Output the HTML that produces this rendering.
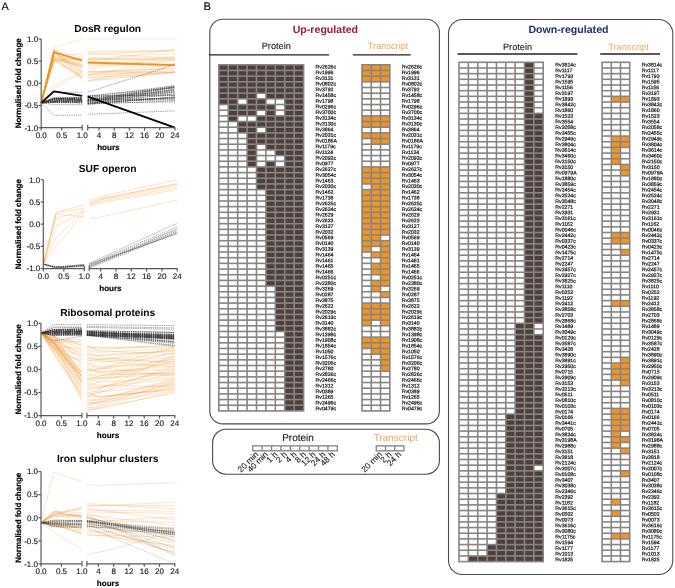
<!DOCTYPE html><html><head><meta charset="utf-8"><style>html,body{margin:0;padding:0;background:#fff;width:675px;height:588px;overflow:hidden}svg{display:block}</style></head><body>
<svg width="675" height="588" viewBox="0 0 675 588" text-rendering="geometricPrecision" font-family='"Liberation Sans", Arial, sans-serif'>
<rect width="675" height="588" fill="#fff"/>
<text x="1.5" y="9.7" font-size="10.9" fill="#000" stroke="#000" stroke-width="0.1">A</text>
<text x="203.5" y="9.9" font-size="11.2" fill="#000" stroke="#000" stroke-width="0.1">B</text>
<g>
<polyline points="41.20,102.86 53.91,59.46 68.06,61.58 82.20,66.96" fill="none" stroke="#f3a64c" stroke-width="0.55" stroke-opacity="0.5"/>
<polyline points="41.20,102.86 53.91,60.79 68.06,69.10 82.20,76.00" fill="none" stroke="#f3a64c" stroke-width="0.55" stroke-opacity="0.5"/>
<polyline points="41.20,102.86 53.91,60.24 68.06,67.36 82.20,76.46" fill="none" stroke="#f3a64c" stroke-width="0.55" stroke-opacity="0.5"/>
<polyline points="41.20,102.86 53.91,52.90 68.06,61.73 82.20,70.31" fill="none" stroke="#f3a64c" stroke-width="0.55" stroke-opacity="0.5"/>
<polyline points="41.20,102.86 53.91,52.36 68.06,63.04 82.20,72.72" fill="none" stroke="#f3a64c" stroke-width="0.55" stroke-opacity="0.5"/>
<polyline points="41.20,102.86 53.91,50.69 68.06,56.89 82.20,62.56" fill="none" stroke="#f3a64c" stroke-width="0.55" stroke-opacity="0.5"/>
<polyline points="41.20,102.86 53.91,50.31 68.06,59.15 82.20,65.68" fill="none" stroke="#f3a64c" stroke-width="0.55" stroke-opacity="0.5"/>
<polyline points="41.20,102.86 53.91,58.45 68.06,62.90 82.20,65.56" fill="none" stroke="#f3a64c" stroke-width="0.55" stroke-opacity="0.5"/>
<polyline points="41.20,102.86 53.91,56.47 68.06,61.15 82.20,64.58" fill="none" stroke="#f3a64c" stroke-width="0.55" stroke-opacity="0.5"/>
<polyline points="41.20,102.86 53.91,50.50 68.06,53.95 82.20,57.49" fill="none" stroke="#f3a64c" stroke-width="0.55" stroke-opacity="0.5"/>
<polyline points="41.20,102.86 53.91,54.96 68.06,64.81 82.20,72.67" fill="none" stroke="#f3a64c" stroke-width="0.55" stroke-opacity="0.5"/>
<polyline points="41.20,102.86 53.91,49.25 68.06,59.40 82.20,68.74" fill="none" stroke="#f3a64c" stroke-width="0.55" stroke-opacity="0.5"/>
<polyline points="41.20,102.86 53.91,52.22 68.06,63.68 82.20,74.60" fill="none" stroke="#f3a64c" stroke-width="0.55" stroke-opacity="0.5"/>
<polyline points="41.20,102.86 53.91,58.29 68.06,68.29 82.20,78.95" fill="none" stroke="#f3a64c" stroke-width="0.55" stroke-opacity="0.5"/>
<polyline points="41.20,102.86 53.91,56.57 68.06,63.04 82.20,67.74" fill="none" stroke="#f3a64c" stroke-width="0.55" stroke-opacity="0.5"/>
<polyline points="41.20,102.86 53.91,51.90 68.06,61.32 82.20,71.07" fill="none" stroke="#f3a64c" stroke-width="0.55" stroke-opacity="0.5"/>
<polyline points="41.20,102.86 53.91,59.05 68.06,54.77 82.20,54.17" fill="none" stroke="#f3a64c" stroke-width="0.55" stroke-opacity="0.5"/>
<polyline points="41.20,102.86 53.91,51.98 68.06,64.65 82.20,78.40" fill="none" stroke="#f3a64c" stroke-width="0.55" stroke-opacity="0.5"/>
<polyline points="41.20,102.86 53.91,49.92 68.06,56.48 82.20,64.68" fill="none" stroke="#f3a64c" stroke-width="0.55" stroke-opacity="0.5"/>
<polyline points="41.20,102.86 53.91,56.95 68.06,66.77 82.20,77.51" fill="none" stroke="#f3a64c" stroke-width="0.55" stroke-opacity="0.5"/>
<polyline points="41.20,102.86 53.91,60.85 68.06,60.12 82.20,58.22" fill="none" stroke="#f3a64c" stroke-width="0.55" stroke-opacity="0.5"/>
<polyline points="41.20,102.86 53.91,59.48 68.06,58.74 82.20,60.79" fill="none" stroke="#f3a64c" stroke-width="0.55" stroke-opacity="0.5"/>
<polyline points="41.20,102.86 53.91,60.35 68.06,62.52 82.20,64.41" fill="none" stroke="#f3a64c" stroke-width="0.55" stroke-opacity="0.5"/>
<polyline points="41.20,102.86 53.91,60.82 68.06,58.51 82.20,59.09" fill="none" stroke="#f3a64c" stroke-width="0.55" stroke-opacity="0.5"/>
<polyline points="41.20,102.86 53.91,59.94 68.06,68.80 82.20,79.34" fill="none" stroke="#f3a64c" stroke-width="0.55" stroke-opacity="0.5"/>
<polyline points="41.20,102.86 53.91,51.50 68.06,61.40 82.20,67.12" fill="none" stroke="#f3a64c" stroke-width="0.55" stroke-opacity="0.5"/>
<polyline points="41.20,102.86 53.91,47.87 82.20,39.00" fill="none" stroke="#f3a64c" stroke-width="0.55" stroke-opacity="0.5"/>
<polyline points="41.20,102.86 53.91,85.57 82.20,71.38" fill="none" stroke="#f3a64c" stroke-width="0.55" stroke-opacity="0.5"/>
<polyline points="41.20,102.86 53.91,88.67 82.20,72.71" fill="none" stroke="#f3a64c" stroke-width="0.55" stroke-opacity="0.5"/>
<polyline points="87.70,75.72 174.90,70.17" fill="none" stroke="#f3a64c" stroke-width="0.55" stroke-opacity="0.5"/>
<polyline points="87.70,74.45 174.90,72.26" fill="none" stroke="#f3a64c" stroke-width="0.55" stroke-opacity="0.5"/>
<polyline points="87.70,53.25 174.90,58.42" fill="none" stroke="#f3a64c" stroke-width="0.55" stroke-opacity="0.5"/>
<polyline points="87.70,68.93 174.90,58.18" fill="none" stroke="#f3a64c" stroke-width="0.55" stroke-opacity="0.5"/>
<polyline points="87.70,59.29 174.90,58.50" fill="none" stroke="#f3a64c" stroke-width="0.55" stroke-opacity="0.5"/>
<polyline points="87.70,80.37 174.90,72.26" fill="none" stroke="#f3a64c" stroke-width="0.55" stroke-opacity="0.5"/>
<polyline points="87.70,74.85 174.90,59.63" fill="none" stroke="#f3a64c" stroke-width="0.55" stroke-opacity="0.5"/>
<polyline points="87.70,59.43 174.90,60.34" fill="none" stroke="#f3a64c" stroke-width="0.55" stroke-opacity="0.5"/>
<polyline points="87.70,61.93 174.90,49.46" fill="none" stroke="#f3a64c" stroke-width="0.55" stroke-opacity="0.5"/>
<polyline points="87.70,58.22 174.90,60.19" fill="none" stroke="#f3a64c" stroke-width="0.55" stroke-opacity="0.5"/>
<polyline points="87.70,77.81 174.90,72.26" fill="none" stroke="#f3a64c" stroke-width="0.55" stroke-opacity="0.5"/>
<polyline points="87.70,78.00 174.90,72.26" fill="none" stroke="#f3a64c" stroke-width="0.55" stroke-opacity="0.5"/>
<polyline points="87.70,58.05 174.90,53.48" fill="none" stroke="#f3a64c" stroke-width="0.55" stroke-opacity="0.5"/>
<polyline points="87.70,58.89 174.90,57.61" fill="none" stroke="#f3a64c" stroke-width="0.55" stroke-opacity="0.5"/>
<polyline points="87.70,71.31 174.90,71.66" fill="none" stroke="#f3a64c" stroke-width="0.55" stroke-opacity="0.5"/>
<polyline points="87.70,51.46 174.90,49.98" fill="none" stroke="#f3a64c" stroke-width="0.55" stroke-opacity="0.5"/>
<polyline points="87.70,74.88 174.90,63.93" fill="none" stroke="#f3a64c" stroke-width="0.55" stroke-opacity="0.5"/>
<polyline points="87.70,80.57 174.90,64.82" fill="none" stroke="#f3a64c" stroke-width="0.55" stroke-opacity="0.5"/>
<polyline points="87.70,62.71 174.90,62.91" fill="none" stroke="#f3a64c" stroke-width="0.55" stroke-opacity="0.5"/>
<polyline points="87.70,66.99 174.90,56.11" fill="none" stroke="#f3a64c" stroke-width="0.55" stroke-opacity="0.5"/>
<polyline points="87.70,63.50 174.90,65.93" fill="none" stroke="#f3a64c" stroke-width="0.55" stroke-opacity="0.5"/>
<polyline points="87.70,81.26 174.90,72.26" fill="none" stroke="#f3a64c" stroke-width="0.55" stroke-opacity="0.5"/>
<polyline points="87.70,65.22 174.90,64.24" fill="none" stroke="#f3a64c" stroke-width="0.55" stroke-opacity="0.5"/>
<polyline points="87.70,72.38 174.90,68.53" fill="none" stroke="#f3a64c" stroke-width="0.55" stroke-opacity="0.5"/>
<polyline points="87.70,71.53 174.90,68.74" fill="none" stroke="#f3a64c" stroke-width="0.55" stroke-opacity="0.5"/>
<polyline points="87.70,72.68 174.90,72.26" fill="none" stroke="#f3a64c" stroke-width="0.55" stroke-opacity="0.5"/>
<polyline points="87.70,39.00 174.90,39.00" fill="none" stroke="#f3a64c" stroke-width="0.55" stroke-opacity="0.5"/>
<polyline points="87.70,54.52 174.90,50.09" fill="none" stroke="#f3a64c" stroke-width="0.55" stroke-opacity="0.5"/>
<polyline points="87.70,52.30 174.90,51.42" fill="none" stroke="#f3a64c" stroke-width="0.55" stroke-opacity="0.5"/>
<polyline points="41.20,102.86 53.91,98.01 82.20,99.90" fill="none" stroke="#3a3a3a" stroke-width="0.55" stroke-opacity="0.85" stroke-dasharray="1.4 0.8"/>
<polyline points="41.20,102.86 53.91,102.41 82.20,101.70" fill="none" stroke="#3a3a3a" stroke-width="0.55" stroke-opacity="0.85" stroke-dasharray="1.4 0.8"/>
<polyline points="41.20,102.86 53.91,97.74 82.20,97.22" fill="none" stroke="#3a3a3a" stroke-width="0.55" stroke-opacity="0.85" stroke-dasharray="1.4 0.8"/>
<polyline points="41.20,102.86 53.91,99.14 82.20,97.96" fill="none" stroke="#3a3a3a" stroke-width="0.55" stroke-opacity="0.85" stroke-dasharray="1.4 0.8"/>
<polyline points="41.20,102.86 53.91,98.57 82.20,97.67" fill="none" stroke="#3a3a3a" stroke-width="0.55" stroke-opacity="0.85" stroke-dasharray="1.4 0.8"/>
<polyline points="41.20,102.86 53.91,102.10 82.20,102.72" fill="none" stroke="#3a3a3a" stroke-width="0.55" stroke-opacity="0.85" stroke-dasharray="1.4 0.8"/>
<polyline points="41.20,102.86 53.91,102.60 82.20,103.03" fill="none" stroke="#3a3a3a" stroke-width="0.55" stroke-opacity="0.85" stroke-dasharray="1.4 0.8"/>
<polyline points="41.20,102.86 53.91,99.04 82.20,99.53" fill="none" stroke="#3a3a3a" stroke-width="0.55" stroke-opacity="0.85" stroke-dasharray="1.4 0.8"/>
<polyline points="41.20,102.86 53.91,98.82 82.20,98.59" fill="none" stroke="#3a3a3a" stroke-width="0.55" stroke-opacity="0.85" stroke-dasharray="1.4 0.8"/>
<polyline points="41.20,102.86 53.91,98.66 82.20,100.37" fill="none" stroke="#3a3a3a" stroke-width="0.55" stroke-opacity="0.85" stroke-dasharray="1.4 0.8"/>
<polyline points="41.20,102.86 53.91,102.13 82.20,101.93" fill="none" stroke="#3a3a3a" stroke-width="0.55" stroke-opacity="0.85" stroke-dasharray="1.4 0.8"/>
<polyline points="41.20,102.86 53.91,100.21 82.20,99.70" fill="none" stroke="#3a3a3a" stroke-width="0.55" stroke-opacity="0.85" stroke-dasharray="1.4 0.8"/>
<polyline points="41.20,102.86 53.91,99.64 82.20,100.28" fill="none" stroke="#3a3a3a" stroke-width="0.55" stroke-opacity="0.85" stroke-dasharray="1.4 0.8"/>
<polyline points="41.20,102.86 53.91,101.59 82.20,100.92" fill="none" stroke="#3a3a3a" stroke-width="0.55" stroke-opacity="0.85" stroke-dasharray="1.4 0.8"/>
<polyline points="41.20,102.86 53.91,100.96 82.20,99.07" fill="none" stroke="#3a3a3a" stroke-width="0.55" stroke-opacity="0.85" stroke-dasharray="1.4 0.8"/>
<polyline points="41.20,102.86 53.91,101.32 82.20,100.98" fill="none" stroke="#3a3a3a" stroke-width="0.55" stroke-opacity="0.85" stroke-dasharray="1.4 0.8"/>
<polyline points="41.20,102.86 53.91,100.65 82.20,100.16" fill="none" stroke="#3a3a3a" stroke-width="0.55" stroke-opacity="0.85" stroke-dasharray="1.4 0.8"/>
<polyline points="41.20,102.86 53.91,99.28 82.20,99.10" fill="none" stroke="#3a3a3a" stroke-width="0.55" stroke-opacity="0.85" stroke-dasharray="1.4 0.8"/>
<polyline points="41.20,102.86 53.91,101.49 82.20,102.83" fill="none" stroke="#3a3a3a" stroke-width="0.55" stroke-opacity="0.85" stroke-dasharray="1.4 0.8"/>
<polyline points="41.20,102.86 53.91,102.35 82.20,101.35" fill="none" stroke="#3a3a3a" stroke-width="0.55" stroke-opacity="0.85" stroke-dasharray="1.4 0.8"/>
<polyline points="41.20,102.86 53.91,99.94 82.20,99.83" fill="none" stroke="#3a3a3a" stroke-width="0.55" stroke-opacity="0.85" stroke-dasharray="1.4 0.8"/>
<polyline points="41.20,102.86 53.91,102.04 82.20,101.49" fill="none" stroke="#3a3a3a" stroke-width="0.55" stroke-opacity="0.85" stroke-dasharray="1.4 0.8"/>
<polyline points="41.20,102.86 53.91,98.69 82.20,98.42" fill="none" stroke="#3a3a3a" stroke-width="0.55" stroke-opacity="0.85" stroke-dasharray="1.4 0.8"/>
<polyline points="41.20,102.86 53.91,98.06 82.20,97.98" fill="none" stroke="#3a3a3a" stroke-width="0.55" stroke-opacity="0.85" stroke-dasharray="1.4 0.8"/>
<polyline points="41.20,102.86 53.91,101.27 82.20,101.42" fill="none" stroke="#3a3a3a" stroke-width="0.55" stroke-opacity="0.85" stroke-dasharray="1.4 0.8"/>
<polyline points="41.20,102.86 53.91,101.05 82.20,100.71" fill="none" stroke="#3a3a3a" stroke-width="0.55" stroke-opacity="0.85" stroke-dasharray="1.4 0.8"/>
<polyline points="41.20,102.86 53.91,98.20 82.20,97.68" fill="none" stroke="#3a3a3a" stroke-width="0.55" stroke-opacity="0.85" stroke-dasharray="1.4 0.8"/>
<polyline points="41.20,102.86 53.91,98.90 82.20,98.11" fill="none" stroke="#3a3a3a" stroke-width="0.55" stroke-opacity="0.85" stroke-dasharray="1.4 0.8"/>
<polyline points="41.20,102.86 53.91,98.70 82.20,99.35" fill="none" stroke="#3a3a3a" stroke-width="0.55" stroke-opacity="0.85" stroke-dasharray="1.4 0.8"/>
<polyline points="41.20,102.86 53.91,99.85 82.20,100.35" fill="none" stroke="#3a3a3a" stroke-width="0.55" stroke-opacity="0.85" stroke-dasharray="1.4 0.8"/>
<polyline points="41.20,102.86 53.91,92.22 82.20,92.22" fill="none" stroke="#3a3a3a" stroke-width="0.55" stroke-opacity="0.85" stroke-dasharray="1.4 0.8"/>
<polyline points="41.20,102.86 53.91,115.28 82.20,115.28" fill="none" stroke="#3a3a3a" stroke-width="0.55" stroke-opacity="0.85" stroke-dasharray="1.4 0.8"/>
<polyline points="41.20,102.86 53.91,104.64 82.20,104.64" fill="none" stroke="#3a3a3a" stroke-width="0.55" stroke-opacity="0.85" stroke-dasharray="1.4 0.8"/>
<polyline points="87.70,99.71 174.90,87.07" fill="none" stroke="#3a3a3a" stroke-width="0.55" stroke-opacity="0.85" stroke-dasharray="1.4 0.8"/>
<polyline points="87.70,98.38 174.90,85.91" fill="none" stroke="#3a3a3a" stroke-width="0.55" stroke-opacity="0.85" stroke-dasharray="1.4 0.8"/>
<polyline points="87.70,100.24 174.90,86.56" fill="none" stroke="#3a3a3a" stroke-width="0.55" stroke-opacity="0.85" stroke-dasharray="1.4 0.8"/>
<polyline points="87.70,103.68 174.90,90.08" fill="none" stroke="#3a3a3a" stroke-width="0.55" stroke-opacity="0.85" stroke-dasharray="1.4 0.8"/>
<polyline points="87.70,101.34 174.90,99.93" fill="none" stroke="#3a3a3a" stroke-width="0.55" stroke-opacity="0.85" stroke-dasharray="1.4 0.8"/>
<polyline points="87.70,99.14 174.90,92.08" fill="none" stroke="#3a3a3a" stroke-width="0.55" stroke-opacity="0.85" stroke-dasharray="1.4 0.8"/>
<polyline points="87.70,100.84 174.90,87.61" fill="none" stroke="#3a3a3a" stroke-width="0.55" stroke-opacity="0.85" stroke-dasharray="1.4 0.8"/>
<polyline points="87.70,103.42 174.90,93.84" fill="none" stroke="#3a3a3a" stroke-width="0.55" stroke-opacity="0.85" stroke-dasharray="1.4 0.8"/>
<polyline points="87.70,100.97 174.90,92.77" fill="none" stroke="#3a3a3a" stroke-width="0.55" stroke-opacity="0.85" stroke-dasharray="1.4 0.8"/>
<polyline points="87.70,100.21 174.90,98.13" fill="none" stroke="#3a3a3a" stroke-width="0.55" stroke-opacity="0.85" stroke-dasharray="1.4 0.8"/>
<polyline points="87.70,100.10 174.90,86.71" fill="none" stroke="#3a3a3a" stroke-width="0.55" stroke-opacity="0.85" stroke-dasharray="1.4 0.8"/>
<polyline points="87.70,103.12 174.90,101.98" fill="none" stroke="#3a3a3a" stroke-width="0.55" stroke-opacity="0.85" stroke-dasharray="1.4 0.8"/>
<polyline points="87.70,104.04 174.90,96.90" fill="none" stroke="#3a3a3a" stroke-width="0.55" stroke-opacity="0.85" stroke-dasharray="1.4 0.8"/>
<polyline points="87.70,95.99 174.90,95.31" fill="none" stroke="#3a3a3a" stroke-width="0.55" stroke-opacity="0.85" stroke-dasharray="1.4 0.8"/>
<polyline points="87.70,95.85 174.90,87.53" fill="none" stroke="#3a3a3a" stroke-width="0.55" stroke-opacity="0.85" stroke-dasharray="1.4 0.8"/>
<polyline points="87.70,103.57 174.90,97.08" fill="none" stroke="#3a3a3a" stroke-width="0.55" stroke-opacity="0.85" stroke-dasharray="1.4 0.8"/>
<polyline points="87.70,102.80 174.90,91.71" fill="none" stroke="#3a3a3a" stroke-width="0.55" stroke-opacity="0.85" stroke-dasharray="1.4 0.8"/>
<polyline points="87.70,99.83 174.90,95.36" fill="none" stroke="#3a3a3a" stroke-width="0.55" stroke-opacity="0.85" stroke-dasharray="1.4 0.8"/>
<polyline points="87.70,102.37 174.90,88.91" fill="none" stroke="#3a3a3a" stroke-width="0.55" stroke-opacity="0.85" stroke-dasharray="1.4 0.8"/>
<polyline points="87.70,97.84 174.90,91.07" fill="none" stroke="#3a3a3a" stroke-width="0.55" stroke-opacity="0.85" stroke-dasharray="1.4 0.8"/>
<polyline points="87.70,101.04 174.90,89.59" fill="none" stroke="#3a3a3a" stroke-width="0.55" stroke-opacity="0.85" stroke-dasharray="1.4 0.8"/>
<polyline points="87.70,96.03 174.90,94.79" fill="none" stroke="#3a3a3a" stroke-width="0.55" stroke-opacity="0.85" stroke-dasharray="1.4 0.8"/>
<polyline points="87.70,103.23 174.90,97.60" fill="none" stroke="#3a3a3a" stroke-width="0.55" stroke-opacity="0.85" stroke-dasharray="1.4 0.8"/>
<polyline points="87.70,100.13 174.90,99.03" fill="none" stroke="#3a3a3a" stroke-width="0.55" stroke-opacity="0.85" stroke-dasharray="1.4 0.8"/>
<polyline points="87.70,104.16 174.90,100.76" fill="none" stroke="#3a3a3a" stroke-width="0.55" stroke-opacity="0.85" stroke-dasharray="1.4 0.8"/>
<polyline points="87.70,101.21 174.90,89.74" fill="none" stroke="#3a3a3a" stroke-width="0.55" stroke-opacity="0.85" stroke-dasharray="1.4 0.8"/>
<polyline points="87.70,99.23 174.90,98.77" fill="none" stroke="#3a3a3a" stroke-width="0.55" stroke-opacity="0.85" stroke-dasharray="1.4 0.8"/>
<polyline points="87.70,104.24 174.90,97.22" fill="none" stroke="#3a3a3a" stroke-width="0.55" stroke-opacity="0.85" stroke-dasharray="1.4 0.8"/>
<polyline points="87.70,96.88 174.90,85.57" fill="none" stroke="#3a3a3a" stroke-width="0.55" stroke-opacity="0.85" stroke-dasharray="1.4 0.8"/>
<polyline points="87.70,101.40 174.90,87.63" fill="none" stroke="#3a3a3a" stroke-width="0.55" stroke-opacity="0.85" stroke-dasharray="1.4 0.8"/>
<polyline points="87.70,114.39 174.90,110.85" fill="none" stroke="#3a3a3a" stroke-width="0.55" stroke-opacity="0.85" stroke-dasharray="1.4 0.8"/>
<polyline points="87.70,92.22 174.90,64.72" fill="none" stroke="#3a3a3a" stroke-width="0.55" stroke-opacity="0.85" stroke-dasharray="1.4 0.8"/>
<polyline points="41.20,102.86 53.91,52.30 82.20,60.29" fill="none" stroke="#f0921e" stroke-width="1.8" stroke-linejoin="round"/>
<polyline points="87.70,62.51 174.90,65.17" fill="none" stroke="#f0921e" stroke-width="1.8" stroke-linejoin="round"/>
<polyline points="41.20,102.86 53.91,91.33 82.20,95.77" fill="none" stroke="#000" stroke-width="1.8" stroke-linejoin="round"/>
<polyline points="87.70,96.66 174.90,127.70" fill="none" stroke="#000" stroke-width="1.8" stroke-linejoin="round"/>
<g stroke="#5a5a5a" stroke-width="1.2" fill="none">
<line x1="41.2" y1="39.0" x2="41.2" y2="128.15"/>
<line x1="40.75" y1="127.7" x2="82.2" y2="127.7"/>
<line x1="87.7" y1="127.7" x2="175.35" y2="127.7"/>
<line x1="38.6" y1="39.00" x2="41.2" y2="39.00"/>
<line x1="38.6" y1="61.17" x2="41.2" y2="61.17"/>
<line x1="38.6" y1="83.35" x2="41.2" y2="83.35"/>
<line x1="38.6" y1="105.52" x2="41.2" y2="105.52"/>
<line x1="38.6" y1="127.70" x2="41.2" y2="127.70"/>
<line x1="41.20" y1="127.7" x2="41.20" y2="130.6"/>
<line x1="61.70" y1="127.7" x2="61.70" y2="130.6"/>
<line x1="82.20" y1="124.8" x2="82.20" y2="130.4"/>
<line x1="87.70" y1="124.8" x2="87.70" y2="130.4"/>
<line x1="99.07" y1="127.7" x2="99.07" y2="130.6"/>
<line x1="114.24" y1="127.7" x2="114.24" y2="130.6"/>
<line x1="129.40" y1="127.7" x2="129.40" y2="130.6"/>
<line x1="144.57" y1="127.7" x2="144.57" y2="130.6"/>
<line x1="159.73" y1="127.7" x2="159.73" y2="130.6"/>
<line x1="174.90" y1="127.7" x2="174.90" y2="130.6"/>
</g>
<g font-size="8" fill="#1a1a1a" stroke="#1a1a1a" stroke-width="0.15" text-anchor="end">
<text x="38.20" y="41.80">1.0</text>
<text x="38.20" y="63.97">0.5</text>
<text x="38.20" y="86.15">0.0</text>
<text x="38.20" y="108.32">-0.5</text>
<text x="38.20" y="130.50">-1.0</text>
</g>
<g font-size="8" fill="#1a1a1a" stroke="#1a1a1a" stroke-width="0.15" text-anchor="middle">
<text x="41.20" y="137.60">0.0</text>
<text x="61.70" y="137.60">0.5</text>
<text x="82.20" y="137.60">1.0</text>
<text x="99.07" y="137.60">4</text>
<text x="114.24" y="137.60">8</text>
<text x="129.40" y="137.60">12</text>
<text x="144.57" y="137.60">16</text>
<text x="159.73" y="137.60">20</text>
<text x="174.90" y="137.60">24</text>
</g>
<text x="108.35" y="149.90" font-size="8.05" font-weight="bold" text-anchor="middle" fill="#000" stroke="#000" stroke-width="0.15">hours</text>
<text transform="translate(21.2,83.35) rotate(-90)" font-size="7.95" font-weight="bold" text-anchor="middle" fill="#000" stroke="#000" stroke-width="0.2">Normalised fold change</text>
<text x="107.7" y="32.00" font-size="10.2" font-weight="bold" text-anchor="middle" fill="#000">DosR regulon</text>
</g>
<g>
<polyline points="43.30,264.16 56.04,212.15 84.40,205.04" fill="none" stroke="#f3a64c" stroke-width="0.6" stroke-opacity="0.55"/>
<polyline points="43.30,264.16 56.04,214.37 84.40,216.59" fill="none" stroke="#f3a64c" stroke-width="0.6" stroke-opacity="0.55"/>
<polyline points="43.30,264.16 56.04,218.37 84.40,210.37" fill="none" stroke="#f3a64c" stroke-width="0.6" stroke-opacity="0.55"/>
<polyline points="43.30,264.16 56.04,226.37 84.40,210.81" fill="none" stroke="#f3a64c" stroke-width="0.6" stroke-opacity="0.55"/>
<polyline points="43.30,264.16 56.04,237.49 84.40,210.81" fill="none" stroke="#f3a64c" stroke-width="0.6" stroke-opacity="0.55"/>
<polyline points="43.30,264.16 56.04,246.38 84.40,213.04" fill="none" stroke="#f3a64c" stroke-width="0.6" stroke-opacity="0.55"/>
<polyline points="43.30,264.16 56.04,213.04 84.40,208.15" fill="none" stroke="#f3a64c" stroke-width="0.6" stroke-opacity="0.55"/>
<polyline points="89.20,200.59 100.68,196.59 177.20,179.70" fill="none" stroke="#f3a64c" stroke-width="0.6" stroke-opacity="0.55"/>
<polyline points="89.20,203.26 100.68,199.26 177.20,183.26" fill="none" stroke="#f3a64c" stroke-width="0.6" stroke-opacity="0.55"/>
<polyline points="89.20,204.15 100.68,200.15 177.20,185.03" fill="none" stroke="#f3a64c" stroke-width="0.6" stroke-opacity="0.55"/>
<polyline points="89.20,205.48 100.68,201.48 177.20,187.26" fill="none" stroke="#f3a64c" stroke-width="0.6" stroke-opacity="0.55"/>
<polyline points="89.20,206.37 100.68,202.81 177.20,189.48" fill="none" stroke="#f3a64c" stroke-width="0.6" stroke-opacity="0.55"/>
<polyline points="89.20,201.93 100.68,198.37 177.20,184.14" fill="none" stroke="#f3a64c" stroke-width="0.6" stroke-opacity="0.55"/>
<polyline points="89.20,218.37 100.68,217.04 177.20,200.15" fill="none" stroke="#f3a64c" stroke-width="0.6" stroke-opacity="0.55"/>
<polyline points="43.30,264.16 56.04,266.95 84.40,265.74" fill="none" stroke="#3a3a3a" stroke-width="0.55" stroke-opacity="0.75" stroke-dasharray="1.4 0.8"/>
<polyline points="43.30,264.16 56.04,267.27 84.40,265.85" fill="none" stroke="#3a3a3a" stroke-width="0.55" stroke-opacity="0.75" stroke-dasharray="1.4 0.8"/>
<polyline points="43.30,264.16 56.04,268.33 84.40,265.29" fill="none" stroke="#3a3a3a" stroke-width="0.55" stroke-opacity="0.75" stroke-dasharray="1.4 0.8"/>
<polyline points="43.30,264.16 56.04,268.45 84.40,265.05" fill="none" stroke="#3a3a3a" stroke-width="0.55" stroke-opacity="0.75" stroke-dasharray="1.4 0.8"/>
<polyline points="43.30,264.16 56.04,267.16 84.40,264.38" fill="none" stroke="#3a3a3a" stroke-width="0.55" stroke-opacity="0.75" stroke-dasharray="1.4 0.8"/>
<polyline points="43.30,264.16 56.04,267.80 84.40,266.51" fill="none" stroke="#3a3a3a" stroke-width="0.55" stroke-opacity="0.75" stroke-dasharray="1.4 0.8"/>
<polyline points="43.30,264.16 56.04,267.00 84.40,264.50" fill="none" stroke="#3a3a3a" stroke-width="0.55" stroke-opacity="0.75" stroke-dasharray="1.4 0.8"/>
<polyline points="43.30,264.16 56.04,266.88 84.40,265.24" fill="none" stroke="#3a3a3a" stroke-width="0.55" stroke-opacity="0.75" stroke-dasharray="1.4 0.8"/>
<polyline points="43.30,264.16 56.04,267.40 84.40,265.83" fill="none" stroke="#3a3a3a" stroke-width="0.55" stroke-opacity="0.75" stroke-dasharray="1.4 0.8"/>
<polyline points="89.20,263.27 177.20,223.26" fill="none" stroke="#3a3a3a" stroke-width="0.55" stroke-opacity="0.75" stroke-dasharray="1.4 0.8"/>
<polyline points="89.20,264.16 177.20,226.82" fill="none" stroke="#3a3a3a" stroke-width="0.55" stroke-opacity="0.75" stroke-dasharray="1.4 0.8"/>
<polyline points="89.20,265.04 177.20,228.59" fill="none" stroke="#3a3a3a" stroke-width="0.55" stroke-opacity="0.75" stroke-dasharray="1.4 0.8"/>
<polyline points="89.20,266.38 177.20,230.82" fill="none" stroke="#3a3a3a" stroke-width="0.55" stroke-opacity="0.75" stroke-dasharray="1.4 0.8"/>
<polyline points="89.20,267.27 177.20,231.71" fill="none" stroke="#3a3a3a" stroke-width="0.55" stroke-opacity="0.75" stroke-dasharray="1.4 0.8"/>
<polyline points="89.20,268.16 177.20,232.60" fill="none" stroke="#3a3a3a" stroke-width="0.55" stroke-opacity="0.75" stroke-dasharray="1.4 0.8"/>
<polyline points="89.20,265.49 177.20,233.04" fill="none" stroke="#3a3a3a" stroke-width="0.55" stroke-opacity="0.75" stroke-dasharray="1.4 0.8"/>
<polyline points="89.20,264.16 177.20,233.93" fill="none" stroke="#3a3a3a" stroke-width="0.55" stroke-opacity="0.75" stroke-dasharray="1.4 0.8"/>
<polyline points="89.20,266.82 177.20,229.48" fill="none" stroke="#3a3a3a" stroke-width="0.55" stroke-opacity="0.75" stroke-dasharray="1.4 0.8"/>
<g stroke="#5a5a5a" stroke-width="1.2" fill="none">
<line x1="43.3" y1="179.7" x2="43.3" y2="269.05"/>
<line x1="42.849999999999994" y1="268.6" x2="84.4" y2="268.6"/>
<line x1="89.2" y1="268.6" x2="177.64999999999998" y2="268.6"/>
<line x1="40.699999999999996" y1="179.70" x2="43.3" y2="179.70"/>
<line x1="40.699999999999996" y1="201.93" x2="43.3" y2="201.93"/>
<line x1="40.699999999999996" y1="224.15" x2="43.3" y2="224.15"/>
<line x1="40.699999999999996" y1="246.38" x2="43.3" y2="246.38"/>
<line x1="40.699999999999996" y1="268.60" x2="43.3" y2="268.60"/>
<line x1="43.30" y1="268.6" x2="43.30" y2="271.5"/>
<line x1="63.85" y1="268.6" x2="63.85" y2="271.5"/>
<line x1="84.40" y1="265.70000000000005" x2="84.40" y2="271.3"/>
<line x1="89.20" y1="265.70000000000005" x2="89.20" y2="271.3"/>
<line x1="100.68" y1="268.6" x2="100.68" y2="271.5"/>
<line x1="115.98" y1="268.6" x2="115.98" y2="271.5"/>
<line x1="131.29" y1="268.6" x2="131.29" y2="271.5"/>
<line x1="146.59" y1="268.6" x2="146.59" y2="271.5"/>
<line x1="161.90" y1="268.6" x2="161.90" y2="271.5"/>
<line x1="177.20" y1="268.6" x2="177.20" y2="271.5"/>
</g>
<g font-size="8" fill="#1a1a1a" stroke="#1a1a1a" stroke-width="0.15" text-anchor="end">
<text x="40.30" y="182.50">1.0</text>
<text x="40.30" y="204.73">0.5</text>
<text x="40.30" y="226.95">0.0</text>
<text x="40.30" y="249.18">-0.5</text>
<text x="40.30" y="271.40">-1.0</text>
</g>
<g font-size="8" fill="#1a1a1a" stroke="#1a1a1a" stroke-width="0.15" text-anchor="middle">
<text x="43.30" y="278.90">0.0</text>
<text x="63.85" y="278.90">0.5</text>
<text x="84.40" y="278.90">1.0</text>
<text x="100.68" y="278.90">4</text>
<text x="115.98" y="278.90">8</text>
<text x="131.29" y="278.90">12</text>
<text x="146.59" y="278.90">16</text>
<text x="161.90" y="278.90">20</text>
<text x="177.20" y="278.90">24</text>
</g>
<text x="110.4" y="290.80" font-size="8.05" font-weight="bold" text-anchor="middle" fill="#000" stroke="#000" stroke-width="0.15">hours</text>
<text transform="translate(21.2,224.15) rotate(-90)" font-size="7.95" font-weight="bold" text-anchor="middle" fill="#000" stroke="#000" stroke-width="0.2">Normalised fold change</text>
<text x="107.7" y="172.00" font-size="10.2" font-weight="bold" text-anchor="middle" fill="#000">SUF operon</text>
</g>
<g>
<polyline points="41.00,332.99 53.68,343.37 67.79,356.89 81.90,367.62" fill="none" stroke="#f3a64c" stroke-width="0.55" stroke-opacity="0.55"/>
<polyline points="41.00,332.99 53.68,342.35 67.79,356.34 81.90,360.05" fill="none" stroke="#f3a64c" stroke-width="0.55" stroke-opacity="0.55"/>
<polyline points="41.00,332.99 53.68,346.22 67.79,366.01 81.90,388.09" fill="none" stroke="#f3a64c" stroke-width="0.55" stroke-opacity="0.55"/>
<polyline points="41.00,332.99 53.68,337.36 67.79,340.02 81.90,346.12" fill="none" stroke="#f3a64c" stroke-width="0.55" stroke-opacity="0.55"/>
<polyline points="41.00,332.99 53.68,335.67 67.79,342.93 81.90,350.05" fill="none" stroke="#f3a64c" stroke-width="0.55" stroke-opacity="0.55"/>
<polyline points="41.00,332.99 53.68,341.21 67.79,358.73 81.90,378.22" fill="none" stroke="#f3a64c" stroke-width="0.55" stroke-opacity="0.55"/>
<polyline points="41.00,332.99 53.68,346.30 67.79,368.84 81.90,392.09" fill="none" stroke="#f3a64c" stroke-width="0.55" stroke-opacity="0.55"/>
<polyline points="41.00,332.99 53.68,354.11 67.79,374.92 81.90,393.65" fill="none" stroke="#f3a64c" stroke-width="0.55" stroke-opacity="0.55"/>
<polyline points="41.00,332.99 53.68,348.76 67.79,346.84 81.90,348.67" fill="none" stroke="#f3a64c" stroke-width="0.55" stroke-opacity="0.55"/>
<polyline points="41.00,332.99 53.68,340.75 67.79,340.15 81.90,343.42" fill="none" stroke="#f3a64c" stroke-width="0.55" stroke-opacity="0.55"/>
<polyline points="41.00,332.99 53.68,342.92 67.79,363.25 81.90,374.43" fill="none" stroke="#f3a64c" stroke-width="0.55" stroke-opacity="0.55"/>
<polyline points="41.00,332.99 53.68,342.62 67.79,358.89 81.90,381.10" fill="none" stroke="#f3a64c" stroke-width="0.55" stroke-opacity="0.55"/>
<polyline points="41.00,332.99 53.68,351.08 67.79,363.39 81.90,371.41" fill="none" stroke="#f3a64c" stroke-width="0.55" stroke-opacity="0.55"/>
<polyline points="41.00,332.99 53.68,349.06 67.79,355.39 81.90,361.82" fill="none" stroke="#f3a64c" stroke-width="0.55" stroke-opacity="0.55"/>
<polyline points="41.00,332.99 53.68,343.84 67.79,361.42 81.90,379.81" fill="none" stroke="#f3a64c" stroke-width="0.55" stroke-opacity="0.55"/>
<polyline points="41.00,332.99 53.68,342.78 67.79,364.75 81.90,385.08" fill="none" stroke="#f3a64c" stroke-width="0.55" stroke-opacity="0.55"/>
<polyline points="41.00,332.99 53.68,342.76 67.79,342.19 81.90,341.20" fill="none" stroke="#f3a64c" stroke-width="0.55" stroke-opacity="0.55"/>
<polyline points="41.00,332.99 53.68,343.63 67.79,340.00 81.90,339.18" fill="none" stroke="#f3a64c" stroke-width="0.55" stroke-opacity="0.55"/>
<polyline points="41.00,332.99 53.68,342.57 67.79,370.27 81.90,395.79" fill="none" stroke="#f3a64c" stroke-width="0.55" stroke-opacity="0.55"/>
<polyline points="41.00,332.99 53.68,343.79 67.79,352.90 81.90,365.66" fill="none" stroke="#f3a64c" stroke-width="0.55" stroke-opacity="0.55"/>
<polyline points="41.00,332.99 53.68,338.57 67.79,347.39 81.90,353.43" fill="none" stroke="#f3a64c" stroke-width="0.55" stroke-opacity="0.55"/>
<polyline points="41.00,332.99 53.68,343.13 67.79,362.27 81.90,383.67" fill="none" stroke="#f3a64c" stroke-width="0.55" stroke-opacity="0.55"/>
<polyline points="41.00,332.99 53.68,337.74 67.79,341.52 81.90,344.94" fill="none" stroke="#f3a64c" stroke-width="0.55" stroke-opacity="0.55"/>
<polyline points="41.00,332.99 53.68,347.96 67.79,350.79 81.90,355.24" fill="none" stroke="#f3a64c" stroke-width="0.55" stroke-opacity="0.55"/>
<polyline points="41.00,332.99 53.68,335.73 67.79,347.10 81.90,356.65" fill="none" stroke="#f3a64c" stroke-width="0.55" stroke-opacity="0.55"/>
<polyline points="41.00,332.99 53.68,347.70 67.79,373.80 81.90,401.21" fill="none" stroke="#f3a64c" stroke-width="0.55" stroke-opacity="0.55"/>
<polyline points="41.00,332.99 53.68,338.62 67.79,349.83 81.90,358.27" fill="none" stroke="#f3a64c" stroke-width="0.55" stroke-opacity="0.55"/>
<polyline points="41.00,332.99 53.68,344.65 67.79,362.14 81.90,376.64" fill="none" stroke="#f3a64c" stroke-width="0.55" stroke-opacity="0.55"/>
<polyline points="41.00,332.99 53.68,352.36 67.79,374.46 81.90,399.34" fill="none" stroke="#f3a64c" stroke-width="0.55" stroke-opacity="0.55"/>
<polyline points="41.00,332.99 53.68,352.39 67.79,372.07 81.90,397.13" fill="none" stroke="#f3a64c" stroke-width="0.55" stroke-opacity="0.55"/>
<polyline points="41.00,332.99 53.68,335.19 67.79,348.46 81.90,363.98" fill="none" stroke="#f3a64c" stroke-width="0.55" stroke-opacity="0.55"/>
<polyline points="41.00,332.99 53.68,348.74 67.79,368.47 81.90,387.18" fill="none" stroke="#f3a64c" stroke-width="0.55" stroke-opacity="0.55"/>
<polyline points="41.00,332.99 53.68,344.73 67.79,359.98 81.90,369.76" fill="none" stroke="#f3a64c" stroke-width="0.55" stroke-opacity="0.55"/>
<polyline points="41.00,332.99 53.68,347.70 67.79,359.99 81.90,372.88" fill="none" stroke="#f3a64c" stroke-width="0.55" stroke-opacity="0.55"/>
<polyline points="41.00,332.99 53.68,343.52 67.79,347.45 81.90,351.81" fill="none" stroke="#f3a64c" stroke-width="0.55" stroke-opacity="0.55"/>
<polyline points="41.00,332.99 53.68,346.67 67.79,367.15 81.90,390.39" fill="none" stroke="#f3a64c" stroke-width="0.55" stroke-opacity="0.55"/>
<polyline points="41.00,332.99 53.68,336.27 67.79,354.02 81.90,376.81" fill="none" stroke="#f3a64c" stroke-width="0.55" stroke-opacity="0.55"/>
<polyline points="41.00,332.99 53.68,341.47 67.79,357.23 81.90,372.49" fill="none" stroke="#f3a64c" stroke-width="0.55" stroke-opacity="0.55"/>
<polyline points="41.00,332.99 53.68,338.49 67.79,356.25 81.90,375.39" fill="none" stroke="#f3a64c" stroke-width="0.55" stroke-opacity="0.55"/>
<polyline points="41.00,332.99 53.68,339.37 67.79,359.94 81.90,376.31" fill="none" stroke="#f3a64c" stroke-width="0.55" stroke-opacity="0.55"/>
<polyline points="41.00,332.99 53.68,342.53 67.79,361.53 81.90,375.79" fill="none" stroke="#f3a64c" stroke-width="0.55" stroke-opacity="0.55"/>
<polyline points="41.00,332.99 53.68,336.00 67.79,357.01 81.90,380.93" fill="none" stroke="#f3a64c" stroke-width="0.55" stroke-opacity="0.55"/>
<polyline points="41.00,332.99 53.68,335.40 67.79,355.24 81.90,373.03" fill="none" stroke="#f3a64c" stroke-width="0.55" stroke-opacity="0.55"/>
<polyline points="41.00,332.99 53.68,341.51 67.79,362.26 81.90,382.16" fill="none" stroke="#f3a64c" stroke-width="0.55" stroke-opacity="0.55"/>
<polyline points="41.00,332.99 53.68,340.01 67.79,361.03 81.90,382.78" fill="none" stroke="#f3a64c" stroke-width="0.55" stroke-opacity="0.55"/>
<polyline points="86.90,412.08 98.37,407.26 174.80,386.08" fill="none" stroke="#f3a64c" stroke-width="0.55" stroke-opacity="0.55"/>
<polyline points="86.90,409.97 98.37,408.76 174.80,391.87" fill="none" stroke="#f3a64c" stroke-width="0.55" stroke-opacity="0.55"/>
<polyline points="86.90,409.07 98.37,405.65 174.80,381.89" fill="none" stroke="#f3a64c" stroke-width="0.55" stroke-opacity="0.55"/>
<polyline points="86.90,407.49 98.37,408.31 174.80,392.70" fill="none" stroke="#f3a64c" stroke-width="0.55" stroke-opacity="0.55"/>
<polyline points="86.90,406.26 98.37,401.67 174.80,380.98" fill="none" stroke="#f3a64c" stroke-width="0.55" stroke-opacity="0.55"/>
<polyline points="86.90,404.66 98.37,402.10 174.80,384.83" fill="none" stroke="#f3a64c" stroke-width="0.55" stroke-opacity="0.55"/>
<polyline points="86.90,403.24 98.37,402.99 174.80,383.00" fill="none" stroke="#f3a64c" stroke-width="0.55" stroke-opacity="0.55"/>
<polyline points="86.90,402.22 98.37,403.06 174.80,390.70" fill="none" stroke="#f3a64c" stroke-width="0.55" stroke-opacity="0.55"/>
<polyline points="86.90,400.73 98.37,399.45 174.80,380.04" fill="none" stroke="#f3a64c" stroke-width="0.55" stroke-opacity="0.55"/>
<polyline points="86.90,399.72 98.37,400.45 174.80,378.38" fill="none" stroke="#f3a64c" stroke-width="0.55" stroke-opacity="0.55"/>
<polyline points="86.90,398.20 98.37,392.27 174.80,365.43" fill="none" stroke="#f3a64c" stroke-width="0.55" stroke-opacity="0.55"/>
<polyline points="86.90,396.89 98.37,389.63 174.80,355.19" fill="none" stroke="#f3a64c" stroke-width="0.55" stroke-opacity="0.55"/>
<polyline points="86.90,395.45 98.37,397.14 174.80,388.23" fill="none" stroke="#f3a64c" stroke-width="0.55" stroke-opacity="0.55"/>
<polyline points="86.90,394.07 98.37,392.88 174.80,372.45" fill="none" stroke="#f3a64c" stroke-width="0.55" stroke-opacity="0.55"/>
<polyline points="86.90,392.50 98.37,397.19 174.80,388.82" fill="none" stroke="#f3a64c" stroke-width="0.55" stroke-opacity="0.55"/>
<polyline points="86.90,391.33 98.37,396.48 174.80,389.98" fill="none" stroke="#f3a64c" stroke-width="0.55" stroke-opacity="0.55"/>
<polyline points="86.90,389.97 98.37,392.06 174.80,384.17" fill="none" stroke="#f3a64c" stroke-width="0.55" stroke-opacity="0.55"/>
<polyline points="86.90,388.19 98.37,388.40 174.80,368.19" fill="none" stroke="#f3a64c" stroke-width="0.55" stroke-opacity="0.55"/>
<polyline points="86.90,387.50 98.37,387.91 174.80,370.25" fill="none" stroke="#f3a64c" stroke-width="0.55" stroke-opacity="0.55"/>
<polyline points="86.90,386.14 98.37,381.74 174.80,360.49" fill="none" stroke="#f3a64c" stroke-width="0.55" stroke-opacity="0.55"/>
<polyline points="86.90,384.73 98.37,386.89 174.80,378.85" fill="none" stroke="#f3a64c" stroke-width="0.55" stroke-opacity="0.55"/>
<polyline points="86.90,382.70 98.37,385.21 174.80,386.79" fill="none" stroke="#f3a64c" stroke-width="0.55" stroke-opacity="0.55"/>
<polyline points="86.90,381.52 98.37,378.90 174.80,358.48" fill="none" stroke="#f3a64c" stroke-width="0.55" stroke-opacity="0.55"/>
<polyline points="86.90,380.08 98.37,376.27 174.80,356.68" fill="none" stroke="#f3a64c" stroke-width="0.55" stroke-opacity="0.55"/>
<polyline points="86.90,378.53 98.37,377.85 174.80,374.91" fill="none" stroke="#f3a64c" stroke-width="0.55" stroke-opacity="0.55"/>
<polyline points="86.90,377.77 98.37,382.42 174.80,377.39" fill="none" stroke="#f3a64c" stroke-width="0.55" stroke-opacity="0.55"/>
<polyline points="86.90,375.83 98.37,378.88 174.80,371.26" fill="none" stroke="#f3a64c" stroke-width="0.55" stroke-opacity="0.55"/>
<polyline points="86.90,375.01 98.37,376.59 174.80,362.08" fill="none" stroke="#f3a64c" stroke-width="0.55" stroke-opacity="0.55"/>
<polyline points="86.90,373.42 98.37,375.00 174.80,373.31" fill="none" stroke="#f3a64c" stroke-width="0.55" stroke-opacity="0.55"/>
<polyline points="86.90,371.92 98.37,369.15 174.80,346.51" fill="none" stroke="#f3a64c" stroke-width="0.55" stroke-opacity="0.55"/>
<polyline points="86.90,370.46 98.37,371.20 174.80,369.27" fill="none" stroke="#f3a64c" stroke-width="0.55" stroke-opacity="0.55"/>
<polyline points="86.90,369.55 98.37,369.44 174.80,352.32" fill="none" stroke="#f3a64c" stroke-width="0.55" stroke-opacity="0.55"/>
<polyline points="86.90,367.99 98.37,372.25 174.80,366.06" fill="none" stroke="#f3a64c" stroke-width="0.55" stroke-opacity="0.55"/>
<polyline points="86.90,366.98 98.37,372.71 174.80,374.08" fill="none" stroke="#f3a64c" stroke-width="0.55" stroke-opacity="0.55"/>
<polyline points="86.90,365.41 98.37,369.33 174.80,359.12" fill="none" stroke="#f3a64c" stroke-width="0.55" stroke-opacity="0.55"/>
<polyline points="86.90,363.48 98.37,367.45 174.80,376.13" fill="none" stroke="#f3a64c" stroke-width="0.55" stroke-opacity="0.55"/>
<polyline points="86.90,362.18 98.37,366.53 174.80,364.55" fill="none" stroke="#f3a64c" stroke-width="0.55" stroke-opacity="0.55"/>
<polyline points="86.90,361.08 98.37,359.43 174.80,349.35" fill="none" stroke="#f3a64c" stroke-width="0.55" stroke-opacity="0.55"/>
<polyline points="86.90,359.54 98.37,362.04 174.80,357.20" fill="none" stroke="#f3a64c" stroke-width="0.55" stroke-opacity="0.55"/>
<polyline points="86.90,358.08 98.37,360.56 174.80,367.41" fill="none" stroke="#f3a64c" stroke-width="0.55" stroke-opacity="0.55"/>
<polyline points="86.90,357.18 98.37,359.66 174.80,354.59" fill="none" stroke="#f3a64c" stroke-width="0.55" stroke-opacity="0.55"/>
<polyline points="86.90,355.29 98.37,359.54 174.80,361.55" fill="none" stroke="#f3a64c" stroke-width="0.55" stroke-opacity="0.55"/>
<polyline points="86.90,354.35 98.37,355.45 174.80,350.21" fill="none" stroke="#f3a64c" stroke-width="0.55" stroke-opacity="0.55"/>
<polyline points="86.90,353.23 98.37,357.20 174.80,363.42" fill="none" stroke="#f3a64c" stroke-width="0.55" stroke-opacity="0.55"/>
<polyline points="86.90,351.56 98.37,355.42 174.80,351.18" fill="none" stroke="#f3a64c" stroke-width="0.55" stroke-opacity="0.55"/>
<polyline points="86.90,350.14 98.37,352.43 174.80,348.27" fill="none" stroke="#f3a64c" stroke-width="0.55" stroke-opacity="0.55"/>
<polyline points="86.90,348.69 98.37,350.08 174.80,344.35" fill="none" stroke="#f3a64c" stroke-width="0.55" stroke-opacity="0.55"/>
<polyline points="86.90,347.34 98.37,347.65 174.80,345.76" fill="none" stroke="#f3a64c" stroke-width="0.55" stroke-opacity="0.55"/>
<polyline points="86.90,346.49 98.37,348.20 174.80,347.24" fill="none" stroke="#f3a64c" stroke-width="0.55" stroke-opacity="0.55"/>
<polyline points="86.90,344.64 98.37,351.13 174.80,353.64" fill="none" stroke="#f3a64c" stroke-width="0.55" stroke-opacity="0.55"/>
<polyline points="41.00,332.99 53.68,329.48 81.90,328.73" fill="none" stroke="#3a3a3a" stroke-width="0.55" stroke-opacity="0.85" stroke-dasharray="1.4 0.8"/>
<polyline points="41.00,332.99 53.68,330.13 81.90,331.20" fill="none" stroke="#3a3a3a" stroke-width="0.55" stroke-opacity="0.85" stroke-dasharray="1.4 0.8"/>
<polyline points="41.00,332.99 53.68,334.35 81.90,334.27" fill="none" stroke="#3a3a3a" stroke-width="0.55" stroke-opacity="0.85" stroke-dasharray="1.4 0.8"/>
<polyline points="41.00,332.99 53.68,331.26 81.90,330.75" fill="none" stroke="#3a3a3a" stroke-width="0.55" stroke-opacity="0.85" stroke-dasharray="1.4 0.8"/>
<polyline points="41.00,332.99 53.68,329.59 81.90,329.06" fill="none" stroke="#3a3a3a" stroke-width="0.55" stroke-opacity="0.85" stroke-dasharray="1.4 0.8"/>
<polyline points="41.00,332.99 53.68,331.04 81.90,331.40" fill="none" stroke="#3a3a3a" stroke-width="0.55" stroke-opacity="0.85" stroke-dasharray="1.4 0.8"/>
<polyline points="41.00,332.99 53.68,334.38 81.90,333.99" fill="none" stroke="#3a3a3a" stroke-width="0.55" stroke-opacity="0.85" stroke-dasharray="1.4 0.8"/>
<polyline points="41.00,332.99 53.68,333.64 81.90,333.24" fill="none" stroke="#3a3a3a" stroke-width="0.55" stroke-opacity="0.85" stroke-dasharray="1.4 0.8"/>
<polyline points="41.00,332.99 53.68,335.44 81.90,335.06" fill="none" stroke="#3a3a3a" stroke-width="0.55" stroke-opacity="0.85" stroke-dasharray="1.4 0.8"/>
<polyline points="41.00,332.99 53.68,331.67 81.90,331.87" fill="none" stroke="#3a3a3a" stroke-width="0.55" stroke-opacity="0.85" stroke-dasharray="1.4 0.8"/>
<polyline points="41.00,332.99 53.68,330.32 81.90,330.21" fill="none" stroke="#3a3a3a" stroke-width="0.55" stroke-opacity="0.85" stroke-dasharray="1.4 0.8"/>
<polyline points="41.00,332.99 53.68,330.28 81.90,330.41" fill="none" stroke="#3a3a3a" stroke-width="0.55" stroke-opacity="0.85" stroke-dasharray="1.4 0.8"/>
<polyline points="41.00,332.99 53.68,334.06 81.90,333.75" fill="none" stroke="#3a3a3a" stroke-width="0.55" stroke-opacity="0.85" stroke-dasharray="1.4 0.8"/>
<polyline points="41.00,332.99 53.68,332.87 81.90,332.08" fill="none" stroke="#3a3a3a" stroke-width="0.55" stroke-opacity="0.85" stroke-dasharray="1.4 0.8"/>
<polyline points="41.00,332.99 53.68,333.21 81.90,333.74" fill="none" stroke="#3a3a3a" stroke-width="0.55" stroke-opacity="0.85" stroke-dasharray="1.4 0.8"/>
<polyline points="41.00,332.99 53.68,332.02 81.90,331.25" fill="none" stroke="#3a3a3a" stroke-width="0.55" stroke-opacity="0.85" stroke-dasharray="1.4 0.8"/>
<polyline points="41.00,332.99 53.68,333.24 81.90,333.65" fill="none" stroke="#3a3a3a" stroke-width="0.55" stroke-opacity="0.85" stroke-dasharray="1.4 0.8"/>
<polyline points="41.00,332.99 53.68,332.52 81.90,332.84" fill="none" stroke="#3a3a3a" stroke-width="0.55" stroke-opacity="0.85" stroke-dasharray="1.4 0.8"/>
<polyline points="41.00,332.99 53.68,329.85 81.90,329.13" fill="none" stroke="#3a3a3a" stroke-width="0.55" stroke-opacity="0.85" stroke-dasharray="1.4 0.8"/>
<polyline points="41.00,332.99 53.68,332.95 81.90,332.88" fill="none" stroke="#3a3a3a" stroke-width="0.55" stroke-opacity="0.85" stroke-dasharray="1.4 0.8"/>
<polyline points="41.00,332.99 53.68,329.87 81.90,329.89" fill="none" stroke="#3a3a3a" stroke-width="0.55" stroke-opacity="0.85" stroke-dasharray="1.4 0.8"/>
<polyline points="41.00,332.99 53.68,330.59 81.90,330.19" fill="none" stroke="#3a3a3a" stroke-width="0.55" stroke-opacity="0.85" stroke-dasharray="1.4 0.8"/>
<polyline points="41.00,332.99 53.68,332.94 81.90,332.89" fill="none" stroke="#3a3a3a" stroke-width="0.55" stroke-opacity="0.85" stroke-dasharray="1.4 0.8"/>
<polyline points="41.00,332.99 53.68,334.17 81.90,333.98" fill="none" stroke="#3a3a3a" stroke-width="0.55" stroke-opacity="0.85" stroke-dasharray="1.4 0.8"/>
<polyline points="41.00,332.99 53.68,332.28 81.90,331.33" fill="none" stroke="#3a3a3a" stroke-width="0.55" stroke-opacity="0.85" stroke-dasharray="1.4 0.8"/>
<polyline points="41.00,332.99 53.68,333.33 81.90,333.84" fill="none" stroke="#3a3a3a" stroke-width="0.55" stroke-opacity="0.85" stroke-dasharray="1.4 0.8"/>
<polyline points="41.00,332.99 53.68,331.41 81.90,331.83" fill="none" stroke="#3a3a3a" stroke-width="0.55" stroke-opacity="0.85" stroke-dasharray="1.4 0.8"/>
<polyline points="41.00,332.99 53.68,335.57 81.90,335.42" fill="none" stroke="#3a3a3a" stroke-width="0.55" stroke-opacity="0.85" stroke-dasharray="1.4 0.8"/>
<polyline points="41.00,332.99 53.68,330.79 81.90,331.15" fill="none" stroke="#3a3a3a" stroke-width="0.55" stroke-opacity="0.85" stroke-dasharray="1.4 0.8"/>
<polyline points="41.00,332.99 53.68,332.29 81.90,332.56" fill="none" stroke="#3a3a3a" stroke-width="0.55" stroke-opacity="0.85" stroke-dasharray="1.4 0.8"/>
<polyline points="41.00,332.99 53.68,332.08 81.90,332.41" fill="none" stroke="#3a3a3a" stroke-width="0.55" stroke-opacity="0.85" stroke-dasharray="1.4 0.8"/>
<polyline points="41.00,332.99 53.68,329.89 81.90,328.95" fill="none" stroke="#3a3a3a" stroke-width="0.55" stroke-opacity="0.85" stroke-dasharray="1.4 0.8"/>
<polyline points="41.00,332.99 53.68,332.11 81.90,331.42" fill="none" stroke="#3a3a3a" stroke-width="0.55" stroke-opacity="0.85" stroke-dasharray="1.4 0.8"/>
<polyline points="41.00,332.99 53.68,332.00 81.90,332.07" fill="none" stroke="#3a3a3a" stroke-width="0.55" stroke-opacity="0.85" stroke-dasharray="1.4 0.8"/>
<polyline points="41.00,332.99 53.68,334.99 81.90,334.78" fill="none" stroke="#3a3a3a" stroke-width="0.55" stroke-opacity="0.85" stroke-dasharray="1.4 0.8"/>
<polyline points="41.00,332.99 53.68,334.66 81.90,334.21" fill="none" stroke="#3a3a3a" stroke-width="0.55" stroke-opacity="0.85" stroke-dasharray="1.4 0.8"/>
<polyline points="41.00,332.99 53.68,331.66 81.90,331.10" fill="none" stroke="#3a3a3a" stroke-width="0.55" stroke-opacity="0.85" stroke-dasharray="1.4 0.8"/>
<polyline points="41.00,332.99 53.68,331.95 81.90,332.43" fill="none" stroke="#3a3a3a" stroke-width="0.55" stroke-opacity="0.85" stroke-dasharray="1.4 0.8"/>
<polyline points="41.00,332.99 53.68,324.68 81.90,324.68" fill="none" stroke="#3a3a3a" stroke-width="0.55" stroke-opacity="0.85" stroke-dasharray="1.4 0.8"/>
<polyline points="41.00,332.99 53.68,326.99 81.90,326.99" fill="none" stroke="#3a3a3a" stroke-width="0.55" stroke-opacity="0.85" stroke-dasharray="1.4 0.8"/>
<polyline points="41.00,332.99 53.68,327.92 81.90,327.45" fill="none" stroke="#3a3a3a" stroke-width="0.55" stroke-opacity="0.85" stroke-dasharray="1.4 0.8"/>
<polyline points="41.00,332.99 53.68,340.84 81.90,336.22" fill="none" stroke="#3a3a3a" stroke-width="0.55" stroke-opacity="0.85" stroke-dasharray="1.4 0.8"/>
<polyline points="86.90,335.10 174.80,337.97" fill="none" stroke="#3a3a3a" stroke-width="0.55" stroke-opacity="0.85" stroke-dasharray="1.4 0.8"/>
<polyline points="86.90,335.21 174.80,338.30" fill="none" stroke="#3a3a3a" stroke-width="0.55" stroke-opacity="0.85" stroke-dasharray="1.4 0.8"/>
<polyline points="86.90,335.22 174.80,335.70" fill="none" stroke="#3a3a3a" stroke-width="0.55" stroke-opacity="0.85" stroke-dasharray="1.4 0.8"/>
<polyline points="86.90,335.04 174.80,337.92" fill="none" stroke="#3a3a3a" stroke-width="0.55" stroke-opacity="0.85" stroke-dasharray="1.4 0.8"/>
<polyline points="86.90,330.48 174.80,332.56" fill="none" stroke="#3a3a3a" stroke-width="0.55" stroke-opacity="0.85" stroke-dasharray="1.4 0.8"/>
<polyline points="86.90,330.63 174.80,332.35" fill="none" stroke="#3a3a3a" stroke-width="0.55" stroke-opacity="0.85" stroke-dasharray="1.4 0.8"/>
<polyline points="86.90,333.77 174.80,337.25" fill="none" stroke="#3a3a3a" stroke-width="0.55" stroke-opacity="0.85" stroke-dasharray="1.4 0.8"/>
<polyline points="86.90,335.24 174.80,338.56" fill="none" stroke="#3a3a3a" stroke-width="0.55" stroke-opacity="0.85" stroke-dasharray="1.4 0.8"/>
<polyline points="86.90,331.72 174.80,337.81" fill="none" stroke="#3a3a3a" stroke-width="0.55" stroke-opacity="0.85" stroke-dasharray="1.4 0.8"/>
<polyline points="86.90,335.37 174.80,341.28" fill="none" stroke="#3a3a3a" stroke-width="0.55" stroke-opacity="0.85" stroke-dasharray="1.4 0.8"/>
<polyline points="86.90,331.82 174.80,336.09" fill="none" stroke="#3a3a3a" stroke-width="0.55" stroke-opacity="0.85" stroke-dasharray="1.4 0.8"/>
<polyline points="86.90,335.41 174.80,341.90" fill="none" stroke="#3a3a3a" stroke-width="0.55" stroke-opacity="0.85" stroke-dasharray="1.4 0.8"/>
<polyline points="86.90,333.84 174.80,337.88" fill="none" stroke="#3a3a3a" stroke-width="0.55" stroke-opacity="0.85" stroke-dasharray="1.4 0.8"/>
<polyline points="86.90,332.03 174.80,338.75" fill="none" stroke="#3a3a3a" stroke-width="0.55" stroke-opacity="0.85" stroke-dasharray="1.4 0.8"/>
<polyline points="86.90,331.60 174.80,338.92" fill="none" stroke="#3a3a3a" stroke-width="0.55" stroke-opacity="0.85" stroke-dasharray="1.4 0.8"/>
<polyline points="86.90,334.15 174.80,339.04" fill="none" stroke="#3a3a3a" stroke-width="0.55" stroke-opacity="0.85" stroke-dasharray="1.4 0.8"/>
<polyline points="86.90,331.77 174.80,335.56" fill="none" stroke="#3a3a3a" stroke-width="0.55" stroke-opacity="0.85" stroke-dasharray="1.4 0.8"/>
<polyline points="86.90,331.42 174.80,335.48" fill="none" stroke="#3a3a3a" stroke-width="0.55" stroke-opacity="0.85" stroke-dasharray="1.4 0.8"/>
<polyline points="86.90,333.43 174.80,338.17" fill="none" stroke="#3a3a3a" stroke-width="0.55" stroke-opacity="0.85" stroke-dasharray="1.4 0.8"/>
<polyline points="86.90,335.18 174.80,338.72" fill="none" stroke="#3a3a3a" stroke-width="0.55" stroke-opacity="0.85" stroke-dasharray="1.4 0.8"/>
<polyline points="86.90,332.63 174.80,334.20" fill="none" stroke="#3a3a3a" stroke-width="0.55" stroke-opacity="0.85" stroke-dasharray="1.4 0.8"/>
<polyline points="86.90,331.83 174.80,336.77" fill="none" stroke="#3a3a3a" stroke-width="0.55" stroke-opacity="0.85" stroke-dasharray="1.4 0.8"/>
<polyline points="86.90,334.90 174.80,337.09" fill="none" stroke="#3a3a3a" stroke-width="0.55" stroke-opacity="0.85" stroke-dasharray="1.4 0.8"/>
<polyline points="86.90,335.33 174.80,339.74" fill="none" stroke="#3a3a3a" stroke-width="0.55" stroke-opacity="0.85" stroke-dasharray="1.4 0.8"/>
<polyline points="86.90,335.20 174.80,336.89" fill="none" stroke="#3a3a3a" stroke-width="0.55" stroke-opacity="0.85" stroke-dasharray="1.4 0.8"/>
<polyline points="86.90,332.66 174.80,336.00" fill="none" stroke="#3a3a3a" stroke-width="0.55" stroke-opacity="0.85" stroke-dasharray="1.4 0.8"/>
<polyline points="86.90,335.53 174.80,342.53" fill="none" stroke="#3a3a3a" stroke-width="0.55" stroke-opacity="0.85" stroke-dasharray="1.4 0.8"/>
<polyline points="86.90,334.17 174.80,338.67" fill="none" stroke="#3a3a3a" stroke-width="0.55" stroke-opacity="0.85" stroke-dasharray="1.4 0.8"/>
<polyline points="86.90,334.22 174.80,338.62" fill="none" stroke="#3a3a3a" stroke-width="0.55" stroke-opacity="0.85" stroke-dasharray="1.4 0.8"/>
<polyline points="86.90,333.32 174.80,335.67" fill="none" stroke="#3a3a3a" stroke-width="0.55" stroke-opacity="0.85" stroke-dasharray="1.4 0.8"/>
<polyline points="86.90,332.48 174.80,336.81" fill="none" stroke="#3a3a3a" stroke-width="0.55" stroke-opacity="0.85" stroke-dasharray="1.4 0.8"/>
<polyline points="86.90,331.62 174.80,336.70" fill="none" stroke="#3a3a3a" stroke-width="0.55" stroke-opacity="0.85" stroke-dasharray="1.4 0.8"/>
<polyline points="86.90,333.90 174.80,334.58" fill="none" stroke="#3a3a3a" stroke-width="0.55" stroke-opacity="0.85" stroke-dasharray="1.4 0.8"/>
<polyline points="86.90,334.01 174.80,336.42" fill="none" stroke="#3a3a3a" stroke-width="0.55" stroke-opacity="0.85" stroke-dasharray="1.4 0.8"/>
<polyline points="86.90,331.56 174.80,334.62" fill="none" stroke="#3a3a3a" stroke-width="0.55" stroke-opacity="0.85" stroke-dasharray="1.4 0.8"/>
<polyline points="86.90,333.61 174.80,334.33" fill="none" stroke="#3a3a3a" stroke-width="0.55" stroke-opacity="0.85" stroke-dasharray="1.4 0.8"/>
<polyline points="86.90,331.63 174.80,332.44" fill="none" stroke="#3a3a3a" stroke-width="0.55" stroke-opacity="0.85" stroke-dasharray="1.4 0.8"/>
<polyline points="86.90,332.18 174.80,337.27" fill="none" stroke="#3a3a3a" stroke-width="0.55" stroke-opacity="0.85" stroke-dasharray="1.4 0.8"/>
<polyline points="86.90,324.68 174.80,325.61" fill="none" stroke="#3a3a3a" stroke-width="0.55" stroke-opacity="0.85" stroke-dasharray="1.4 0.8"/>
<polyline points="86.90,326.53 174.80,327.92" fill="none" stroke="#3a3a3a" stroke-width="0.55" stroke-opacity="0.85" stroke-dasharray="1.4 0.8"/>
<polyline points="86.90,327.45 174.80,329.30" fill="none" stroke="#3a3a3a" stroke-width="0.55" stroke-opacity="0.85" stroke-dasharray="1.4 0.8"/>
<polyline points="86.90,335.30 174.80,346.38" fill="none" stroke="#3a3a3a" stroke-width="0.55" stroke-opacity="0.85" stroke-dasharray="1.4 0.8"/>
<polyline points="86.90,334.84 174.80,345.45" fill="none" stroke="#3a3a3a" stroke-width="0.55" stroke-opacity="0.85" stroke-dasharray="1.4 0.8"/>
<polyline points="86.90,334.38 174.80,343.61" fill="none" stroke="#3a3a3a" stroke-width="0.55" stroke-opacity="0.85" stroke-dasharray="1.4 0.8"/>
<polyline points="86.90,333.45 174.80,341.76" fill="none" stroke="#3a3a3a" stroke-width="0.55" stroke-opacity="0.85" stroke-dasharray="1.4 0.8"/>
<g stroke="#5a5a5a" stroke-width="1.2" fill="none">
<line x1="41.0" y1="323.3" x2="41.0" y2="416.05"/>
<line x1="40.55" y1="415.6" x2="81.9" y2="415.6"/>
<line x1="86.9" y1="415.6" x2="175.25" y2="415.6"/>
<line x1="38.4" y1="323.30" x2="41.0" y2="323.30"/>
<line x1="38.4" y1="346.38" x2="41.0" y2="346.38"/>
<line x1="38.4" y1="369.45" x2="41.0" y2="369.45"/>
<line x1="38.4" y1="392.53" x2="41.0" y2="392.53"/>
<line x1="38.4" y1="415.60" x2="41.0" y2="415.60"/>
<line x1="41.00" y1="415.6" x2="41.00" y2="418.5"/>
<line x1="61.45" y1="415.6" x2="61.45" y2="418.5"/>
<line x1="81.90" y1="412.70000000000005" x2="81.90" y2="418.3"/>
<line x1="86.90" y1="412.70000000000005" x2="86.90" y2="418.3"/>
<line x1="98.37" y1="415.6" x2="98.37" y2="418.5"/>
<line x1="113.65" y1="415.6" x2="113.65" y2="418.5"/>
<line x1="128.94" y1="415.6" x2="128.94" y2="418.5"/>
<line x1="144.23" y1="415.6" x2="144.23" y2="418.5"/>
<line x1="159.51" y1="415.6" x2="159.51" y2="418.5"/>
<line x1="174.80" y1="415.6" x2="174.80" y2="418.5"/>
</g>
<g font-size="8" fill="#1a1a1a" stroke="#1a1a1a" stroke-width="0.15" text-anchor="end">
<text x="38.00" y="326.10">1.0</text>
<text x="38.00" y="349.18">0.5</text>
<text x="38.00" y="372.25">0.0</text>
<text x="38.00" y="395.33">-0.5</text>
<text x="38.00" y="418.40">-1.0</text>
</g>
<g font-size="8" fill="#1a1a1a" stroke="#1a1a1a" stroke-width="0.15" text-anchor="middle">
<text x="41.00" y="426.20">0.0</text>
<text x="61.45" y="426.20">0.5</text>
<text x="81.90" y="426.20">1.0</text>
<text x="98.37" y="426.20">4</text>
<text x="113.65" y="426.20">8</text>
<text x="128.94" y="426.20">12</text>
<text x="144.23" y="426.20">16</text>
<text x="159.51" y="426.20">20</text>
<text x="174.80" y="426.20">24</text>
</g>
<text x="108.0" y="437.80" font-size="8.05" font-weight="bold" text-anchor="middle" fill="#000" stroke="#000" stroke-width="0.15">hours</text>
<text transform="translate(21.2,369.45) rotate(-90)" font-size="7.95" font-weight="bold" text-anchor="middle" fill="#000" stroke="#000" stroke-width="0.2">Normalised fold change</text>
<text x="107.7" y="316.00" font-size="10.2" font-weight="bold" text-anchor="middle" fill="#000">Ribosomal proteins</text>
</g>
<g>
<polyline points="41.00,522.60 53.68,472.06 81.90,481.75" fill="none" stroke="#f3a64c" stroke-width="0.55" stroke-opacity="0.55"/>
<polyline points="41.00,522.60 53.68,531.60 81.90,549.59" fill="none" stroke="#f3a64c" stroke-width="0.55" stroke-opacity="0.55"/>
<polyline points="41.00,522.60 53.68,516.02 81.90,517.67" fill="none" stroke="#f3a64c" stroke-width="0.55" stroke-opacity="0.55"/>
<polyline points="41.00,522.60 53.68,525.95 81.90,523.93" fill="none" stroke="#f3a64c" stroke-width="0.55" stroke-opacity="0.55"/>
<polyline points="41.00,522.60 53.68,512.00 81.90,512.41" fill="none" stroke="#f3a64c" stroke-width="0.55" stroke-opacity="0.55"/>
<polyline points="41.00,522.60 53.68,521.93 81.90,524.42" fill="none" stroke="#f3a64c" stroke-width="0.55" stroke-opacity="0.55"/>
<polyline points="41.00,522.60 53.68,515.03 81.90,506.85" fill="none" stroke="#f3a64c" stroke-width="0.55" stroke-opacity="0.55"/>
<polyline points="41.00,522.60 53.68,525.79 81.90,531.03" fill="none" stroke="#f3a64c" stroke-width="0.55" stroke-opacity="0.55"/>
<polyline points="41.00,522.60 53.68,516.56 81.90,515.75" fill="none" stroke="#f3a64c" stroke-width="0.55" stroke-opacity="0.55"/>
<polyline points="41.00,522.60 53.68,523.58 81.90,534.55" fill="none" stroke="#f3a64c" stroke-width="0.55" stroke-opacity="0.55"/>
<polyline points="41.00,522.60 53.68,513.55 81.90,515.63" fill="none" stroke="#f3a64c" stroke-width="0.55" stroke-opacity="0.55"/>
<polyline points="41.00,522.60 53.68,522.03 81.90,533.35" fill="none" stroke="#f3a64c" stroke-width="0.55" stroke-opacity="0.55"/>
<polyline points="41.00,522.60 53.68,515.59 81.90,514.40" fill="none" stroke="#f3a64c" stroke-width="0.55" stroke-opacity="0.55"/>
<polyline points="41.00,522.60 53.68,523.33 81.90,525.50" fill="none" stroke="#f3a64c" stroke-width="0.55" stroke-opacity="0.55"/>
<polyline points="41.00,522.60 53.68,512.31 81.90,508.51" fill="none" stroke="#f3a64c" stroke-width="0.55" stroke-opacity="0.55"/>
<polyline points="41.00,522.60 53.68,522.55 81.90,528.56" fill="none" stroke="#f3a64c" stroke-width="0.55" stroke-opacity="0.55"/>
<polyline points="41.00,522.60 53.68,514.77 81.90,515.51" fill="none" stroke="#f3a64c" stroke-width="0.55" stroke-opacity="0.55"/>
<polyline points="41.00,522.60 53.68,521.13 81.90,530.10" fill="none" stroke="#f3a64c" stroke-width="0.55" stroke-opacity="0.55"/>
<polyline points="41.00,522.60 53.68,512.93 81.90,516.90" fill="none" stroke="#f3a64c" stroke-width="0.55" stroke-opacity="0.55"/>
<polyline points="41.00,522.60 53.68,525.07 81.90,533.67" fill="none" stroke="#f3a64c" stroke-width="0.55" stroke-opacity="0.55"/>
<polyline points="41.00,522.60 53.68,514.70 81.90,508.61" fill="none" stroke="#f3a64c" stroke-width="0.55" stroke-opacity="0.55"/>
<polyline points="41.00,522.60 53.68,525.23 81.90,526.95" fill="none" stroke="#f3a64c" stroke-width="0.55" stroke-opacity="0.55"/>
<polyline points="86.90,484.52 98.37,485.44 174.80,482.68" fill="none" stroke="#f3a64c" stroke-width="0.55" stroke-opacity="0.55"/>
<polyline points="86.90,554.67 113.65,549.13 174.80,531.60" fill="none" stroke="#f3a64c" stroke-width="0.55" stroke-opacity="0.55"/>
<polyline points="86.90,535.24 174.80,536.85" fill="none" stroke="#f3a64c" stroke-width="0.55" stroke-opacity="0.55"/>
<polyline points="86.90,534.03 174.80,545.33" fill="none" stroke="#f3a64c" stroke-width="0.55" stroke-opacity="0.55"/>
<polyline points="86.90,532.14 174.80,530.76" fill="none" stroke="#f3a64c" stroke-width="0.55" stroke-opacity="0.55"/>
<polyline points="86.90,529.87 174.80,552.35" fill="none" stroke="#f3a64c" stroke-width="0.55" stroke-opacity="0.55"/>
<polyline points="86.90,529.04 174.80,547.41" fill="none" stroke="#f3a64c" stroke-width="0.55" stroke-opacity="0.55"/>
<polyline points="86.90,526.76 174.80,528.22" fill="none" stroke="#f3a64c" stroke-width="0.55" stroke-opacity="0.55"/>
<polyline points="86.90,525.33 174.80,549.67" fill="none" stroke="#f3a64c" stroke-width="0.55" stroke-opacity="0.55"/>
<polyline points="86.90,523.46 174.80,539.13" fill="none" stroke="#f3a64c" stroke-width="0.55" stroke-opacity="0.55"/>
<polyline points="86.90,522.00 174.80,517.00" fill="none" stroke="#f3a64c" stroke-width="0.55" stroke-opacity="0.55"/>
<polyline points="86.90,520.59 174.80,522.33" fill="none" stroke="#f3a64c" stroke-width="0.55" stroke-opacity="0.55"/>
<polyline points="86.90,518.46 174.80,533.22" fill="none" stroke="#f3a64c" stroke-width="0.55" stroke-opacity="0.55"/>
<polyline points="86.90,517.34 174.80,555.75" fill="none" stroke="#f3a64c" stroke-width="0.55" stroke-opacity="0.55"/>
<polyline points="86.90,514.79 174.80,525.52" fill="none" stroke="#f3a64c" stroke-width="0.55" stroke-opacity="0.55"/>
<polyline points="86.90,513.17 174.80,541.50" fill="none" stroke="#f3a64c" stroke-width="0.55" stroke-opacity="0.55"/>
<polyline points="86.90,511.91 174.80,513.32" fill="none" stroke="#f3a64c" stroke-width="0.55" stroke-opacity="0.55"/>
<polyline points="86.90,510.06 174.80,511.33" fill="none" stroke="#f3a64c" stroke-width="0.55" stroke-opacity="0.55"/>
<polyline points="86.90,508.39 174.80,520.02" fill="none" stroke="#f3a64c" stroke-width="0.55" stroke-opacity="0.55"/>
<polyline points="86.90,506.25 174.80,502.29" fill="none" stroke="#f3a64c" stroke-width="0.55" stroke-opacity="0.55"/>
<polyline points="86.90,505.51 174.80,505.72" fill="none" stroke="#f3a64c" stroke-width="0.55" stroke-opacity="0.55"/>
<polyline points="86.90,503.57 174.80,508.93" fill="none" stroke="#f3a64c" stroke-width="0.55" stroke-opacity="0.55"/>
<polyline points="41.00,522.60 53.68,511.29 81.90,517.29" fill="none" stroke="#3a3a3a" stroke-width="0.55" stroke-opacity="0.45" stroke-dasharray="1.4 0.8"/>
<polyline points="41.00,522.60 53.68,526.07 81.90,525.98" fill="none" stroke="#3a3a3a" stroke-width="0.55" stroke-opacity="0.45" stroke-dasharray="1.4 0.8"/>
<polyline points="41.00,522.60 53.68,523.95 81.90,523.81" fill="none" stroke="#3a3a3a" stroke-width="0.55" stroke-opacity="0.45" stroke-dasharray="1.4 0.8"/>
<polyline points="41.00,522.60 53.68,525.29 81.90,524.85" fill="none" stroke="#3a3a3a" stroke-width="0.55" stroke-opacity="0.45" stroke-dasharray="1.4 0.8"/>
<polyline points="41.00,522.60 53.68,520.47 81.90,520.15" fill="none" stroke="#3a3a3a" stroke-width="0.55" stroke-opacity="0.45" stroke-dasharray="1.4 0.8"/>
<polyline points="41.00,522.60 53.68,526.75 81.90,527.72" fill="none" stroke="#3a3a3a" stroke-width="0.55" stroke-opacity="0.45" stroke-dasharray="1.4 0.8"/>
<polyline points="41.00,522.60 53.68,524.44 81.90,525.36" fill="none" stroke="#3a3a3a" stroke-width="0.55" stroke-opacity="0.45" stroke-dasharray="1.4 0.8"/>
<polyline points="41.00,522.60 53.68,526.36 81.90,527.82" fill="none" stroke="#3a3a3a" stroke-width="0.55" stroke-opacity="0.45" stroke-dasharray="1.4 0.8"/>
<polyline points="41.00,522.60 53.68,523.90 81.90,524.65" fill="none" stroke="#3a3a3a" stroke-width="0.55" stroke-opacity="0.45" stroke-dasharray="1.4 0.8"/>
<polyline points="41.00,522.60 53.68,526.84 81.90,527.43" fill="none" stroke="#3a3a3a" stroke-width="0.55" stroke-opacity="0.45" stroke-dasharray="1.4 0.8"/>
<polyline points="41.00,522.60 53.68,523.39 81.90,524.40" fill="none" stroke="#3a3a3a" stroke-width="0.55" stroke-opacity="0.45" stroke-dasharray="1.4 0.8"/>
<polyline points="41.00,522.60 53.68,521.39 81.90,520.80" fill="none" stroke="#3a3a3a" stroke-width="0.55" stroke-opacity="0.45" stroke-dasharray="1.4 0.8"/>
<polyline points="41.00,522.60 53.68,524.71 81.90,526.66" fill="none" stroke="#3a3a3a" stroke-width="0.55" stroke-opacity="0.45" stroke-dasharray="1.4 0.8"/>
<polyline points="41.00,522.60 53.68,523.88 81.90,524.06" fill="none" stroke="#3a3a3a" stroke-width="0.55" stroke-opacity="0.45" stroke-dasharray="1.4 0.8"/>
<polyline points="41.00,522.60 53.68,520.11 81.90,520.84" fill="none" stroke="#3a3a3a" stroke-width="0.55" stroke-opacity="0.45" stroke-dasharray="1.4 0.8"/>
<polyline points="41.00,522.60 53.68,524.36 81.90,523.45" fill="none" stroke="#3a3a3a" stroke-width="0.55" stroke-opacity="0.45" stroke-dasharray="1.4 0.8"/>
<polyline points="41.00,522.60 53.68,520.12 81.90,520.97" fill="none" stroke="#3a3a3a" stroke-width="0.55" stroke-opacity="0.45" stroke-dasharray="1.4 0.8"/>
<polyline points="41.00,522.60 53.68,520.27 81.90,520.43" fill="none" stroke="#3a3a3a" stroke-width="0.55" stroke-opacity="0.45" stroke-dasharray="1.4 0.8"/>
<polyline points="41.00,522.60 53.68,521.62 81.90,520.79" fill="none" stroke="#3a3a3a" stroke-width="0.55" stroke-opacity="0.45" stroke-dasharray="1.4 0.8"/>
<polyline points="41.00,522.60 53.68,521.92 81.90,521.29" fill="none" stroke="#3a3a3a" stroke-width="0.55" stroke-opacity="0.45" stroke-dasharray="1.4 0.8"/>
<polyline points="41.00,522.60 53.68,522.68 81.90,521.36" fill="none" stroke="#3a3a3a" stroke-width="0.55" stroke-opacity="0.45" stroke-dasharray="1.4 0.8"/>
<polyline points="41.00,522.60 53.68,522.83 81.90,522.02" fill="none" stroke="#3a3a3a" stroke-width="0.55" stroke-opacity="0.45" stroke-dasharray="1.4 0.8"/>
<polyline points="41.00,522.60 53.68,523.39 81.90,522.72" fill="none" stroke="#3a3a3a" stroke-width="0.55" stroke-opacity="0.45" stroke-dasharray="1.4 0.8"/>
<polyline points="86.90,523.60 174.80,529.35" fill="none" stroke="#3a3a3a" stroke-width="0.55" stroke-opacity="0.45" stroke-dasharray="1.4 0.8"/>
<polyline points="86.90,521.66 174.80,534.63" fill="none" stroke="#3a3a3a" stroke-width="0.55" stroke-opacity="0.45" stroke-dasharray="1.4 0.8"/>
<polyline points="86.90,521.30 174.80,533.18" fill="none" stroke="#3a3a3a" stroke-width="0.55" stroke-opacity="0.45" stroke-dasharray="1.4 0.8"/>
<polyline points="86.90,526.38 174.80,534.39" fill="none" stroke="#3a3a3a" stroke-width="0.55" stroke-opacity="0.45" stroke-dasharray="1.4 0.8"/>
<polyline points="86.90,524.59 174.80,531.41" fill="none" stroke="#3a3a3a" stroke-width="0.55" stroke-opacity="0.45" stroke-dasharray="1.4 0.8"/>
<polyline points="86.90,524.54 174.80,533.78" fill="none" stroke="#3a3a3a" stroke-width="0.55" stroke-opacity="0.45" stroke-dasharray="1.4 0.8"/>
<polyline points="86.90,521.30 174.80,532.53" fill="none" stroke="#3a3a3a" stroke-width="0.55" stroke-opacity="0.45" stroke-dasharray="1.4 0.8"/>
<polyline points="86.90,520.53 174.80,533.48" fill="none" stroke="#3a3a3a" stroke-width="0.55" stroke-opacity="0.45" stroke-dasharray="1.4 0.8"/>
<polyline points="86.90,521.89 174.80,532.65" fill="none" stroke="#3a3a3a" stroke-width="0.55" stroke-opacity="0.45" stroke-dasharray="1.4 0.8"/>
<polyline points="86.90,520.71 174.80,530.51" fill="none" stroke="#3a3a3a" stroke-width="0.55" stroke-opacity="0.45" stroke-dasharray="1.4 0.8"/>
<polyline points="86.90,521.97 174.80,534.60" fill="none" stroke="#3a3a3a" stroke-width="0.55" stroke-opacity="0.45" stroke-dasharray="1.4 0.8"/>
<polyline points="86.90,521.43 174.80,532.67" fill="none" stroke="#3a3a3a" stroke-width="0.55" stroke-opacity="0.45" stroke-dasharray="1.4 0.8"/>
<polyline points="86.90,521.51 174.80,529.05" fill="none" stroke="#3a3a3a" stroke-width="0.55" stroke-opacity="0.45" stroke-dasharray="1.4 0.8"/>
<polyline points="86.90,526.08 174.80,535.17" fill="none" stroke="#3a3a3a" stroke-width="0.55" stroke-opacity="0.45" stroke-dasharray="1.4 0.8"/>
<polyline points="86.90,521.38 174.80,528.14" fill="none" stroke="#3a3a3a" stroke-width="0.55" stroke-opacity="0.45" stroke-dasharray="1.4 0.8"/>
<polyline points="86.90,520.33 174.80,532.07" fill="none" stroke="#3a3a3a" stroke-width="0.55" stroke-opacity="0.45" stroke-dasharray="1.4 0.8"/>
<polyline points="86.90,520.82 174.80,535.11" fill="none" stroke="#3a3a3a" stroke-width="0.55" stroke-opacity="0.45" stroke-dasharray="1.4 0.8"/>
<polyline points="86.90,526.55 174.80,530.99" fill="none" stroke="#3a3a3a" stroke-width="0.55" stroke-opacity="0.45" stroke-dasharray="1.4 0.8"/>
<polyline points="86.90,522.37 174.80,543.13" fill="none" stroke="#3a3a3a" stroke-width="0.55" stroke-opacity="0.45" stroke-dasharray="1.4 0.8"/>
<polyline points="86.90,524.67 174.80,552.82" fill="none" stroke="#3a3a3a" stroke-width="0.55" stroke-opacity="0.45" stroke-dasharray="1.4 0.8"/>
<polyline points="86.90,515.44 174.80,554.67" fill="none" stroke="#3a3a3a" stroke-width="0.55" stroke-opacity="0.45" stroke-dasharray="1.4 0.8"/>
<polyline points="86.90,526.98 174.80,563.90" fill="none" stroke="#3a3a3a" stroke-width="0.55" stroke-opacity="0.45" stroke-dasharray="1.4 0.8"/>
<polyline points="86.90,516.83 174.80,540.83" fill="none" stroke="#3a3a3a" stroke-width="0.55" stroke-opacity="0.45" stroke-dasharray="1.4 0.8"/>
<polyline points="86.90,520.06 174.80,547.75" fill="none" stroke="#3a3a3a" stroke-width="0.55" stroke-opacity="0.45" stroke-dasharray="1.4 0.8"/>
<polyline points="86.90,517.75 174.80,537.13" fill="none" stroke="#3a3a3a" stroke-width="0.55" stroke-opacity="0.45" stroke-dasharray="1.4 0.8"/>
<g stroke="#5a5a5a" stroke-width="1.2" fill="none">
<line x1="41.0" y1="471.6" x2="41.0" y2="564.35"/>
<line x1="40.55" y1="563.9" x2="81.9" y2="563.9"/>
<line x1="86.9" y1="563.9" x2="175.25" y2="563.9"/>
<line x1="38.4" y1="471.60" x2="41.0" y2="471.60"/>
<line x1="38.4" y1="494.68" x2="41.0" y2="494.68"/>
<line x1="38.4" y1="517.75" x2="41.0" y2="517.75"/>
<line x1="38.4" y1="540.83" x2="41.0" y2="540.83"/>
<line x1="38.4" y1="563.90" x2="41.0" y2="563.90"/>
<line x1="41.00" y1="563.9" x2="41.00" y2="566.8"/>
<line x1="61.45" y1="563.9" x2="61.45" y2="566.8"/>
<line x1="81.90" y1="561.0" x2="81.90" y2="566.6"/>
<line x1="86.90" y1="561.0" x2="86.90" y2="566.6"/>
<line x1="98.37" y1="563.9" x2="98.37" y2="566.8"/>
<line x1="113.65" y1="563.9" x2="113.65" y2="566.8"/>
<line x1="128.94" y1="563.9" x2="128.94" y2="566.8"/>
<line x1="144.23" y1="563.9" x2="144.23" y2="566.8"/>
<line x1="159.51" y1="563.9" x2="159.51" y2="566.8"/>
<line x1="174.80" y1="563.9" x2="174.80" y2="566.8"/>
</g>
<g font-size="8" fill="#1a1a1a" stroke="#1a1a1a" stroke-width="0.15" text-anchor="end">
<text x="38.00" y="474.40">1.0</text>
<text x="38.00" y="497.48">0.5</text>
<text x="38.00" y="520.55">0.0</text>
<text x="38.00" y="543.62">-0.5</text>
<text x="38.00" y="566.70">-1.0</text>
</g>
<g font-size="8" fill="#1a1a1a" stroke="#1a1a1a" stroke-width="0.15" text-anchor="middle">
<text x="41.00" y="573.90">0.0</text>
<text x="61.45" y="573.90">0.5</text>
<text x="81.90" y="573.90">1.0</text>
<text x="98.37" y="573.90">4</text>
<text x="113.65" y="573.90">8</text>
<text x="128.94" y="573.90">12</text>
<text x="144.23" y="573.90">16</text>
<text x="159.51" y="573.90">20</text>
<text x="174.80" y="573.90">24</text>
</g>
<text x="108.0" y="586.10" font-size="8.05" font-weight="bold" text-anchor="middle" fill="#000" stroke="#000" stroke-width="0.15">hours</text>
<text transform="translate(21.2,517.75) rotate(-90)" font-size="7.95" font-weight="bold" text-anchor="middle" fill="#000" stroke="#000" stroke-width="0.2">Normalised fold change</text>
<text x="107.7" y="462.40" font-size="10.2" font-weight="bold" text-anchor="middle" fill="#000">Iron sulphur clusters</text>
</g>
<rect x="209.8" y="19.3" width="229.6" height="404.6" rx="13" ry="13" fill="none" stroke="#4a4a4a" stroke-width="1.1"/>
<rect x="448.5" y="19.5" width="224.3" height="555.0" rx="14" ry="14" fill="none" stroke="#4a4a4a" stroke-width="1.1"/>
<rect x="212.6" y="429.3" width="226.8" height="44.9" rx="13.5" ry="13.5" fill="none" stroke="#4a4a4a" stroke-width="1.1"/>
<text x="325.4" y="33.3" font-size="10.6" font-weight="bold" text-anchor="middle" fill="#9a1b3a">Up-regulated</text>
<text x="568.5" y="33.1" font-size="10.6" font-weight="bold" text-anchor="middle" fill="#222b70">Down-regulated</text>
<g font-size="9.2"><text x="276.3" y="49.2" text-anchor="middle" fill="#111" stroke="#111" stroke-width="0.08">Protein</text><text x="388.1" y="49.2" text-anchor="middle" fill="#eba75c">Transcript</text><text x="517.5" y="49.6" text-anchor="middle" fill="#111" stroke="#111" stroke-width="0.08">Protein</text><text x="628.5" y="49.6" text-anchor="middle" fill="#eba75c">Transcript</text></g>
<g stroke="#222" stroke-width="1.3"><line x1="208.9" y1="54.8" x2="329.0" y2="54.8"/><line x1="352.9" y1="54.8" x2="410.7" y2="54.8"/><line x1="457.5" y1="54.0" x2="577.5" y2="54.0"/><line x1="600.2" y1="54.0" x2="660.0" y2="54.0"/></g>
<rect x="218.00" y="64.00" width="86.40" height="347.70" fill="#878583"/>
<rect x="219.60" y="65.60" width="7.82" height="4.07" fill="#4f403c"/>
<rect x="229.02" y="65.60" width="7.82" height="4.07" fill="#4f403c"/>
<rect x="238.44" y="65.60" width="7.82" height="4.07" fill="#4f403c"/>
<rect x="247.87" y="65.60" width="7.82" height="4.07" fill="#4f403c"/>
<rect x="257.29" y="65.60" width="7.82" height="4.07" fill="#4f403c"/>
<rect x="266.71" y="65.60" width="7.82" height="4.07" fill="#4f403c"/>
<rect x="276.13" y="65.60" width="7.82" height="4.07" fill="#4f403c"/>
<rect x="285.56" y="65.60" width="7.82" height="4.07" fill="#4f403c"/>
<rect x="294.98" y="65.60" width="7.82" height="4.07" fill="#4f403c"/>
<rect x="219.60" y="71.27" width="7.82" height="4.07" fill="#4f403c"/>
<rect x="229.02" y="71.27" width="7.82" height="4.07" fill="#4f403c"/>
<rect x="238.44" y="71.27" width="7.82" height="4.07" fill="#4f403c"/>
<rect x="247.87" y="71.27" width="7.82" height="4.07" fill="#4f403c"/>
<rect x="257.29" y="71.27" width="7.82" height="4.07" fill="#4f403c"/>
<rect x="266.71" y="71.27" width="7.82" height="4.07" fill="#4f403c"/>
<rect x="276.13" y="71.27" width="7.82" height="4.07" fill="#4f403c"/>
<rect x="285.56" y="71.27" width="7.82" height="4.07" fill="#4f403c"/>
<rect x="294.98" y="71.27" width="7.82" height="4.07" fill="#4f403c"/>
<rect x="219.60" y="76.95" width="7.82" height="4.07" fill="#4f403c"/>
<rect x="229.02" y="76.95" width="7.82" height="4.07" fill="#4f403c"/>
<rect x="238.44" y="76.95" width="7.82" height="4.07" fill="#4f403c"/>
<rect x="247.87" y="76.95" width="7.82" height="4.07" fill="#4f403c"/>
<rect x="257.29" y="76.95" width="7.82" height="4.07" fill="#4f403c"/>
<rect x="266.71" y="76.95" width="7.82" height="4.07" fill="#4f403c"/>
<rect x="276.13" y="76.95" width="7.82" height="4.07" fill="#4f403c"/>
<rect x="285.56" y="76.95" width="7.82" height="4.07" fill="#4f403c"/>
<rect x="294.98" y="76.95" width="7.82" height="4.07" fill="#4f403c"/>
<rect x="219.60" y="82.62" width="7.82" height="4.07" fill="#4f403c"/>
<rect x="229.02" y="82.62" width="7.82" height="4.07" fill="#4f403c"/>
<rect x="238.44" y="82.62" width="7.82" height="4.07" fill="#4f403c"/>
<rect x="247.87" y="82.62" width="7.82" height="4.07" fill="#4f403c"/>
<rect x="257.29" y="82.62" width="7.82" height="4.07" fill="#4f403c"/>
<rect x="266.71" y="82.62" width="7.82" height="4.07" fill="#4f403c"/>
<rect x="276.13" y="82.62" width="7.82" height="4.07" fill="#4f403c"/>
<rect x="285.56" y="82.62" width="7.82" height="4.07" fill="#4f403c"/>
<rect x="294.98" y="82.62" width="7.82" height="4.07" fill="#4f403c"/>
<rect x="219.60" y="88.30" width="7.82" height="4.07" fill="#4f403c"/>
<rect x="229.02" y="88.30" width="7.82" height="4.07" fill="#4f403c"/>
<rect x="238.44" y="88.30" width="7.82" height="4.07" fill="#4f403c"/>
<rect x="247.87" y="88.30" width="7.82" height="4.07" fill="#4f403c"/>
<rect x="257.29" y="88.30" width="7.82" height="4.07" fill="#4f403c"/>
<rect x="266.71" y="88.30" width="7.82" height="4.07" fill="#4f403c"/>
<rect x="276.13" y="88.30" width="7.82" height="4.07" fill="#4f403c"/>
<rect x="285.56" y="88.30" width="7.82" height="4.07" fill="#4f403c"/>
<rect x="294.98" y="88.30" width="7.82" height="4.07" fill="#4f403c"/>
<rect x="219.60" y="93.97" width="7.82" height="4.07" fill="#4f403c"/>
<rect x="229.02" y="93.97" width="7.82" height="4.07" fill="#4f403c"/>
<rect x="238.44" y="93.97" width="7.82" height="4.07" fill="#4f403c"/>
<rect x="247.87" y="93.97" width="7.82" height="4.07" fill="#4f403c"/>
<rect x="257.29" y="93.97" width="7.82" height="4.07" fill="#ffffff"/>
<rect x="266.71" y="93.97" width="7.82" height="4.07" fill="#4f403c"/>
<rect x="276.13" y="93.97" width="7.82" height="4.07" fill="#4f403c"/>
<rect x="285.56" y="93.97" width="7.82" height="4.07" fill="#4f403c"/>
<rect x="294.98" y="93.97" width="7.82" height="4.07" fill="#4f403c"/>
<rect x="219.60" y="99.64" width="7.82" height="4.07" fill="#4f403c"/>
<rect x="229.02" y="99.64" width="7.82" height="4.07" fill="#4f403c"/>
<rect x="238.44" y="99.64" width="7.82" height="4.07" fill="#ffffff"/>
<rect x="247.87" y="99.64" width="7.82" height="4.07" fill="#4f403c"/>
<rect x="257.29" y="99.64" width="7.82" height="4.07" fill="#4f403c"/>
<rect x="266.71" y="99.64" width="7.82" height="4.07" fill="#ffffff"/>
<rect x="276.13" y="99.64" width="7.82" height="4.07" fill="#ffffff"/>
<rect x="285.56" y="99.64" width="7.82" height="4.07" fill="#4f403c"/>
<rect x="294.98" y="99.64" width="7.82" height="4.07" fill="#4f403c"/>
<rect x="219.60" y="105.32" width="7.82" height="4.07" fill="#ffffff"/>
<rect x="229.02" y="105.32" width="7.82" height="4.07" fill="#4f403c"/>
<rect x="238.44" y="105.32" width="7.82" height="4.07" fill="#4f403c"/>
<rect x="247.87" y="105.32" width="7.82" height="4.07" fill="#4f403c"/>
<rect x="257.29" y="105.32" width="7.82" height="4.07" fill="#4f403c"/>
<rect x="266.71" y="105.32" width="7.82" height="4.07" fill="#4f403c"/>
<rect x="276.13" y="105.32" width="7.82" height="4.07" fill="#ffffff"/>
<rect x="285.56" y="105.32" width="7.82" height="4.07" fill="#4f403c"/>
<rect x="294.98" y="105.32" width="7.82" height="4.07" fill="#4f403c"/>
<rect x="219.60" y="110.99" width="7.82" height="4.07" fill="#ffffff"/>
<rect x="229.02" y="110.99" width="7.82" height="4.07" fill="#4f403c"/>
<rect x="238.44" y="110.99" width="7.82" height="4.07" fill="#4f403c"/>
<rect x="247.87" y="110.99" width="7.82" height="4.07" fill="#4f403c"/>
<rect x="257.29" y="110.99" width="7.82" height="4.07" fill="#ffffff"/>
<rect x="266.71" y="110.99" width="7.82" height="4.07" fill="#4f403c"/>
<rect x="276.13" y="110.99" width="7.82" height="4.07" fill="#ffffff"/>
<rect x="285.56" y="110.99" width="7.82" height="4.07" fill="#4f403c"/>
<rect x="294.98" y="110.99" width="7.82" height="4.07" fill="#4f403c"/>
<rect x="219.60" y="116.66" width="7.82" height="4.07" fill="#ffffff"/>
<rect x="229.02" y="116.66" width="7.82" height="4.07" fill="#4f403c"/>
<rect x="238.44" y="116.66" width="7.82" height="4.07" fill="#ffffff"/>
<rect x="247.87" y="116.66" width="7.82" height="4.07" fill="#ffffff"/>
<rect x="257.29" y="116.66" width="7.82" height="4.07" fill="#4f403c"/>
<rect x="266.71" y="116.66" width="7.82" height="4.07" fill="#4f403c"/>
<rect x="276.13" y="116.66" width="7.82" height="4.07" fill="#4f403c"/>
<rect x="285.56" y="116.66" width="7.82" height="4.07" fill="#4f403c"/>
<rect x="294.98" y="116.66" width="7.82" height="4.07" fill="#4f403c"/>
<rect x="219.60" y="122.34" width="7.82" height="4.07" fill="#ffffff"/>
<rect x="229.02" y="122.34" width="7.82" height="4.07" fill="#ffffff"/>
<rect x="238.44" y="122.34" width="7.82" height="4.07" fill="#4f403c"/>
<rect x="247.87" y="122.34" width="7.82" height="4.07" fill="#4f403c"/>
<rect x="257.29" y="122.34" width="7.82" height="4.07" fill="#4f403c"/>
<rect x="266.71" y="122.34" width="7.82" height="4.07" fill="#4f403c"/>
<rect x="276.13" y="122.34" width="7.82" height="4.07" fill="#4f403c"/>
<rect x="285.56" y="122.34" width="7.82" height="4.07" fill="#4f403c"/>
<rect x="294.98" y="122.34" width="7.82" height="4.07" fill="#4f403c"/>
<rect x="219.60" y="128.01" width="7.82" height="4.07" fill="#ffffff"/>
<rect x="229.02" y="128.01" width="7.82" height="4.07" fill="#ffffff"/>
<rect x="238.44" y="128.01" width="7.82" height="4.07" fill="#4f403c"/>
<rect x="247.87" y="128.01" width="7.82" height="4.07" fill="#4f403c"/>
<rect x="257.29" y="128.01" width="7.82" height="4.07" fill="#ffffff"/>
<rect x="266.71" y="128.01" width="7.82" height="4.07" fill="#4f403c"/>
<rect x="276.13" y="128.01" width="7.82" height="4.07" fill="#4f403c"/>
<rect x="285.56" y="128.01" width="7.82" height="4.07" fill="#4f403c"/>
<rect x="294.98" y="128.01" width="7.82" height="4.07" fill="#4f403c"/>
<rect x="219.60" y="133.69" width="7.82" height="4.07" fill="#ffffff"/>
<rect x="229.02" y="133.69" width="7.82" height="4.07" fill="#ffffff"/>
<rect x="238.44" y="133.69" width="7.82" height="4.07" fill="#ffffff"/>
<rect x="247.87" y="133.69" width="7.82" height="4.07" fill="#4f403c"/>
<rect x="257.29" y="133.69" width="7.82" height="4.07" fill="#4f403c"/>
<rect x="266.71" y="133.69" width="7.82" height="4.07" fill="#4f403c"/>
<rect x="276.13" y="133.69" width="7.82" height="4.07" fill="#4f403c"/>
<rect x="285.56" y="133.69" width="7.82" height="4.07" fill="#4f403c"/>
<rect x="294.98" y="133.69" width="7.82" height="4.07" fill="#4f403c"/>
<rect x="219.60" y="139.36" width="7.82" height="4.07" fill="#ffffff"/>
<rect x="229.02" y="139.36" width="7.82" height="4.07" fill="#ffffff"/>
<rect x="238.44" y="139.36" width="7.82" height="4.07" fill="#ffffff"/>
<rect x="247.87" y="139.36" width="7.82" height="4.07" fill="#4f403c"/>
<rect x="257.29" y="139.36" width="7.82" height="4.07" fill="#4f403c"/>
<rect x="266.71" y="139.36" width="7.82" height="4.07" fill="#4f403c"/>
<rect x="276.13" y="139.36" width="7.82" height="4.07" fill="#4f403c"/>
<rect x="285.56" y="139.36" width="7.82" height="4.07" fill="#4f403c"/>
<rect x="294.98" y="139.36" width="7.82" height="4.07" fill="#4f403c"/>
<rect x="219.60" y="145.03" width="7.82" height="4.07" fill="#ffffff"/>
<rect x="229.02" y="145.03" width="7.82" height="4.07" fill="#ffffff"/>
<rect x="238.44" y="145.03" width="7.82" height="4.07" fill="#ffffff"/>
<rect x="247.87" y="145.03" width="7.82" height="4.07" fill="#4f403c"/>
<rect x="257.29" y="145.03" width="7.82" height="4.07" fill="#ffffff"/>
<rect x="266.71" y="145.03" width="7.82" height="4.07" fill="#4f403c"/>
<rect x="276.13" y="145.03" width="7.82" height="4.07" fill="#4f403c"/>
<rect x="285.56" y="145.03" width="7.82" height="4.07" fill="#4f403c"/>
<rect x="294.98" y="145.03" width="7.82" height="4.07" fill="#4f403c"/>
<rect x="219.60" y="150.71" width="7.82" height="4.07" fill="#ffffff"/>
<rect x="229.02" y="150.71" width="7.82" height="4.07" fill="#ffffff"/>
<rect x="238.44" y="150.71" width="7.82" height="4.07" fill="#ffffff"/>
<rect x="247.87" y="150.71" width="7.82" height="4.07" fill="#4f403c"/>
<rect x="257.29" y="150.71" width="7.82" height="4.07" fill="#ffffff"/>
<rect x="266.71" y="150.71" width="7.82" height="4.07" fill="#ffffff"/>
<rect x="276.13" y="150.71" width="7.82" height="4.07" fill="#4f403c"/>
<rect x="285.56" y="150.71" width="7.82" height="4.07" fill="#4f403c"/>
<rect x="294.98" y="150.71" width="7.82" height="4.07" fill="#4f403c"/>
<rect x="219.60" y="156.38" width="7.82" height="4.07" fill="#ffffff"/>
<rect x="229.02" y="156.38" width="7.82" height="4.07" fill="#ffffff"/>
<rect x="238.44" y="156.38" width="7.82" height="4.07" fill="#ffffff"/>
<rect x="247.87" y="156.38" width="7.82" height="4.07" fill="#4f403c"/>
<rect x="257.29" y="156.38" width="7.82" height="4.07" fill="#ffffff"/>
<rect x="266.71" y="156.38" width="7.82" height="4.07" fill="#ffffff"/>
<rect x="276.13" y="156.38" width="7.82" height="4.07" fill="#ffffff"/>
<rect x="285.56" y="156.38" width="7.82" height="4.07" fill="#4f403c"/>
<rect x="294.98" y="156.38" width="7.82" height="4.07" fill="#4f403c"/>
<rect x="219.60" y="162.05" width="7.82" height="4.07" fill="#ffffff"/>
<rect x="229.02" y="162.05" width="7.82" height="4.07" fill="#ffffff"/>
<rect x="238.44" y="162.05" width="7.82" height="4.07" fill="#ffffff"/>
<rect x="247.87" y="162.05" width="7.82" height="4.07" fill="#4f403c"/>
<rect x="257.29" y="162.05" width="7.82" height="4.07" fill="#ffffff"/>
<rect x="266.71" y="162.05" width="7.82" height="4.07" fill="#4f403c"/>
<rect x="276.13" y="162.05" width="7.82" height="4.07" fill="#ffffff"/>
<rect x="285.56" y="162.05" width="7.82" height="4.07" fill="#4f403c"/>
<rect x="294.98" y="162.05" width="7.82" height="4.07" fill="#4f403c"/>
<rect x="219.60" y="167.73" width="7.82" height="4.07" fill="#ffffff"/>
<rect x="229.02" y="167.73" width="7.82" height="4.07" fill="#ffffff"/>
<rect x="238.44" y="167.73" width="7.82" height="4.07" fill="#ffffff"/>
<rect x="247.87" y="167.73" width="7.82" height="4.07" fill="#ffffff"/>
<rect x="257.29" y="167.73" width="7.82" height="4.07" fill="#4f403c"/>
<rect x="266.71" y="167.73" width="7.82" height="4.07" fill="#4f403c"/>
<rect x="276.13" y="167.73" width="7.82" height="4.07" fill="#4f403c"/>
<rect x="285.56" y="167.73" width="7.82" height="4.07" fill="#4f403c"/>
<rect x="294.98" y="167.73" width="7.82" height="4.07" fill="#4f403c"/>
<rect x="219.60" y="173.40" width="7.82" height="4.07" fill="#ffffff"/>
<rect x="229.02" y="173.40" width="7.82" height="4.07" fill="#ffffff"/>
<rect x="238.44" y="173.40" width="7.82" height="4.07" fill="#ffffff"/>
<rect x="247.87" y="173.40" width="7.82" height="4.07" fill="#ffffff"/>
<rect x="257.29" y="173.40" width="7.82" height="4.07" fill="#4f403c"/>
<rect x="266.71" y="173.40" width="7.82" height="4.07" fill="#4f403c"/>
<rect x="276.13" y="173.40" width="7.82" height="4.07" fill="#4f403c"/>
<rect x="285.56" y="173.40" width="7.82" height="4.07" fill="#4f403c"/>
<rect x="294.98" y="173.40" width="7.82" height="4.07" fill="#4f403c"/>
<rect x="219.60" y="179.08" width="7.82" height="4.07" fill="#ffffff"/>
<rect x="229.02" y="179.08" width="7.82" height="4.07" fill="#ffffff"/>
<rect x="238.44" y="179.08" width="7.82" height="4.07" fill="#ffffff"/>
<rect x="247.87" y="179.08" width="7.82" height="4.07" fill="#ffffff"/>
<rect x="257.29" y="179.08" width="7.82" height="4.07" fill="#4f403c"/>
<rect x="266.71" y="179.08" width="7.82" height="4.07" fill="#4f403c"/>
<rect x="276.13" y="179.08" width="7.82" height="4.07" fill="#4f403c"/>
<rect x="285.56" y="179.08" width="7.82" height="4.07" fill="#4f403c"/>
<rect x="294.98" y="179.08" width="7.82" height="4.07" fill="#4f403c"/>
<rect x="219.60" y="184.75" width="7.82" height="4.07" fill="#ffffff"/>
<rect x="229.02" y="184.75" width="7.82" height="4.07" fill="#ffffff"/>
<rect x="238.44" y="184.75" width="7.82" height="4.07" fill="#ffffff"/>
<rect x="247.87" y="184.75" width="7.82" height="4.07" fill="#ffffff"/>
<rect x="257.29" y="184.75" width="7.82" height="4.07" fill="#4f403c"/>
<rect x="266.71" y="184.75" width="7.82" height="4.07" fill="#4f403c"/>
<rect x="276.13" y="184.75" width="7.82" height="4.07" fill="#4f403c"/>
<rect x="285.56" y="184.75" width="7.82" height="4.07" fill="#4f403c"/>
<rect x="294.98" y="184.75" width="7.82" height="4.07" fill="#4f403c"/>
<rect x="219.60" y="190.42" width="7.82" height="4.07" fill="#ffffff"/>
<rect x="229.02" y="190.42" width="7.82" height="4.07" fill="#ffffff"/>
<rect x="238.44" y="190.42" width="7.82" height="4.07" fill="#ffffff"/>
<rect x="247.87" y="190.42" width="7.82" height="4.07" fill="#ffffff"/>
<rect x="257.29" y="190.42" width="7.82" height="4.07" fill="#ffffff"/>
<rect x="266.71" y="190.42" width="7.82" height="4.07" fill="#4f403c"/>
<rect x="276.13" y="190.42" width="7.82" height="4.07" fill="#4f403c"/>
<rect x="285.56" y="190.42" width="7.82" height="4.07" fill="#4f403c"/>
<rect x="294.98" y="190.42" width="7.82" height="4.07" fill="#4f403c"/>
<rect x="219.60" y="196.10" width="7.82" height="4.07" fill="#ffffff"/>
<rect x="229.02" y="196.10" width="7.82" height="4.07" fill="#ffffff"/>
<rect x="238.44" y="196.10" width="7.82" height="4.07" fill="#ffffff"/>
<rect x="247.87" y="196.10" width="7.82" height="4.07" fill="#ffffff"/>
<rect x="257.29" y="196.10" width="7.82" height="4.07" fill="#ffffff"/>
<rect x="266.71" y="196.10" width="7.82" height="4.07" fill="#4f403c"/>
<rect x="276.13" y="196.10" width="7.82" height="4.07" fill="#4f403c"/>
<rect x="285.56" y="196.10" width="7.82" height="4.07" fill="#4f403c"/>
<rect x="294.98" y="196.10" width="7.82" height="4.07" fill="#4f403c"/>
<rect x="219.60" y="201.77" width="7.82" height="4.07" fill="#ffffff"/>
<rect x="229.02" y="201.77" width="7.82" height="4.07" fill="#ffffff"/>
<rect x="238.44" y="201.77" width="7.82" height="4.07" fill="#ffffff"/>
<rect x="247.87" y="201.77" width="7.82" height="4.07" fill="#ffffff"/>
<rect x="257.29" y="201.77" width="7.82" height="4.07" fill="#ffffff"/>
<rect x="266.71" y="201.77" width="7.82" height="4.07" fill="#4f403c"/>
<rect x="276.13" y="201.77" width="7.82" height="4.07" fill="#4f403c"/>
<rect x="285.56" y="201.77" width="7.82" height="4.07" fill="#4f403c"/>
<rect x="294.98" y="201.77" width="7.82" height="4.07" fill="#4f403c"/>
<rect x="219.60" y="207.44" width="7.82" height="4.07" fill="#ffffff"/>
<rect x="229.02" y="207.44" width="7.82" height="4.07" fill="#ffffff"/>
<rect x="238.44" y="207.44" width="7.82" height="4.07" fill="#ffffff"/>
<rect x="247.87" y="207.44" width="7.82" height="4.07" fill="#ffffff"/>
<rect x="257.29" y="207.44" width="7.82" height="4.07" fill="#ffffff"/>
<rect x="266.71" y="207.44" width="7.82" height="4.07" fill="#4f403c"/>
<rect x="276.13" y="207.44" width="7.82" height="4.07" fill="#4f403c"/>
<rect x="285.56" y="207.44" width="7.82" height="4.07" fill="#4f403c"/>
<rect x="294.98" y="207.44" width="7.82" height="4.07" fill="#4f403c"/>
<rect x="219.60" y="213.12" width="7.82" height="4.07" fill="#ffffff"/>
<rect x="229.02" y="213.12" width="7.82" height="4.07" fill="#ffffff"/>
<rect x="238.44" y="213.12" width="7.82" height="4.07" fill="#ffffff"/>
<rect x="247.87" y="213.12" width="7.82" height="4.07" fill="#ffffff"/>
<rect x="257.29" y="213.12" width="7.82" height="4.07" fill="#ffffff"/>
<rect x="266.71" y="213.12" width="7.82" height="4.07" fill="#4f403c"/>
<rect x="276.13" y="213.12" width="7.82" height="4.07" fill="#4f403c"/>
<rect x="285.56" y="213.12" width="7.82" height="4.07" fill="#4f403c"/>
<rect x="294.98" y="213.12" width="7.82" height="4.07" fill="#4f403c"/>
<rect x="219.60" y="218.79" width="7.82" height="4.07" fill="#ffffff"/>
<rect x="229.02" y="218.79" width="7.82" height="4.07" fill="#ffffff"/>
<rect x="238.44" y="218.79" width="7.82" height="4.07" fill="#ffffff"/>
<rect x="247.87" y="218.79" width="7.82" height="4.07" fill="#ffffff"/>
<rect x="257.29" y="218.79" width="7.82" height="4.07" fill="#ffffff"/>
<rect x="266.71" y="218.79" width="7.82" height="4.07" fill="#4f403c"/>
<rect x="276.13" y="218.79" width="7.82" height="4.07" fill="#4f403c"/>
<rect x="285.56" y="218.79" width="7.82" height="4.07" fill="#4f403c"/>
<rect x="294.98" y="218.79" width="7.82" height="4.07" fill="#4f403c"/>
<rect x="219.60" y="224.47" width="7.82" height="4.07" fill="#ffffff"/>
<rect x="229.02" y="224.47" width="7.82" height="4.07" fill="#ffffff"/>
<rect x="238.44" y="224.47" width="7.82" height="4.07" fill="#ffffff"/>
<rect x="247.87" y="224.47" width="7.82" height="4.07" fill="#ffffff"/>
<rect x="257.29" y="224.47" width="7.82" height="4.07" fill="#ffffff"/>
<rect x="266.71" y="224.47" width="7.82" height="4.07" fill="#4f403c"/>
<rect x="276.13" y="224.47" width="7.82" height="4.07" fill="#4f403c"/>
<rect x="285.56" y="224.47" width="7.82" height="4.07" fill="#4f403c"/>
<rect x="294.98" y="224.47" width="7.82" height="4.07" fill="#4f403c"/>
<rect x="219.60" y="230.14" width="7.82" height="4.07" fill="#ffffff"/>
<rect x="229.02" y="230.14" width="7.82" height="4.07" fill="#ffffff"/>
<rect x="238.44" y="230.14" width="7.82" height="4.07" fill="#ffffff"/>
<rect x="247.87" y="230.14" width="7.82" height="4.07" fill="#ffffff"/>
<rect x="257.29" y="230.14" width="7.82" height="4.07" fill="#ffffff"/>
<rect x="266.71" y="230.14" width="7.82" height="4.07" fill="#4f403c"/>
<rect x="276.13" y="230.14" width="7.82" height="4.07" fill="#4f403c"/>
<rect x="285.56" y="230.14" width="7.82" height="4.07" fill="#4f403c"/>
<rect x="294.98" y="230.14" width="7.82" height="4.07" fill="#4f403c"/>
<rect x="219.60" y="235.81" width="7.82" height="4.07" fill="#ffffff"/>
<rect x="229.02" y="235.81" width="7.82" height="4.07" fill="#ffffff"/>
<rect x="238.44" y="235.81" width="7.82" height="4.07" fill="#ffffff"/>
<rect x="247.87" y="235.81" width="7.82" height="4.07" fill="#ffffff"/>
<rect x="257.29" y="235.81" width="7.82" height="4.07" fill="#ffffff"/>
<rect x="266.71" y="235.81" width="7.82" height="4.07" fill="#4f403c"/>
<rect x="276.13" y="235.81" width="7.82" height="4.07" fill="#4f403c"/>
<rect x="285.56" y="235.81" width="7.82" height="4.07" fill="#4f403c"/>
<rect x="294.98" y="235.81" width="7.82" height="4.07" fill="#4f403c"/>
<rect x="219.60" y="241.49" width="7.82" height="4.07" fill="#ffffff"/>
<rect x="229.02" y="241.49" width="7.82" height="4.07" fill="#ffffff"/>
<rect x="238.44" y="241.49" width="7.82" height="4.07" fill="#ffffff"/>
<rect x="247.87" y="241.49" width="7.82" height="4.07" fill="#ffffff"/>
<rect x="257.29" y="241.49" width="7.82" height="4.07" fill="#ffffff"/>
<rect x="266.71" y="241.49" width="7.82" height="4.07" fill="#4f403c"/>
<rect x="276.13" y="241.49" width="7.82" height="4.07" fill="#4f403c"/>
<rect x="285.56" y="241.49" width="7.82" height="4.07" fill="#4f403c"/>
<rect x="294.98" y="241.49" width="7.82" height="4.07" fill="#4f403c"/>
<rect x="219.60" y="247.16" width="7.82" height="4.07" fill="#ffffff"/>
<rect x="229.02" y="247.16" width="7.82" height="4.07" fill="#ffffff"/>
<rect x="238.44" y="247.16" width="7.82" height="4.07" fill="#ffffff"/>
<rect x="247.87" y="247.16" width="7.82" height="4.07" fill="#ffffff"/>
<rect x="257.29" y="247.16" width="7.82" height="4.07" fill="#ffffff"/>
<rect x="266.71" y="247.16" width="7.82" height="4.07" fill="#4f403c"/>
<rect x="276.13" y="247.16" width="7.82" height="4.07" fill="#4f403c"/>
<rect x="285.56" y="247.16" width="7.82" height="4.07" fill="#4f403c"/>
<rect x="294.98" y="247.16" width="7.82" height="4.07" fill="#4f403c"/>
<rect x="219.60" y="252.83" width="7.82" height="4.07" fill="#ffffff"/>
<rect x="229.02" y="252.83" width="7.82" height="4.07" fill="#ffffff"/>
<rect x="238.44" y="252.83" width="7.82" height="4.07" fill="#ffffff"/>
<rect x="247.87" y="252.83" width="7.82" height="4.07" fill="#ffffff"/>
<rect x="257.29" y="252.83" width="7.82" height="4.07" fill="#ffffff"/>
<rect x="266.71" y="252.83" width="7.82" height="4.07" fill="#4f403c"/>
<rect x="276.13" y="252.83" width="7.82" height="4.07" fill="#4f403c"/>
<rect x="285.56" y="252.83" width="7.82" height="4.07" fill="#4f403c"/>
<rect x="294.98" y="252.83" width="7.82" height="4.07" fill="#4f403c"/>
<rect x="219.60" y="258.51" width="7.82" height="4.07" fill="#ffffff"/>
<rect x="229.02" y="258.51" width="7.82" height="4.07" fill="#ffffff"/>
<rect x="238.44" y="258.51" width="7.82" height="4.07" fill="#ffffff"/>
<rect x="247.87" y="258.51" width="7.82" height="4.07" fill="#ffffff"/>
<rect x="257.29" y="258.51" width="7.82" height="4.07" fill="#ffffff"/>
<rect x="266.71" y="258.51" width="7.82" height="4.07" fill="#4f403c"/>
<rect x="276.13" y="258.51" width="7.82" height="4.07" fill="#4f403c"/>
<rect x="285.56" y="258.51" width="7.82" height="4.07" fill="#4f403c"/>
<rect x="294.98" y="258.51" width="7.82" height="4.07" fill="#4f403c"/>
<rect x="219.60" y="264.18" width="7.82" height="4.07" fill="#ffffff"/>
<rect x="229.02" y="264.18" width="7.82" height="4.07" fill="#ffffff"/>
<rect x="238.44" y="264.18" width="7.82" height="4.07" fill="#ffffff"/>
<rect x="247.87" y="264.18" width="7.82" height="4.07" fill="#ffffff"/>
<rect x="257.29" y="264.18" width="7.82" height="4.07" fill="#ffffff"/>
<rect x="266.71" y="264.18" width="7.82" height="4.07" fill="#4f403c"/>
<rect x="276.13" y="264.18" width="7.82" height="4.07" fill="#4f403c"/>
<rect x="285.56" y="264.18" width="7.82" height="4.07" fill="#4f403c"/>
<rect x="294.98" y="264.18" width="7.82" height="4.07" fill="#4f403c"/>
<rect x="219.60" y="269.86" width="7.82" height="4.07" fill="#ffffff"/>
<rect x="229.02" y="269.86" width="7.82" height="4.07" fill="#ffffff"/>
<rect x="238.44" y="269.86" width="7.82" height="4.07" fill="#ffffff"/>
<rect x="247.87" y="269.86" width="7.82" height="4.07" fill="#ffffff"/>
<rect x="257.29" y="269.86" width="7.82" height="4.07" fill="#ffffff"/>
<rect x="266.71" y="269.86" width="7.82" height="4.07" fill="#4f403c"/>
<rect x="276.13" y="269.86" width="7.82" height="4.07" fill="#4f403c"/>
<rect x="285.56" y="269.86" width="7.82" height="4.07" fill="#4f403c"/>
<rect x="294.98" y="269.86" width="7.82" height="4.07" fill="#4f403c"/>
<rect x="219.60" y="275.53" width="7.82" height="4.07" fill="#ffffff"/>
<rect x="229.02" y="275.53" width="7.82" height="4.07" fill="#ffffff"/>
<rect x="238.44" y="275.53" width="7.82" height="4.07" fill="#ffffff"/>
<rect x="247.87" y="275.53" width="7.82" height="4.07" fill="#ffffff"/>
<rect x="257.29" y="275.53" width="7.82" height="4.07" fill="#ffffff"/>
<rect x="266.71" y="275.53" width="7.82" height="4.07" fill="#4f403c"/>
<rect x="276.13" y="275.53" width="7.82" height="4.07" fill="#4f403c"/>
<rect x="285.56" y="275.53" width="7.82" height="4.07" fill="#4f403c"/>
<rect x="294.98" y="275.53" width="7.82" height="4.07" fill="#4f403c"/>
<rect x="219.60" y="281.20" width="7.82" height="4.07" fill="#ffffff"/>
<rect x="229.02" y="281.20" width="7.82" height="4.07" fill="#ffffff"/>
<rect x="238.44" y="281.20" width="7.82" height="4.07" fill="#ffffff"/>
<rect x="247.87" y="281.20" width="7.82" height="4.07" fill="#ffffff"/>
<rect x="257.29" y="281.20" width="7.82" height="4.07" fill="#ffffff"/>
<rect x="266.71" y="281.20" width="7.82" height="4.07" fill="#4f403c"/>
<rect x="276.13" y="281.20" width="7.82" height="4.07" fill="#4f403c"/>
<rect x="285.56" y="281.20" width="7.82" height="4.07" fill="#4f403c"/>
<rect x="294.98" y="281.20" width="7.82" height="4.07" fill="#4f403c"/>
<rect x="219.60" y="286.88" width="7.82" height="4.07" fill="#ffffff"/>
<rect x="229.02" y="286.88" width="7.82" height="4.07" fill="#ffffff"/>
<rect x="238.44" y="286.88" width="7.82" height="4.07" fill="#ffffff"/>
<rect x="247.87" y="286.88" width="7.82" height="4.07" fill="#ffffff"/>
<rect x="257.29" y="286.88" width="7.82" height="4.07" fill="#ffffff"/>
<rect x="266.71" y="286.88" width="7.82" height="4.07" fill="#ffffff"/>
<rect x="276.13" y="286.88" width="7.82" height="4.07" fill="#4f403c"/>
<rect x="285.56" y="286.88" width="7.82" height="4.07" fill="#4f403c"/>
<rect x="294.98" y="286.88" width="7.82" height="4.07" fill="#4f403c"/>
<rect x="219.60" y="292.55" width="7.82" height="4.07" fill="#ffffff"/>
<rect x="229.02" y="292.55" width="7.82" height="4.07" fill="#ffffff"/>
<rect x="238.44" y="292.55" width="7.82" height="4.07" fill="#ffffff"/>
<rect x="247.87" y="292.55" width="7.82" height="4.07" fill="#ffffff"/>
<rect x="257.29" y="292.55" width="7.82" height="4.07" fill="#ffffff"/>
<rect x="266.71" y="292.55" width="7.82" height="4.07" fill="#ffffff"/>
<rect x="276.13" y="292.55" width="7.82" height="4.07" fill="#4f403c"/>
<rect x="285.56" y="292.55" width="7.82" height="4.07" fill="#4f403c"/>
<rect x="294.98" y="292.55" width="7.82" height="4.07" fill="#4f403c"/>
<rect x="219.60" y="298.22" width="7.82" height="4.07" fill="#ffffff"/>
<rect x="229.02" y="298.22" width="7.82" height="4.07" fill="#ffffff"/>
<rect x="238.44" y="298.22" width="7.82" height="4.07" fill="#ffffff"/>
<rect x="247.87" y="298.22" width="7.82" height="4.07" fill="#ffffff"/>
<rect x="257.29" y="298.22" width="7.82" height="4.07" fill="#ffffff"/>
<rect x="266.71" y="298.22" width="7.82" height="4.07" fill="#ffffff"/>
<rect x="276.13" y="298.22" width="7.82" height="4.07" fill="#4f403c"/>
<rect x="285.56" y="298.22" width="7.82" height="4.07" fill="#4f403c"/>
<rect x="294.98" y="298.22" width="7.82" height="4.07" fill="#4f403c"/>
<rect x="219.60" y="303.90" width="7.82" height="4.07" fill="#ffffff"/>
<rect x="229.02" y="303.90" width="7.82" height="4.07" fill="#ffffff"/>
<rect x="238.44" y="303.90" width="7.82" height="4.07" fill="#ffffff"/>
<rect x="247.87" y="303.90" width="7.82" height="4.07" fill="#ffffff"/>
<rect x="257.29" y="303.90" width="7.82" height="4.07" fill="#ffffff"/>
<rect x="266.71" y="303.90" width="7.82" height="4.07" fill="#ffffff"/>
<rect x="276.13" y="303.90" width="7.82" height="4.07" fill="#4f403c"/>
<rect x="285.56" y="303.90" width="7.82" height="4.07" fill="#4f403c"/>
<rect x="294.98" y="303.90" width="7.82" height="4.07" fill="#4f403c"/>
<rect x="219.60" y="309.57" width="7.82" height="4.07" fill="#ffffff"/>
<rect x="229.02" y="309.57" width="7.82" height="4.07" fill="#ffffff"/>
<rect x="238.44" y="309.57" width="7.82" height="4.07" fill="#ffffff"/>
<rect x="247.87" y="309.57" width="7.82" height="4.07" fill="#ffffff"/>
<rect x="257.29" y="309.57" width="7.82" height="4.07" fill="#ffffff"/>
<rect x="266.71" y="309.57" width="7.82" height="4.07" fill="#ffffff"/>
<rect x="276.13" y="309.57" width="7.82" height="4.07" fill="#4f403c"/>
<rect x="285.56" y="309.57" width="7.82" height="4.07" fill="#4f403c"/>
<rect x="294.98" y="309.57" width="7.82" height="4.07" fill="#4f403c"/>
<rect x="219.60" y="315.25" width="7.82" height="4.07" fill="#ffffff"/>
<rect x="229.02" y="315.25" width="7.82" height="4.07" fill="#ffffff"/>
<rect x="238.44" y="315.25" width="7.82" height="4.07" fill="#ffffff"/>
<rect x="247.87" y="315.25" width="7.82" height="4.07" fill="#ffffff"/>
<rect x="257.29" y="315.25" width="7.82" height="4.07" fill="#ffffff"/>
<rect x="266.71" y="315.25" width="7.82" height="4.07" fill="#ffffff"/>
<rect x="276.13" y="315.25" width="7.82" height="4.07" fill="#4f403c"/>
<rect x="285.56" y="315.25" width="7.82" height="4.07" fill="#4f403c"/>
<rect x="294.98" y="315.25" width="7.82" height="4.07" fill="#4f403c"/>
<rect x="219.60" y="320.92" width="7.82" height="4.07" fill="#ffffff"/>
<rect x="229.02" y="320.92" width="7.82" height="4.07" fill="#ffffff"/>
<rect x="238.44" y="320.92" width="7.82" height="4.07" fill="#ffffff"/>
<rect x="247.87" y="320.92" width="7.82" height="4.07" fill="#ffffff"/>
<rect x="257.29" y="320.92" width="7.82" height="4.07" fill="#ffffff"/>
<rect x="266.71" y="320.92" width="7.82" height="4.07" fill="#ffffff"/>
<rect x="276.13" y="320.92" width="7.82" height="4.07" fill="#4f403c"/>
<rect x="285.56" y="320.92" width="7.82" height="4.07" fill="#4f403c"/>
<rect x="294.98" y="320.92" width="7.82" height="4.07" fill="#4f403c"/>
<rect x="219.60" y="326.59" width="7.82" height="4.07" fill="#ffffff"/>
<rect x="229.02" y="326.59" width="7.82" height="4.07" fill="#ffffff"/>
<rect x="238.44" y="326.59" width="7.82" height="4.07" fill="#ffffff"/>
<rect x="247.87" y="326.59" width="7.82" height="4.07" fill="#ffffff"/>
<rect x="257.29" y="326.59" width="7.82" height="4.07" fill="#ffffff"/>
<rect x="266.71" y="326.59" width="7.82" height="4.07" fill="#ffffff"/>
<rect x="276.13" y="326.59" width="7.82" height="4.07" fill="#4f403c"/>
<rect x="285.56" y="326.59" width="7.82" height="4.07" fill="#4f403c"/>
<rect x="294.98" y="326.59" width="7.82" height="4.07" fill="#4f403c"/>
<rect x="219.60" y="332.27" width="7.82" height="4.07" fill="#ffffff"/>
<rect x="229.02" y="332.27" width="7.82" height="4.07" fill="#ffffff"/>
<rect x="238.44" y="332.27" width="7.82" height="4.07" fill="#ffffff"/>
<rect x="247.87" y="332.27" width="7.82" height="4.07" fill="#ffffff"/>
<rect x="257.29" y="332.27" width="7.82" height="4.07" fill="#ffffff"/>
<rect x="266.71" y="332.27" width="7.82" height="4.07" fill="#ffffff"/>
<rect x="276.13" y="332.27" width="7.82" height="4.07" fill="#ffffff"/>
<rect x="285.56" y="332.27" width="7.82" height="4.07" fill="#4f403c"/>
<rect x="294.98" y="332.27" width="7.82" height="4.07" fill="#4f403c"/>
<rect x="219.60" y="337.94" width="7.82" height="4.07" fill="#ffffff"/>
<rect x="229.02" y="337.94" width="7.82" height="4.07" fill="#ffffff"/>
<rect x="238.44" y="337.94" width="7.82" height="4.07" fill="#ffffff"/>
<rect x="247.87" y="337.94" width="7.82" height="4.07" fill="#ffffff"/>
<rect x="257.29" y="337.94" width="7.82" height="4.07" fill="#ffffff"/>
<rect x="266.71" y="337.94" width="7.82" height="4.07" fill="#ffffff"/>
<rect x="276.13" y="337.94" width="7.82" height="4.07" fill="#ffffff"/>
<rect x="285.56" y="337.94" width="7.82" height="4.07" fill="#4f403c"/>
<rect x="294.98" y="337.94" width="7.82" height="4.07" fill="#4f403c"/>
<rect x="219.60" y="343.61" width="7.82" height="4.07" fill="#ffffff"/>
<rect x="229.02" y="343.61" width="7.82" height="4.07" fill="#ffffff"/>
<rect x="238.44" y="343.61" width="7.82" height="4.07" fill="#ffffff"/>
<rect x="247.87" y="343.61" width="7.82" height="4.07" fill="#ffffff"/>
<rect x="257.29" y="343.61" width="7.82" height="4.07" fill="#ffffff"/>
<rect x="266.71" y="343.61" width="7.82" height="4.07" fill="#ffffff"/>
<rect x="276.13" y="343.61" width="7.82" height="4.07" fill="#ffffff"/>
<rect x="285.56" y="343.61" width="7.82" height="4.07" fill="#4f403c"/>
<rect x="294.98" y="343.61" width="7.82" height="4.07" fill="#4f403c"/>
<rect x="219.60" y="349.29" width="7.82" height="4.07" fill="#ffffff"/>
<rect x="229.02" y="349.29" width="7.82" height="4.07" fill="#ffffff"/>
<rect x="238.44" y="349.29" width="7.82" height="4.07" fill="#ffffff"/>
<rect x="247.87" y="349.29" width="7.82" height="4.07" fill="#ffffff"/>
<rect x="257.29" y="349.29" width="7.82" height="4.07" fill="#ffffff"/>
<rect x="266.71" y="349.29" width="7.82" height="4.07" fill="#ffffff"/>
<rect x="276.13" y="349.29" width="7.82" height="4.07" fill="#ffffff"/>
<rect x="285.56" y="349.29" width="7.82" height="4.07" fill="#4f403c"/>
<rect x="294.98" y="349.29" width="7.82" height="4.07" fill="#4f403c"/>
<rect x="219.60" y="354.96" width="7.82" height="4.07" fill="#ffffff"/>
<rect x="229.02" y="354.96" width="7.82" height="4.07" fill="#ffffff"/>
<rect x="238.44" y="354.96" width="7.82" height="4.07" fill="#ffffff"/>
<rect x="247.87" y="354.96" width="7.82" height="4.07" fill="#ffffff"/>
<rect x="257.29" y="354.96" width="7.82" height="4.07" fill="#ffffff"/>
<rect x="266.71" y="354.96" width="7.82" height="4.07" fill="#ffffff"/>
<rect x="276.13" y="354.96" width="7.82" height="4.07" fill="#ffffff"/>
<rect x="285.56" y="354.96" width="7.82" height="4.07" fill="#4f403c"/>
<rect x="294.98" y="354.96" width="7.82" height="4.07" fill="#4f403c"/>
<rect x="219.60" y="360.64" width="7.82" height="4.07" fill="#ffffff"/>
<rect x="229.02" y="360.64" width="7.82" height="4.07" fill="#ffffff"/>
<rect x="238.44" y="360.64" width="7.82" height="4.07" fill="#ffffff"/>
<rect x="247.87" y="360.64" width="7.82" height="4.07" fill="#ffffff"/>
<rect x="257.29" y="360.64" width="7.82" height="4.07" fill="#ffffff"/>
<rect x="266.71" y="360.64" width="7.82" height="4.07" fill="#ffffff"/>
<rect x="276.13" y="360.64" width="7.82" height="4.07" fill="#ffffff"/>
<rect x="285.56" y="360.64" width="7.82" height="4.07" fill="#4f403c"/>
<rect x="294.98" y="360.64" width="7.82" height="4.07" fill="#4f403c"/>
<rect x="219.60" y="366.31" width="7.82" height="4.07" fill="#ffffff"/>
<rect x="229.02" y="366.31" width="7.82" height="4.07" fill="#ffffff"/>
<rect x="238.44" y="366.31" width="7.82" height="4.07" fill="#ffffff"/>
<rect x="247.87" y="366.31" width="7.82" height="4.07" fill="#ffffff"/>
<rect x="257.29" y="366.31" width="7.82" height="4.07" fill="#ffffff"/>
<rect x="266.71" y="366.31" width="7.82" height="4.07" fill="#ffffff"/>
<rect x="276.13" y="366.31" width="7.82" height="4.07" fill="#ffffff"/>
<rect x="285.56" y="366.31" width="7.82" height="4.07" fill="#4f403c"/>
<rect x="294.98" y="366.31" width="7.82" height="4.07" fill="#4f403c"/>
<rect x="219.60" y="371.98" width="7.82" height="4.07" fill="#ffffff"/>
<rect x="229.02" y="371.98" width="7.82" height="4.07" fill="#ffffff"/>
<rect x="238.44" y="371.98" width="7.82" height="4.07" fill="#ffffff"/>
<rect x="247.87" y="371.98" width="7.82" height="4.07" fill="#ffffff"/>
<rect x="257.29" y="371.98" width="7.82" height="4.07" fill="#ffffff"/>
<rect x="266.71" y="371.98" width="7.82" height="4.07" fill="#ffffff"/>
<rect x="276.13" y="371.98" width="7.82" height="4.07" fill="#ffffff"/>
<rect x="285.56" y="371.98" width="7.82" height="4.07" fill="#4f403c"/>
<rect x="294.98" y="371.98" width="7.82" height="4.07" fill="#4f403c"/>
<rect x="219.60" y="377.66" width="7.82" height="4.07" fill="#ffffff"/>
<rect x="229.02" y="377.66" width="7.82" height="4.07" fill="#ffffff"/>
<rect x="238.44" y="377.66" width="7.82" height="4.07" fill="#ffffff"/>
<rect x="247.87" y="377.66" width="7.82" height="4.07" fill="#ffffff"/>
<rect x="257.29" y="377.66" width="7.82" height="4.07" fill="#ffffff"/>
<rect x="266.71" y="377.66" width="7.82" height="4.07" fill="#ffffff"/>
<rect x="276.13" y="377.66" width="7.82" height="4.07" fill="#ffffff"/>
<rect x="285.56" y="377.66" width="7.82" height="4.07" fill="#4f403c"/>
<rect x="294.98" y="377.66" width="7.82" height="4.07" fill="#4f403c"/>
<rect x="219.60" y="383.33" width="7.82" height="4.07" fill="#ffffff"/>
<rect x="229.02" y="383.33" width="7.82" height="4.07" fill="#ffffff"/>
<rect x="238.44" y="383.33" width="7.82" height="4.07" fill="#ffffff"/>
<rect x="247.87" y="383.33" width="7.82" height="4.07" fill="#ffffff"/>
<rect x="257.29" y="383.33" width="7.82" height="4.07" fill="#ffffff"/>
<rect x="266.71" y="383.33" width="7.82" height="4.07" fill="#ffffff"/>
<rect x="276.13" y="383.33" width="7.82" height="4.07" fill="#ffffff"/>
<rect x="285.56" y="383.33" width="7.82" height="4.07" fill="#4f403c"/>
<rect x="294.98" y="383.33" width="7.82" height="4.07" fill="#4f403c"/>
<rect x="219.60" y="389.00" width="7.82" height="4.07" fill="#ffffff"/>
<rect x="229.02" y="389.00" width="7.82" height="4.07" fill="#ffffff"/>
<rect x="238.44" y="389.00" width="7.82" height="4.07" fill="#ffffff"/>
<rect x="247.87" y="389.00" width="7.82" height="4.07" fill="#ffffff"/>
<rect x="257.29" y="389.00" width="7.82" height="4.07" fill="#ffffff"/>
<rect x="266.71" y="389.00" width="7.82" height="4.07" fill="#ffffff"/>
<rect x="276.13" y="389.00" width="7.82" height="4.07" fill="#ffffff"/>
<rect x="285.56" y="389.00" width="7.82" height="4.07" fill="#4f403c"/>
<rect x="294.98" y="389.00" width="7.82" height="4.07" fill="#4f403c"/>
<rect x="219.60" y="394.68" width="7.82" height="4.07" fill="#ffffff"/>
<rect x="229.02" y="394.68" width="7.82" height="4.07" fill="#ffffff"/>
<rect x="238.44" y="394.68" width="7.82" height="4.07" fill="#ffffff"/>
<rect x="247.87" y="394.68" width="7.82" height="4.07" fill="#ffffff"/>
<rect x="257.29" y="394.68" width="7.82" height="4.07" fill="#ffffff"/>
<rect x="266.71" y="394.68" width="7.82" height="4.07" fill="#ffffff"/>
<rect x="276.13" y="394.68" width="7.82" height="4.07" fill="#ffffff"/>
<rect x="285.56" y="394.68" width="7.82" height="4.07" fill="#4f403c"/>
<rect x="294.98" y="394.68" width="7.82" height="4.07" fill="#4f403c"/>
<rect x="219.60" y="400.35" width="7.82" height="4.07" fill="#ffffff"/>
<rect x="229.02" y="400.35" width="7.82" height="4.07" fill="#ffffff"/>
<rect x="238.44" y="400.35" width="7.82" height="4.07" fill="#ffffff"/>
<rect x="247.87" y="400.35" width="7.82" height="4.07" fill="#ffffff"/>
<rect x="257.29" y="400.35" width="7.82" height="4.07" fill="#ffffff"/>
<rect x="266.71" y="400.35" width="7.82" height="4.07" fill="#ffffff"/>
<rect x="276.13" y="400.35" width="7.82" height="4.07" fill="#ffffff"/>
<rect x="285.56" y="400.35" width="7.82" height="4.07" fill="#4f403c"/>
<rect x="294.98" y="400.35" width="7.82" height="4.07" fill="#4f403c"/>
<rect x="219.60" y="406.03" width="7.82" height="4.07" fill="#ffffff"/>
<rect x="229.02" y="406.03" width="7.82" height="4.07" fill="#ffffff"/>
<rect x="238.44" y="406.03" width="7.82" height="4.07" fill="#ffffff"/>
<rect x="247.87" y="406.03" width="7.82" height="4.07" fill="#ffffff"/>
<rect x="257.29" y="406.03" width="7.82" height="4.07" fill="#ffffff"/>
<rect x="266.71" y="406.03" width="7.82" height="4.07" fill="#ffffff"/>
<rect x="276.13" y="406.03" width="7.82" height="4.07" fill="#ffffff"/>
<rect x="285.56" y="406.03" width="7.82" height="4.07" fill="#4f403c"/>
<rect x="294.98" y="406.03" width="7.82" height="4.07" fill="#4f403c"/>
<rect x="361.20" y="64.00" width="29.40" height="347.70" fill="#878583"/>
<rect x="362.80" y="65.60" width="7.67" height="4.07" fill="#f29423"/>
<rect x="372.07" y="65.60" width="7.67" height="4.07" fill="#f29423"/>
<rect x="381.33" y="65.60" width="7.67" height="4.07" fill="#f29423"/>
<rect x="362.80" y="71.27" width="7.67" height="4.07" fill="#f29423"/>
<rect x="372.07" y="71.27" width="7.67" height="4.07" fill="#f29423"/>
<rect x="381.33" y="71.27" width="7.67" height="4.07" fill="#f29423"/>
<rect x="362.80" y="76.95" width="7.67" height="4.07" fill="#f29423"/>
<rect x="372.07" y="76.95" width="7.67" height="4.07" fill="#f29423"/>
<rect x="381.33" y="76.95" width="7.67" height="4.07" fill="#f29423"/>
<rect x="362.80" y="82.62" width="7.67" height="4.07" fill="#ffffff"/>
<rect x="372.07" y="82.62" width="7.67" height="4.07" fill="#ffffff"/>
<rect x="381.33" y="82.62" width="7.67" height="4.07" fill="#ffffff"/>
<rect x="362.80" y="88.30" width="7.67" height="4.07" fill="#ffffff"/>
<rect x="372.07" y="88.30" width="7.67" height="4.07" fill="#ffffff"/>
<rect x="381.33" y="88.30" width="7.67" height="4.07" fill="#ffffff"/>
<rect x="362.80" y="93.97" width="7.67" height="4.07" fill="#ffffff"/>
<rect x="372.07" y="93.97" width="7.67" height="4.07" fill="#ffffff"/>
<rect x="381.33" y="93.97" width="7.67" height="4.07" fill="#ffffff"/>
<rect x="362.80" y="99.64" width="7.67" height="4.07" fill="#ffffff"/>
<rect x="372.07" y="99.64" width="7.67" height="4.07" fill="#ffffff"/>
<rect x="381.33" y="99.64" width="7.67" height="4.07" fill="#ffffff"/>
<rect x="362.80" y="105.32" width="7.67" height="4.07" fill="#ffffff"/>
<rect x="372.07" y="105.32" width="7.67" height="4.07" fill="#ffffff"/>
<rect x="381.33" y="105.32" width="7.67" height="4.07" fill="#ffffff"/>
<rect x="362.80" y="110.99" width="7.67" height="4.07" fill="#ffffff"/>
<rect x="372.07" y="110.99" width="7.67" height="4.07" fill="#ffffff"/>
<rect x="381.33" y="110.99" width="7.67" height="4.07" fill="#ffffff"/>
<rect x="362.80" y="116.66" width="7.67" height="4.07" fill="#f29423"/>
<rect x="372.07" y="116.66" width="7.67" height="4.07" fill="#f29423"/>
<rect x="381.33" y="116.66" width="7.67" height="4.07" fill="#f29423"/>
<rect x="362.80" y="122.34" width="7.67" height="4.07" fill="#f29423"/>
<rect x="372.07" y="122.34" width="7.67" height="4.07" fill="#f29423"/>
<rect x="381.33" y="122.34" width="7.67" height="4.07" fill="#f29423"/>
<rect x="362.80" y="128.01" width="7.67" height="4.07" fill="#ffffff"/>
<rect x="372.07" y="128.01" width="7.67" height="4.07" fill="#ffffff"/>
<rect x="381.33" y="128.01" width="7.67" height="4.07" fill="#ffffff"/>
<rect x="362.80" y="133.69" width="7.67" height="4.07" fill="#f29423"/>
<rect x="372.07" y="133.69" width="7.67" height="4.07" fill="#f29423"/>
<rect x="381.33" y="133.69" width="7.67" height="4.07" fill="#f29423"/>
<rect x="362.80" y="139.36" width="7.67" height="4.07" fill="#ffffff"/>
<rect x="372.07" y="139.36" width="7.67" height="4.07" fill="#f29423"/>
<rect x="381.33" y="139.36" width="7.67" height="4.07" fill="#f29423"/>
<rect x="362.80" y="145.03" width="7.67" height="4.07" fill="#ffffff"/>
<rect x="372.07" y="145.03" width="7.67" height="4.07" fill="#ffffff"/>
<rect x="381.33" y="145.03" width="7.67" height="4.07" fill="#ffffff"/>
<rect x="362.80" y="150.71" width="7.67" height="4.07" fill="#ffffff"/>
<rect x="372.07" y="150.71" width="7.67" height="4.07" fill="#ffffff"/>
<rect x="381.33" y="150.71" width="7.67" height="4.07" fill="#ffffff"/>
<rect x="362.80" y="156.38" width="7.67" height="4.07" fill="#ffffff"/>
<rect x="372.07" y="156.38" width="7.67" height="4.07" fill="#ffffff"/>
<rect x="381.33" y="156.38" width="7.67" height="4.07" fill="#ffffff"/>
<rect x="362.80" y="162.05" width="7.67" height="4.07" fill="#ffffff"/>
<rect x="372.07" y="162.05" width="7.67" height="4.07" fill="#ffffff"/>
<rect x="381.33" y="162.05" width="7.67" height="4.07" fill="#ffffff"/>
<rect x="362.80" y="167.73" width="7.67" height="4.07" fill="#f29423"/>
<rect x="372.07" y="167.73" width="7.67" height="4.07" fill="#f29423"/>
<rect x="381.33" y="167.73" width="7.67" height="4.07" fill="#f29423"/>
<rect x="362.80" y="173.40" width="7.67" height="4.07" fill="#f29423"/>
<rect x="372.07" y="173.40" width="7.67" height="4.07" fill="#f29423"/>
<rect x="381.33" y="173.40" width="7.67" height="4.07" fill="#f29423"/>
<rect x="362.80" y="179.08" width="7.67" height="4.07" fill="#f29423"/>
<rect x="372.07" y="179.08" width="7.67" height="4.07" fill="#f29423"/>
<rect x="381.33" y="179.08" width="7.67" height="4.07" fill="#f29423"/>
<rect x="362.80" y="184.75" width="7.67" height="4.07" fill="#ffffff"/>
<rect x="372.07" y="184.75" width="7.67" height="4.07" fill="#f29423"/>
<rect x="381.33" y="184.75" width="7.67" height="4.07" fill="#f29423"/>
<rect x="362.80" y="190.42" width="7.67" height="4.07" fill="#f29423"/>
<rect x="372.07" y="190.42" width="7.67" height="4.07" fill="#f29423"/>
<rect x="381.33" y="190.42" width="7.67" height="4.07" fill="#f29423"/>
<rect x="362.80" y="196.10" width="7.67" height="4.07" fill="#f29423"/>
<rect x="372.07" y="196.10" width="7.67" height="4.07" fill="#f29423"/>
<rect x="381.33" y="196.10" width="7.67" height="4.07" fill="#f29423"/>
<rect x="362.80" y="201.77" width="7.67" height="4.07" fill="#f29423"/>
<rect x="372.07" y="201.77" width="7.67" height="4.07" fill="#f29423"/>
<rect x="381.33" y="201.77" width="7.67" height="4.07" fill="#f29423"/>
<rect x="362.80" y="207.44" width="7.67" height="4.07" fill="#f29423"/>
<rect x="372.07" y="207.44" width="7.67" height="4.07" fill="#f29423"/>
<rect x="381.33" y="207.44" width="7.67" height="4.07" fill="#f29423"/>
<rect x="362.80" y="213.12" width="7.67" height="4.07" fill="#f29423"/>
<rect x="372.07" y="213.12" width="7.67" height="4.07" fill="#f29423"/>
<rect x="381.33" y="213.12" width="7.67" height="4.07" fill="#f29423"/>
<rect x="362.80" y="218.79" width="7.67" height="4.07" fill="#f29423"/>
<rect x="372.07" y="218.79" width="7.67" height="4.07" fill="#f29423"/>
<rect x="381.33" y="218.79" width="7.67" height="4.07" fill="#f29423"/>
<rect x="362.80" y="224.47" width="7.67" height="4.07" fill="#f29423"/>
<rect x="372.07" y="224.47" width="7.67" height="4.07" fill="#f29423"/>
<rect x="381.33" y="224.47" width="7.67" height="4.07" fill="#f29423"/>
<rect x="362.80" y="230.14" width="7.67" height="4.07" fill="#f29423"/>
<rect x="372.07" y="230.14" width="7.67" height="4.07" fill="#f29423"/>
<rect x="381.33" y="230.14" width="7.67" height="4.07" fill="#f29423"/>
<rect x="362.80" y="235.81" width="7.67" height="4.07" fill="#f29423"/>
<rect x="372.07" y="235.81" width="7.67" height="4.07" fill="#f29423"/>
<rect x="381.33" y="235.81" width="7.67" height="4.07" fill="#ffffff"/>
<rect x="362.80" y="241.49" width="7.67" height="4.07" fill="#f29423"/>
<rect x="372.07" y="241.49" width="7.67" height="4.07" fill="#f29423"/>
<rect x="381.33" y="241.49" width="7.67" height="4.07" fill="#f29423"/>
<rect x="362.80" y="247.16" width="7.67" height="4.07" fill="#f29423"/>
<rect x="372.07" y="247.16" width="7.67" height="4.07" fill="#ffffff"/>
<rect x="381.33" y="247.16" width="7.67" height="4.07" fill="#f29423"/>
<rect x="362.80" y="252.83" width="7.67" height="4.07" fill="#ffffff"/>
<rect x="372.07" y="252.83" width="7.67" height="4.07" fill="#f29423"/>
<rect x="381.33" y="252.83" width="7.67" height="4.07" fill="#f29423"/>
<rect x="362.80" y="258.51" width="7.67" height="4.07" fill="#ffffff"/>
<rect x="372.07" y="258.51" width="7.67" height="4.07" fill="#ffffff"/>
<rect x="381.33" y="258.51" width="7.67" height="4.07" fill="#f29423"/>
<rect x="362.80" y="264.18" width="7.67" height="4.07" fill="#ffffff"/>
<rect x="372.07" y="264.18" width="7.67" height="4.07" fill="#f29423"/>
<rect x="381.33" y="264.18" width="7.67" height="4.07" fill="#f29423"/>
<rect x="362.80" y="269.86" width="7.67" height="4.07" fill="#ffffff"/>
<rect x="372.07" y="269.86" width="7.67" height="4.07" fill="#f29423"/>
<rect x="381.33" y="269.86" width="7.67" height="4.07" fill="#f29423"/>
<rect x="362.80" y="275.53" width="7.67" height="4.07" fill="#ffffff"/>
<rect x="372.07" y="275.53" width="7.67" height="4.07" fill="#ffffff"/>
<rect x="381.33" y="275.53" width="7.67" height="4.07" fill="#f29423"/>
<rect x="362.80" y="281.20" width="7.67" height="4.07" fill="#ffffff"/>
<rect x="372.07" y="281.20" width="7.67" height="4.07" fill="#f29423"/>
<rect x="381.33" y="281.20" width="7.67" height="4.07" fill="#f29423"/>
<rect x="362.80" y="286.88" width="7.67" height="4.07" fill="#ffffff"/>
<rect x="372.07" y="286.88" width="7.67" height="4.07" fill="#f29423"/>
<rect x="381.33" y="286.88" width="7.67" height="4.07" fill="#ffffff"/>
<rect x="362.80" y="292.55" width="7.67" height="4.07" fill="#ffffff"/>
<rect x="372.07" y="292.55" width="7.67" height="4.07" fill="#ffffff"/>
<rect x="381.33" y="292.55" width="7.67" height="4.07" fill="#f29423"/>
<rect x="362.80" y="298.22" width="7.67" height="4.07" fill="#ffffff"/>
<rect x="372.07" y="298.22" width="7.67" height="4.07" fill="#ffffff"/>
<rect x="381.33" y="298.22" width="7.67" height="4.07" fill="#ffffff"/>
<rect x="362.80" y="303.90" width="7.67" height="4.07" fill="#f29423"/>
<rect x="372.07" y="303.90" width="7.67" height="4.07" fill="#f29423"/>
<rect x="381.33" y="303.90" width="7.67" height="4.07" fill="#f29423"/>
<rect x="362.80" y="309.57" width="7.67" height="4.07" fill="#f29423"/>
<rect x="372.07" y="309.57" width="7.67" height="4.07" fill="#f29423"/>
<rect x="381.33" y="309.57" width="7.67" height="4.07" fill="#f29423"/>
<rect x="362.80" y="315.25" width="7.67" height="4.07" fill="#f29423"/>
<rect x="372.07" y="315.25" width="7.67" height="4.07" fill="#f29423"/>
<rect x="381.33" y="315.25" width="7.67" height="4.07" fill="#f29423"/>
<rect x="362.80" y="320.92" width="7.67" height="4.07" fill="#f29423"/>
<rect x="372.07" y="320.92" width="7.67" height="4.07" fill="#ffffff"/>
<rect x="381.33" y="320.92" width="7.67" height="4.07" fill="#f29423"/>
<rect x="362.80" y="326.59" width="7.67" height="4.07" fill="#ffffff"/>
<rect x="372.07" y="326.59" width="7.67" height="4.07" fill="#ffffff"/>
<rect x="381.33" y="326.59" width="7.67" height="4.07" fill="#ffffff"/>
<rect x="362.80" y="332.27" width="7.67" height="4.07" fill="#ffffff"/>
<rect x="372.07" y="332.27" width="7.67" height="4.07" fill="#ffffff"/>
<rect x="381.33" y="332.27" width="7.67" height="4.07" fill="#ffffff"/>
<rect x="362.80" y="337.94" width="7.67" height="4.07" fill="#f29423"/>
<rect x="372.07" y="337.94" width="7.67" height="4.07" fill="#f29423"/>
<rect x="381.33" y="337.94" width="7.67" height="4.07" fill="#f29423"/>
<rect x="362.80" y="343.61" width="7.67" height="4.07" fill="#f29423"/>
<rect x="372.07" y="343.61" width="7.67" height="4.07" fill="#f29423"/>
<rect x="381.33" y="343.61" width="7.67" height="4.07" fill="#f29423"/>
<rect x="362.80" y="349.29" width="7.67" height="4.07" fill="#ffffff"/>
<rect x="372.07" y="349.29" width="7.67" height="4.07" fill="#f29423"/>
<rect x="381.33" y="349.29" width="7.67" height="4.07" fill="#f29423"/>
<rect x="362.80" y="354.96" width="7.67" height="4.07" fill="#ffffff"/>
<rect x="372.07" y="354.96" width="7.67" height="4.07" fill="#ffffff"/>
<rect x="381.33" y="354.96" width="7.67" height="4.07" fill="#f29423"/>
<rect x="362.80" y="360.64" width="7.67" height="4.07" fill="#ffffff"/>
<rect x="372.07" y="360.64" width="7.67" height="4.07" fill="#ffffff"/>
<rect x="381.33" y="360.64" width="7.67" height="4.07" fill="#f29423"/>
<rect x="362.80" y="366.31" width="7.67" height="4.07" fill="#ffffff"/>
<rect x="372.07" y="366.31" width="7.67" height="4.07" fill="#ffffff"/>
<rect x="381.33" y="366.31" width="7.67" height="4.07" fill="#f29423"/>
<rect x="362.80" y="371.98" width="7.67" height="4.07" fill="#ffffff"/>
<rect x="372.07" y="371.98" width="7.67" height="4.07" fill="#ffffff"/>
<rect x="381.33" y="371.98" width="7.67" height="4.07" fill="#ffffff"/>
<rect x="362.80" y="377.66" width="7.67" height="4.07" fill="#ffffff"/>
<rect x="372.07" y="377.66" width="7.67" height="4.07" fill="#ffffff"/>
<rect x="381.33" y="377.66" width="7.67" height="4.07" fill="#ffffff"/>
<rect x="362.80" y="383.33" width="7.67" height="4.07" fill="#ffffff"/>
<rect x="372.07" y="383.33" width="7.67" height="4.07" fill="#ffffff"/>
<rect x="381.33" y="383.33" width="7.67" height="4.07" fill="#ffffff"/>
<rect x="362.80" y="389.00" width="7.67" height="4.07" fill="#ffffff"/>
<rect x="372.07" y="389.00" width="7.67" height="4.07" fill="#ffffff"/>
<rect x="381.33" y="389.00" width="7.67" height="4.07" fill="#ffffff"/>
<rect x="362.80" y="394.68" width="7.67" height="4.07" fill="#ffffff"/>
<rect x="372.07" y="394.68" width="7.67" height="4.07" fill="#ffffff"/>
<rect x="381.33" y="394.68" width="7.67" height="4.07" fill="#ffffff"/>
<rect x="362.80" y="400.35" width="7.67" height="4.07" fill="#ffffff"/>
<rect x="372.07" y="400.35" width="7.67" height="4.07" fill="#ffffff"/>
<rect x="381.33" y="400.35" width="7.67" height="4.07" fill="#ffffff"/>
<rect x="362.80" y="406.03" width="7.67" height="4.07" fill="#ffffff"/>
<rect x="372.07" y="406.03" width="7.67" height="4.07" fill="#ffffff"/>
<rect x="381.33" y="406.03" width="7.67" height="4.07" fill="#ffffff"/>
<g font-size="5.2" fill="#111" stroke="#111" stroke-width="0.2">
<text transform="translate(315.60,68.50) rotate(0.05)">Rv2626c</text>
<text transform="translate(315.60,74.19) rotate(0.05)">Rv1996</text>
<text transform="translate(315.60,79.89) rotate(0.05)">Rv3131</text>
<text transform="translate(315.60,85.59) rotate(0.05)">Rv0802c</text>
<text transform="translate(315.60,91.28) rotate(0.05)">Rv3792</text>
<text transform="translate(315.60,96.97) rotate(0.05)">Rv1458c</text>
<text transform="translate(315.60,102.67) rotate(0.05)">Rv1798</text>
<text transform="translate(315.60,108.37) rotate(0.05)">Rv0296c</text>
<text transform="translate(315.60,114.06) rotate(0.05)">Rv3700c</text>
<text transform="translate(315.60,119.75) rotate(0.05)">Rv3134c</text>
<text transform="translate(315.60,125.45) rotate(0.05)">Rv3130c</text>
<text transform="translate(315.60,131.15) rotate(0.05)">Rv3864</text>
<text transform="translate(315.60,136.84) rotate(0.05)">Rv2031c</text>
<text transform="translate(315.60,142.53) rotate(0.05)">Rv0186A</text>
<text transform="translate(315.60,148.23) rotate(0.05)">Rv1179c</text>
<text transform="translate(315.60,153.93) rotate(0.05)">Rv1124</text>
<text transform="translate(315.60,159.62) rotate(0.05)">Rv2092c</text>
<text transform="translate(315.60,165.31) rotate(0.05)">Rv0977</text>
<text transform="translate(315.60,171.01) rotate(0.05)">Rv2627c</text>
<text transform="translate(315.60,176.71) rotate(0.05)">Rv3054c</text>
<text transform="translate(315.60,182.40) rotate(0.05)">Rv1463</text>
<text transform="translate(315.60,188.09) rotate(0.05)">Rv2030c</text>
<text transform="translate(315.60,193.79) rotate(0.05)">Rv1462</text>
<text transform="translate(315.60,199.49) rotate(0.05)">Rv1738</text>
<text transform="translate(315.60,205.18) rotate(0.05)">Rv2625c</text>
<text transform="translate(315.60,210.88) rotate(0.05)">Rv2624c</text>
<text transform="translate(315.60,216.57) rotate(0.05)">Rv2629</text>
<text transform="translate(315.60,222.27) rotate(0.05)">Rv2623</text>
<text transform="translate(315.60,227.96) rotate(0.05)">Rv3127</text>
<text transform="translate(315.60,233.66) rotate(0.05)">Rv2032</text>
<text transform="translate(315.60,239.35) rotate(0.05)">Rv0569</text>
<text transform="translate(315.60,245.05) rotate(0.05)">Rv0140</text>
<text transform="translate(315.60,250.74) rotate(0.05)">Rv3139</text>
<text transform="translate(315.60,256.44) rotate(0.05)">Rv1464</text>
<text transform="translate(315.60,262.13) rotate(0.05)">Rv1461</text>
<text transform="translate(315.60,267.83) rotate(0.05)">Rv1465</text>
<text transform="translate(315.60,273.52) rotate(0.05)">Rv1466</text>
<text transform="translate(315.60,279.22) rotate(0.05)">Rv0251c</text>
<text transform="translate(315.60,284.91) rotate(0.05)">Rv2380c</text>
<text transform="translate(315.60,290.61) rotate(0.05)">Rv3269</text>
<text transform="translate(315.60,296.30) rotate(0.05)">Rv0287</text>
<text transform="translate(315.60,302.00) rotate(0.05)">Rv3875</text>
<text transform="translate(315.60,307.69) rotate(0.05)">Rv2622</text>
<text transform="translate(315.60,313.38) rotate(0.05)">Rv2029c</text>
<text transform="translate(315.60,319.08) rotate(0.05)">Rv2619c</text>
<text transform="translate(315.60,324.78) rotate(0.05)">Rv3140</text>
<text transform="translate(315.60,330.47) rotate(0.05)">Rv3882c</text>
<text transform="translate(315.60,336.17) rotate(0.05)">Rv1398c</text>
<text transform="translate(315.60,341.86) rotate(0.05)">Rv1908c</text>
<text transform="translate(315.60,347.56) rotate(0.05)">Rv1854c</text>
<text transform="translate(315.60,353.25) rotate(0.05)">Rv1050</text>
<text transform="translate(315.60,358.94) rotate(0.05)">Rv1576c</text>
<text transform="translate(315.60,364.64) rotate(0.05)">Rv3206c</text>
<text transform="translate(315.60,370.34) rotate(0.05)">Rv2780</text>
<text transform="translate(315.60,376.03) rotate(0.05)">Rv2826c</text>
<text transform="translate(315.60,381.73) rotate(0.05)">Rv2466c</text>
<text transform="translate(315.60,387.42) rotate(0.05)">Rv1312</text>
<text transform="translate(315.60,393.12) rotate(0.05)">Rv0389</text>
<text transform="translate(315.60,398.81) rotate(0.05)">Rv1265</text>
<text transform="translate(315.60,404.50) rotate(0.05)">Rv2496c</text>
<text transform="translate(315.60,410.20) rotate(0.05)">Rv0479c</text>
</g>
<g font-size="5.2" fill="#111" stroke="#111" stroke-width="0.2">
<text transform="translate(401.70,68.50) rotate(0.05)">Rv2626c</text>
<text transform="translate(401.70,74.19) rotate(0.05)">Rv1996</text>
<text transform="translate(401.70,79.89) rotate(0.05)">Rv3131</text>
<text transform="translate(401.70,85.59) rotate(0.05)">Rv0802c</text>
<text transform="translate(401.70,91.28) rotate(0.05)">Rv3792</text>
<text transform="translate(401.70,96.97) rotate(0.05)">Rv1458c</text>
<text transform="translate(401.70,102.67) rotate(0.05)">Rv1798</text>
<text transform="translate(401.70,108.37) rotate(0.05)">Rv0296c</text>
<text transform="translate(401.70,114.06) rotate(0.05)">Rv3700c</text>
<text transform="translate(401.70,119.75) rotate(0.05)">Rv3134c</text>
<text transform="translate(401.70,125.45) rotate(0.05)">Rv3130c</text>
<text transform="translate(401.70,131.15) rotate(0.05)">Rv3864</text>
<text transform="translate(401.70,136.84) rotate(0.05)">Rv2031c</text>
<text transform="translate(401.70,142.53) rotate(0.05)">Rv0186A</text>
<text transform="translate(401.70,148.23) rotate(0.05)">Rv1179c</text>
<text transform="translate(401.70,153.93) rotate(0.05)">Rv1124</text>
<text transform="translate(401.70,159.62) rotate(0.05)">Rv2092c</text>
<text transform="translate(401.70,165.31) rotate(0.05)">Rv0977</text>
<text transform="translate(401.70,171.01) rotate(0.05)">Rv2627c</text>
<text transform="translate(401.70,176.71) rotate(0.05)">Rv3054c</text>
<text transform="translate(401.70,182.40) rotate(0.05)">Rv1463</text>
<text transform="translate(401.70,188.09) rotate(0.05)">Rv2030c</text>
<text transform="translate(401.70,193.79) rotate(0.05)">Rv1462</text>
<text transform="translate(401.70,199.49) rotate(0.05)">Rv1738</text>
<text transform="translate(401.70,205.18) rotate(0.05)">Rv2625c</text>
<text transform="translate(401.70,210.88) rotate(0.05)">Rv2624c</text>
<text transform="translate(401.70,216.57) rotate(0.05)">Rv2629</text>
<text transform="translate(401.70,222.27) rotate(0.05)">Rv2623</text>
<text transform="translate(401.70,227.96) rotate(0.05)">Rv3127</text>
<text transform="translate(401.70,233.66) rotate(0.05)">Rv2032</text>
<text transform="translate(401.70,239.35) rotate(0.05)">Rv0569</text>
<text transform="translate(401.70,245.05) rotate(0.05)">Rv0140</text>
<text transform="translate(401.70,250.74) rotate(0.05)">Rv3139</text>
<text transform="translate(401.70,256.44) rotate(0.05)">Rv1464</text>
<text transform="translate(401.70,262.13) rotate(0.05)">Rv1461</text>
<text transform="translate(401.70,267.83) rotate(0.05)">Rv1465</text>
<text transform="translate(401.70,273.52) rotate(0.05)">Rv1466</text>
<text transform="translate(401.70,279.22) rotate(0.05)">Rv0251c</text>
<text transform="translate(401.70,284.91) rotate(0.05)">Rv2380c</text>
<text transform="translate(401.70,290.61) rotate(0.05)">Rv3269</text>
<text transform="translate(401.70,296.30) rotate(0.05)">Rv0287</text>
<text transform="translate(401.70,302.00) rotate(0.05)">Rv3875</text>
<text transform="translate(401.70,307.69) rotate(0.05)">Rv2622</text>
<text transform="translate(401.70,313.38) rotate(0.05)">Rv2029c</text>
<text transform="translate(401.70,319.08) rotate(0.05)">Rv2619c</text>
<text transform="translate(401.70,324.78) rotate(0.05)">Rv3140</text>
<text transform="translate(401.70,330.47) rotate(0.05)">Rv3882c</text>
<text transform="translate(401.70,336.17) rotate(0.05)">Rv1398c</text>
<text transform="translate(401.70,341.86) rotate(0.05)">Rv1908c</text>
<text transform="translate(401.70,347.56) rotate(0.05)">Rv1854c</text>
<text transform="translate(401.70,353.25) rotate(0.05)">Rv1050</text>
<text transform="translate(401.70,358.94) rotate(0.05)">Rv1576c</text>
<text transform="translate(401.70,364.64) rotate(0.05)">Rv3206c</text>
<text transform="translate(401.70,370.34) rotate(0.05)">Rv2780</text>
<text transform="translate(401.70,376.03) rotate(0.05)">Rv2826c</text>
<text transform="translate(401.70,381.73) rotate(0.05)">Rv2466c</text>
<text transform="translate(401.70,387.42) rotate(0.05)">Rv1312</text>
<text transform="translate(401.70,393.12) rotate(0.05)">Rv0389</text>
<text transform="translate(401.70,398.81) rotate(0.05)">Rv1265</text>
<text transform="translate(401.70,404.50) rotate(0.05)">Rv2496c</text>
<text transform="translate(401.70,410.20) rotate(0.05)">Rv0479c</text>
</g>
<rect x="458.20" y="61.50" width="85.80" height="500.90" fill="#878583"/>
<rect x="459.80" y="63.10" width="7.76" height="4.07" fill="#ffffff"/>
<rect x="469.16" y="63.10" width="7.76" height="4.07" fill="#ffffff"/>
<rect x="478.51" y="63.10" width="7.76" height="4.07" fill="#ffffff"/>
<rect x="487.87" y="63.10" width="7.76" height="4.07" fill="#ffffff"/>
<rect x="497.22" y="63.10" width="7.76" height="4.07" fill="#ffffff"/>
<rect x="506.58" y="63.10" width="7.76" height="4.07" fill="#ffffff"/>
<rect x="515.93" y="63.10" width="7.76" height="4.07" fill="#ffffff"/>
<rect x="525.29" y="63.10" width="7.76" height="4.07" fill="#4f403c"/>
<rect x="534.64" y="63.10" width="7.76" height="4.07" fill="#ffffff"/>
<rect x="459.80" y="68.77" width="7.76" height="4.07" fill="#ffffff"/>
<rect x="469.16" y="68.77" width="7.76" height="4.07" fill="#ffffff"/>
<rect x="478.51" y="68.77" width="7.76" height="4.07" fill="#ffffff"/>
<rect x="487.87" y="68.77" width="7.76" height="4.07" fill="#ffffff"/>
<rect x="497.22" y="68.77" width="7.76" height="4.07" fill="#ffffff"/>
<rect x="506.58" y="68.77" width="7.76" height="4.07" fill="#ffffff"/>
<rect x="515.93" y="68.77" width="7.76" height="4.07" fill="#ffffff"/>
<rect x="525.29" y="68.77" width="7.76" height="4.07" fill="#4f403c"/>
<rect x="534.64" y="68.77" width="7.76" height="4.07" fill="#ffffff"/>
<rect x="459.80" y="74.45" width="7.76" height="4.07" fill="#ffffff"/>
<rect x="469.16" y="74.45" width="7.76" height="4.07" fill="#ffffff"/>
<rect x="478.51" y="74.45" width="7.76" height="4.07" fill="#ffffff"/>
<rect x="487.87" y="74.45" width="7.76" height="4.07" fill="#ffffff"/>
<rect x="497.22" y="74.45" width="7.76" height="4.07" fill="#ffffff"/>
<rect x="506.58" y="74.45" width="7.76" height="4.07" fill="#ffffff"/>
<rect x="515.93" y="74.45" width="7.76" height="4.07" fill="#ffffff"/>
<rect x="525.29" y="74.45" width="7.76" height="4.07" fill="#4f403c"/>
<rect x="534.64" y="74.45" width="7.76" height="4.07" fill="#ffffff"/>
<rect x="459.80" y="80.12" width="7.76" height="4.07" fill="#ffffff"/>
<rect x="469.16" y="80.12" width="7.76" height="4.07" fill="#ffffff"/>
<rect x="478.51" y="80.12" width="7.76" height="4.07" fill="#ffffff"/>
<rect x="487.87" y="80.12" width="7.76" height="4.07" fill="#ffffff"/>
<rect x="497.22" y="80.12" width="7.76" height="4.07" fill="#ffffff"/>
<rect x="506.58" y="80.12" width="7.76" height="4.07" fill="#ffffff"/>
<rect x="515.93" y="80.12" width="7.76" height="4.07" fill="#ffffff"/>
<rect x="525.29" y="80.12" width="7.76" height="4.07" fill="#4f403c"/>
<rect x="534.64" y="80.12" width="7.76" height="4.07" fill="#ffffff"/>
<rect x="459.80" y="85.80" width="7.76" height="4.07" fill="#ffffff"/>
<rect x="469.16" y="85.80" width="7.76" height="4.07" fill="#ffffff"/>
<rect x="478.51" y="85.80" width="7.76" height="4.07" fill="#ffffff"/>
<rect x="487.87" y="85.80" width="7.76" height="4.07" fill="#ffffff"/>
<rect x="497.22" y="85.80" width="7.76" height="4.07" fill="#ffffff"/>
<rect x="506.58" y="85.80" width="7.76" height="4.07" fill="#ffffff"/>
<rect x="515.93" y="85.80" width="7.76" height="4.07" fill="#ffffff"/>
<rect x="525.29" y="85.80" width="7.76" height="4.07" fill="#4f403c"/>
<rect x="534.64" y="85.80" width="7.76" height="4.07" fill="#ffffff"/>
<rect x="459.80" y="91.47" width="7.76" height="4.07" fill="#ffffff"/>
<rect x="469.16" y="91.47" width="7.76" height="4.07" fill="#ffffff"/>
<rect x="478.51" y="91.47" width="7.76" height="4.07" fill="#ffffff"/>
<rect x="487.87" y="91.47" width="7.76" height="4.07" fill="#ffffff"/>
<rect x="497.22" y="91.47" width="7.76" height="4.07" fill="#ffffff"/>
<rect x="506.58" y="91.47" width="7.76" height="4.07" fill="#ffffff"/>
<rect x="515.93" y="91.47" width="7.76" height="4.07" fill="#ffffff"/>
<rect x="525.29" y="91.47" width="7.76" height="4.07" fill="#4f403c"/>
<rect x="534.64" y="91.47" width="7.76" height="4.07" fill="#ffffff"/>
<rect x="459.80" y="97.14" width="7.76" height="4.07" fill="#ffffff"/>
<rect x="469.16" y="97.14" width="7.76" height="4.07" fill="#ffffff"/>
<rect x="478.51" y="97.14" width="7.76" height="4.07" fill="#ffffff"/>
<rect x="487.87" y="97.14" width="7.76" height="4.07" fill="#ffffff"/>
<rect x="497.22" y="97.14" width="7.76" height="4.07" fill="#ffffff"/>
<rect x="506.58" y="97.14" width="7.76" height="4.07" fill="#ffffff"/>
<rect x="515.93" y="97.14" width="7.76" height="4.07" fill="#ffffff"/>
<rect x="525.29" y="97.14" width="7.76" height="4.07" fill="#4f403c"/>
<rect x="534.64" y="97.14" width="7.76" height="4.07" fill="#ffffff"/>
<rect x="459.80" y="102.82" width="7.76" height="4.07" fill="#ffffff"/>
<rect x="469.16" y="102.82" width="7.76" height="4.07" fill="#ffffff"/>
<rect x="478.51" y="102.82" width="7.76" height="4.07" fill="#ffffff"/>
<rect x="487.87" y="102.82" width="7.76" height="4.07" fill="#ffffff"/>
<rect x="497.22" y="102.82" width="7.76" height="4.07" fill="#ffffff"/>
<rect x="506.58" y="102.82" width="7.76" height="4.07" fill="#ffffff"/>
<rect x="515.93" y="102.82" width="7.76" height="4.07" fill="#ffffff"/>
<rect x="525.29" y="102.82" width="7.76" height="4.07" fill="#4f403c"/>
<rect x="534.64" y="102.82" width="7.76" height="4.07" fill="#ffffff"/>
<rect x="459.80" y="108.49" width="7.76" height="4.07" fill="#ffffff"/>
<rect x="469.16" y="108.49" width="7.76" height="4.07" fill="#ffffff"/>
<rect x="478.51" y="108.49" width="7.76" height="4.07" fill="#ffffff"/>
<rect x="487.87" y="108.49" width="7.76" height="4.07" fill="#ffffff"/>
<rect x="497.22" y="108.49" width="7.76" height="4.07" fill="#ffffff"/>
<rect x="506.58" y="108.49" width="7.76" height="4.07" fill="#ffffff"/>
<rect x="515.93" y="108.49" width="7.76" height="4.07" fill="#ffffff"/>
<rect x="525.29" y="108.49" width="7.76" height="4.07" fill="#4f403c"/>
<rect x="534.64" y="108.49" width="7.76" height="4.07" fill="#ffffff"/>
<rect x="459.80" y="114.16" width="7.76" height="4.07" fill="#ffffff"/>
<rect x="469.16" y="114.16" width="7.76" height="4.07" fill="#ffffff"/>
<rect x="478.51" y="114.16" width="7.76" height="4.07" fill="#ffffff"/>
<rect x="487.87" y="114.16" width="7.76" height="4.07" fill="#ffffff"/>
<rect x="497.22" y="114.16" width="7.76" height="4.07" fill="#ffffff"/>
<rect x="506.58" y="114.16" width="7.76" height="4.07" fill="#ffffff"/>
<rect x="515.93" y="114.16" width="7.76" height="4.07" fill="#ffffff"/>
<rect x="525.29" y="114.16" width="7.76" height="4.07" fill="#4f403c"/>
<rect x="534.64" y="114.16" width="7.76" height="4.07" fill="#4f403c"/>
<rect x="459.80" y="119.84" width="7.76" height="4.07" fill="#ffffff"/>
<rect x="469.16" y="119.84" width="7.76" height="4.07" fill="#ffffff"/>
<rect x="478.51" y="119.84" width="7.76" height="4.07" fill="#ffffff"/>
<rect x="487.87" y="119.84" width="7.76" height="4.07" fill="#ffffff"/>
<rect x="497.22" y="119.84" width="7.76" height="4.07" fill="#ffffff"/>
<rect x="506.58" y="119.84" width="7.76" height="4.07" fill="#ffffff"/>
<rect x="515.93" y="119.84" width="7.76" height="4.07" fill="#ffffff"/>
<rect x="525.29" y="119.84" width="7.76" height="4.07" fill="#4f403c"/>
<rect x="534.64" y="119.84" width="7.76" height="4.07" fill="#4f403c"/>
<rect x="459.80" y="125.51" width="7.76" height="4.07" fill="#ffffff"/>
<rect x="469.16" y="125.51" width="7.76" height="4.07" fill="#ffffff"/>
<rect x="478.51" y="125.51" width="7.76" height="4.07" fill="#ffffff"/>
<rect x="487.87" y="125.51" width="7.76" height="4.07" fill="#ffffff"/>
<rect x="497.22" y="125.51" width="7.76" height="4.07" fill="#ffffff"/>
<rect x="506.58" y="125.51" width="7.76" height="4.07" fill="#ffffff"/>
<rect x="515.93" y="125.51" width="7.76" height="4.07" fill="#ffffff"/>
<rect x="525.29" y="125.51" width="7.76" height="4.07" fill="#4f403c"/>
<rect x="534.64" y="125.51" width="7.76" height="4.07" fill="#4f403c"/>
<rect x="459.80" y="131.19" width="7.76" height="4.07" fill="#ffffff"/>
<rect x="469.16" y="131.19" width="7.76" height="4.07" fill="#ffffff"/>
<rect x="478.51" y="131.19" width="7.76" height="4.07" fill="#ffffff"/>
<rect x="487.87" y="131.19" width="7.76" height="4.07" fill="#ffffff"/>
<rect x="497.22" y="131.19" width="7.76" height="4.07" fill="#ffffff"/>
<rect x="506.58" y="131.19" width="7.76" height="4.07" fill="#ffffff"/>
<rect x="515.93" y="131.19" width="7.76" height="4.07" fill="#ffffff"/>
<rect x="525.29" y="131.19" width="7.76" height="4.07" fill="#4f403c"/>
<rect x="534.64" y="131.19" width="7.76" height="4.07" fill="#4f403c"/>
<rect x="459.80" y="136.86" width="7.76" height="4.07" fill="#ffffff"/>
<rect x="469.16" y="136.86" width="7.76" height="4.07" fill="#ffffff"/>
<rect x="478.51" y="136.86" width="7.76" height="4.07" fill="#ffffff"/>
<rect x="487.87" y="136.86" width="7.76" height="4.07" fill="#ffffff"/>
<rect x="497.22" y="136.86" width="7.76" height="4.07" fill="#ffffff"/>
<rect x="506.58" y="136.86" width="7.76" height="4.07" fill="#ffffff"/>
<rect x="515.93" y="136.86" width="7.76" height="4.07" fill="#ffffff"/>
<rect x="525.29" y="136.86" width="7.76" height="4.07" fill="#4f403c"/>
<rect x="534.64" y="136.86" width="7.76" height="4.07" fill="#4f403c"/>
<rect x="459.80" y="142.53" width="7.76" height="4.07" fill="#ffffff"/>
<rect x="469.16" y="142.53" width="7.76" height="4.07" fill="#ffffff"/>
<rect x="478.51" y="142.53" width="7.76" height="4.07" fill="#ffffff"/>
<rect x="487.87" y="142.53" width="7.76" height="4.07" fill="#ffffff"/>
<rect x="497.22" y="142.53" width="7.76" height="4.07" fill="#ffffff"/>
<rect x="506.58" y="142.53" width="7.76" height="4.07" fill="#ffffff"/>
<rect x="515.93" y="142.53" width="7.76" height="4.07" fill="#ffffff"/>
<rect x="525.29" y="142.53" width="7.76" height="4.07" fill="#4f403c"/>
<rect x="534.64" y="142.53" width="7.76" height="4.07" fill="#4f403c"/>
<rect x="459.80" y="148.21" width="7.76" height="4.07" fill="#ffffff"/>
<rect x="469.16" y="148.21" width="7.76" height="4.07" fill="#ffffff"/>
<rect x="478.51" y="148.21" width="7.76" height="4.07" fill="#ffffff"/>
<rect x="487.87" y="148.21" width="7.76" height="4.07" fill="#ffffff"/>
<rect x="497.22" y="148.21" width="7.76" height="4.07" fill="#ffffff"/>
<rect x="506.58" y="148.21" width="7.76" height="4.07" fill="#ffffff"/>
<rect x="515.93" y="148.21" width="7.76" height="4.07" fill="#ffffff"/>
<rect x="525.29" y="148.21" width="7.76" height="4.07" fill="#4f403c"/>
<rect x="534.64" y="148.21" width="7.76" height="4.07" fill="#4f403c"/>
<rect x="459.80" y="153.88" width="7.76" height="4.07" fill="#ffffff"/>
<rect x="469.16" y="153.88" width="7.76" height="4.07" fill="#ffffff"/>
<rect x="478.51" y="153.88" width="7.76" height="4.07" fill="#ffffff"/>
<rect x="487.87" y="153.88" width="7.76" height="4.07" fill="#ffffff"/>
<rect x="497.22" y="153.88" width="7.76" height="4.07" fill="#ffffff"/>
<rect x="506.58" y="153.88" width="7.76" height="4.07" fill="#ffffff"/>
<rect x="515.93" y="153.88" width="7.76" height="4.07" fill="#ffffff"/>
<rect x="525.29" y="153.88" width="7.76" height="4.07" fill="#4f403c"/>
<rect x="534.64" y="153.88" width="7.76" height="4.07" fill="#4f403c"/>
<rect x="459.80" y="159.56" width="7.76" height="4.07" fill="#ffffff"/>
<rect x="469.16" y="159.56" width="7.76" height="4.07" fill="#ffffff"/>
<rect x="478.51" y="159.56" width="7.76" height="4.07" fill="#ffffff"/>
<rect x="487.87" y="159.56" width="7.76" height="4.07" fill="#ffffff"/>
<rect x="497.22" y="159.56" width="7.76" height="4.07" fill="#ffffff"/>
<rect x="506.58" y="159.56" width="7.76" height="4.07" fill="#ffffff"/>
<rect x="515.93" y="159.56" width="7.76" height="4.07" fill="#ffffff"/>
<rect x="525.29" y="159.56" width="7.76" height="4.07" fill="#4f403c"/>
<rect x="534.64" y="159.56" width="7.76" height="4.07" fill="#4f403c"/>
<rect x="459.80" y="165.23" width="7.76" height="4.07" fill="#ffffff"/>
<rect x="469.16" y="165.23" width="7.76" height="4.07" fill="#ffffff"/>
<rect x="478.51" y="165.23" width="7.76" height="4.07" fill="#ffffff"/>
<rect x="487.87" y="165.23" width="7.76" height="4.07" fill="#ffffff"/>
<rect x="497.22" y="165.23" width="7.76" height="4.07" fill="#ffffff"/>
<rect x="506.58" y="165.23" width="7.76" height="4.07" fill="#ffffff"/>
<rect x="515.93" y="165.23" width="7.76" height="4.07" fill="#ffffff"/>
<rect x="525.29" y="165.23" width="7.76" height="4.07" fill="#4f403c"/>
<rect x="534.64" y="165.23" width="7.76" height="4.07" fill="#4f403c"/>
<rect x="459.80" y="170.90" width="7.76" height="4.07" fill="#ffffff"/>
<rect x="469.16" y="170.90" width="7.76" height="4.07" fill="#ffffff"/>
<rect x="478.51" y="170.90" width="7.76" height="4.07" fill="#ffffff"/>
<rect x="487.87" y="170.90" width="7.76" height="4.07" fill="#ffffff"/>
<rect x="497.22" y="170.90" width="7.76" height="4.07" fill="#ffffff"/>
<rect x="506.58" y="170.90" width="7.76" height="4.07" fill="#ffffff"/>
<rect x="515.93" y="170.90" width="7.76" height="4.07" fill="#ffffff"/>
<rect x="525.29" y="170.90" width="7.76" height="4.07" fill="#4f403c"/>
<rect x="534.64" y="170.90" width="7.76" height="4.07" fill="#4f403c"/>
<rect x="459.80" y="176.58" width="7.76" height="4.07" fill="#ffffff"/>
<rect x="469.16" y="176.58" width="7.76" height="4.07" fill="#ffffff"/>
<rect x="478.51" y="176.58" width="7.76" height="4.07" fill="#ffffff"/>
<rect x="487.87" y="176.58" width="7.76" height="4.07" fill="#ffffff"/>
<rect x="497.22" y="176.58" width="7.76" height="4.07" fill="#ffffff"/>
<rect x="506.58" y="176.58" width="7.76" height="4.07" fill="#ffffff"/>
<rect x="515.93" y="176.58" width="7.76" height="4.07" fill="#ffffff"/>
<rect x="525.29" y="176.58" width="7.76" height="4.07" fill="#4f403c"/>
<rect x="534.64" y="176.58" width="7.76" height="4.07" fill="#4f403c"/>
<rect x="459.80" y="182.25" width="7.76" height="4.07" fill="#ffffff"/>
<rect x="469.16" y="182.25" width="7.76" height="4.07" fill="#ffffff"/>
<rect x="478.51" y="182.25" width="7.76" height="4.07" fill="#ffffff"/>
<rect x="487.87" y="182.25" width="7.76" height="4.07" fill="#ffffff"/>
<rect x="497.22" y="182.25" width="7.76" height="4.07" fill="#ffffff"/>
<rect x="506.58" y="182.25" width="7.76" height="4.07" fill="#ffffff"/>
<rect x="515.93" y="182.25" width="7.76" height="4.07" fill="#ffffff"/>
<rect x="525.29" y="182.25" width="7.76" height="4.07" fill="#4f403c"/>
<rect x="534.64" y="182.25" width="7.76" height="4.07" fill="#4f403c"/>
<rect x="459.80" y="187.92" width="7.76" height="4.07" fill="#ffffff"/>
<rect x="469.16" y="187.92" width="7.76" height="4.07" fill="#ffffff"/>
<rect x="478.51" y="187.92" width="7.76" height="4.07" fill="#ffffff"/>
<rect x="487.87" y="187.92" width="7.76" height="4.07" fill="#ffffff"/>
<rect x="497.22" y="187.92" width="7.76" height="4.07" fill="#ffffff"/>
<rect x="506.58" y="187.92" width="7.76" height="4.07" fill="#ffffff"/>
<rect x="515.93" y="187.92" width="7.76" height="4.07" fill="#ffffff"/>
<rect x="525.29" y="187.92" width="7.76" height="4.07" fill="#4f403c"/>
<rect x="534.64" y="187.92" width="7.76" height="4.07" fill="#4f403c"/>
<rect x="459.80" y="193.60" width="7.76" height="4.07" fill="#ffffff"/>
<rect x="469.16" y="193.60" width="7.76" height="4.07" fill="#ffffff"/>
<rect x="478.51" y="193.60" width="7.76" height="4.07" fill="#ffffff"/>
<rect x="487.87" y="193.60" width="7.76" height="4.07" fill="#ffffff"/>
<rect x="497.22" y="193.60" width="7.76" height="4.07" fill="#ffffff"/>
<rect x="506.58" y="193.60" width="7.76" height="4.07" fill="#ffffff"/>
<rect x="515.93" y="193.60" width="7.76" height="4.07" fill="#ffffff"/>
<rect x="525.29" y="193.60" width="7.76" height="4.07" fill="#4f403c"/>
<rect x="534.64" y="193.60" width="7.76" height="4.07" fill="#4f403c"/>
<rect x="459.80" y="199.27" width="7.76" height="4.07" fill="#ffffff"/>
<rect x="469.16" y="199.27" width="7.76" height="4.07" fill="#ffffff"/>
<rect x="478.51" y="199.27" width="7.76" height="4.07" fill="#ffffff"/>
<rect x="487.87" y="199.27" width="7.76" height="4.07" fill="#ffffff"/>
<rect x="497.22" y="199.27" width="7.76" height="4.07" fill="#ffffff"/>
<rect x="506.58" y="199.27" width="7.76" height="4.07" fill="#ffffff"/>
<rect x="515.93" y="199.27" width="7.76" height="4.07" fill="#ffffff"/>
<rect x="525.29" y="199.27" width="7.76" height="4.07" fill="#4f403c"/>
<rect x="534.64" y="199.27" width="7.76" height="4.07" fill="#4f403c"/>
<rect x="459.80" y="204.95" width="7.76" height="4.07" fill="#ffffff"/>
<rect x="469.16" y="204.95" width="7.76" height="4.07" fill="#ffffff"/>
<rect x="478.51" y="204.95" width="7.76" height="4.07" fill="#ffffff"/>
<rect x="487.87" y="204.95" width="7.76" height="4.07" fill="#ffffff"/>
<rect x="497.22" y="204.95" width="7.76" height="4.07" fill="#ffffff"/>
<rect x="506.58" y="204.95" width="7.76" height="4.07" fill="#ffffff"/>
<rect x="515.93" y="204.95" width="7.76" height="4.07" fill="#ffffff"/>
<rect x="525.29" y="204.95" width="7.76" height="4.07" fill="#4f403c"/>
<rect x="534.64" y="204.95" width="7.76" height="4.07" fill="#4f403c"/>
<rect x="459.80" y="210.62" width="7.76" height="4.07" fill="#ffffff"/>
<rect x="469.16" y="210.62" width="7.76" height="4.07" fill="#ffffff"/>
<rect x="478.51" y="210.62" width="7.76" height="4.07" fill="#ffffff"/>
<rect x="487.87" y="210.62" width="7.76" height="4.07" fill="#ffffff"/>
<rect x="497.22" y="210.62" width="7.76" height="4.07" fill="#ffffff"/>
<rect x="506.58" y="210.62" width="7.76" height="4.07" fill="#ffffff"/>
<rect x="515.93" y="210.62" width="7.76" height="4.07" fill="#ffffff"/>
<rect x="525.29" y="210.62" width="7.76" height="4.07" fill="#4f403c"/>
<rect x="534.64" y="210.62" width="7.76" height="4.07" fill="#4f403c"/>
<rect x="459.80" y="216.29" width="7.76" height="4.07" fill="#ffffff"/>
<rect x="469.16" y="216.29" width="7.76" height="4.07" fill="#ffffff"/>
<rect x="478.51" y="216.29" width="7.76" height="4.07" fill="#ffffff"/>
<rect x="487.87" y="216.29" width="7.76" height="4.07" fill="#ffffff"/>
<rect x="497.22" y="216.29" width="7.76" height="4.07" fill="#ffffff"/>
<rect x="506.58" y="216.29" width="7.76" height="4.07" fill="#ffffff"/>
<rect x="515.93" y="216.29" width="7.76" height="4.07" fill="#ffffff"/>
<rect x="525.29" y="216.29" width="7.76" height="4.07" fill="#4f403c"/>
<rect x="534.64" y="216.29" width="7.76" height="4.07" fill="#4f403c"/>
<rect x="459.80" y="221.97" width="7.76" height="4.07" fill="#ffffff"/>
<rect x="469.16" y="221.97" width="7.76" height="4.07" fill="#ffffff"/>
<rect x="478.51" y="221.97" width="7.76" height="4.07" fill="#ffffff"/>
<rect x="487.87" y="221.97" width="7.76" height="4.07" fill="#ffffff"/>
<rect x="497.22" y="221.97" width="7.76" height="4.07" fill="#ffffff"/>
<rect x="506.58" y="221.97" width="7.76" height="4.07" fill="#ffffff"/>
<rect x="515.93" y="221.97" width="7.76" height="4.07" fill="#ffffff"/>
<rect x="525.29" y="221.97" width="7.76" height="4.07" fill="#4f403c"/>
<rect x="534.64" y="221.97" width="7.76" height="4.07" fill="#4f403c"/>
<rect x="459.80" y="227.64" width="7.76" height="4.07" fill="#ffffff"/>
<rect x="469.16" y="227.64" width="7.76" height="4.07" fill="#ffffff"/>
<rect x="478.51" y="227.64" width="7.76" height="4.07" fill="#ffffff"/>
<rect x="487.87" y="227.64" width="7.76" height="4.07" fill="#ffffff"/>
<rect x="497.22" y="227.64" width="7.76" height="4.07" fill="#ffffff"/>
<rect x="506.58" y="227.64" width="7.76" height="4.07" fill="#ffffff"/>
<rect x="515.93" y="227.64" width="7.76" height="4.07" fill="#ffffff"/>
<rect x="525.29" y="227.64" width="7.76" height="4.07" fill="#4f403c"/>
<rect x="534.64" y="227.64" width="7.76" height="4.07" fill="#4f403c"/>
<rect x="459.80" y="233.32" width="7.76" height="4.07" fill="#ffffff"/>
<rect x="469.16" y="233.32" width="7.76" height="4.07" fill="#ffffff"/>
<rect x="478.51" y="233.32" width="7.76" height="4.07" fill="#ffffff"/>
<rect x="487.87" y="233.32" width="7.76" height="4.07" fill="#ffffff"/>
<rect x="497.22" y="233.32" width="7.76" height="4.07" fill="#ffffff"/>
<rect x="506.58" y="233.32" width="7.76" height="4.07" fill="#ffffff"/>
<rect x="515.93" y="233.32" width="7.76" height="4.07" fill="#ffffff"/>
<rect x="525.29" y="233.32" width="7.76" height="4.07" fill="#4f403c"/>
<rect x="534.64" y="233.32" width="7.76" height="4.07" fill="#4f403c"/>
<rect x="459.80" y="238.99" width="7.76" height="4.07" fill="#ffffff"/>
<rect x="469.16" y="238.99" width="7.76" height="4.07" fill="#ffffff"/>
<rect x="478.51" y="238.99" width="7.76" height="4.07" fill="#ffffff"/>
<rect x="487.87" y="238.99" width="7.76" height="4.07" fill="#ffffff"/>
<rect x="497.22" y="238.99" width="7.76" height="4.07" fill="#ffffff"/>
<rect x="506.58" y="238.99" width="7.76" height="4.07" fill="#ffffff"/>
<rect x="515.93" y="238.99" width="7.76" height="4.07" fill="#ffffff"/>
<rect x="525.29" y="238.99" width="7.76" height="4.07" fill="#4f403c"/>
<rect x="534.64" y="238.99" width="7.76" height="4.07" fill="#4f403c"/>
<rect x="459.80" y="244.66" width="7.76" height="4.07" fill="#ffffff"/>
<rect x="469.16" y="244.66" width="7.76" height="4.07" fill="#ffffff"/>
<rect x="478.51" y="244.66" width="7.76" height="4.07" fill="#ffffff"/>
<rect x="487.87" y="244.66" width="7.76" height="4.07" fill="#ffffff"/>
<rect x="497.22" y="244.66" width="7.76" height="4.07" fill="#ffffff"/>
<rect x="506.58" y="244.66" width="7.76" height="4.07" fill="#ffffff"/>
<rect x="515.93" y="244.66" width="7.76" height="4.07" fill="#ffffff"/>
<rect x="525.29" y="244.66" width="7.76" height="4.07" fill="#4f403c"/>
<rect x="534.64" y="244.66" width="7.76" height="4.07" fill="#4f403c"/>
<rect x="459.80" y="250.34" width="7.76" height="4.07" fill="#ffffff"/>
<rect x="469.16" y="250.34" width="7.76" height="4.07" fill="#ffffff"/>
<rect x="478.51" y="250.34" width="7.76" height="4.07" fill="#ffffff"/>
<rect x="487.87" y="250.34" width="7.76" height="4.07" fill="#ffffff"/>
<rect x="497.22" y="250.34" width="7.76" height="4.07" fill="#ffffff"/>
<rect x="506.58" y="250.34" width="7.76" height="4.07" fill="#ffffff"/>
<rect x="515.93" y="250.34" width="7.76" height="4.07" fill="#ffffff"/>
<rect x="525.29" y="250.34" width="7.76" height="4.07" fill="#4f403c"/>
<rect x="534.64" y="250.34" width="7.76" height="4.07" fill="#4f403c"/>
<rect x="459.80" y="256.01" width="7.76" height="4.07" fill="#ffffff"/>
<rect x="469.16" y="256.01" width="7.76" height="4.07" fill="#ffffff"/>
<rect x="478.51" y="256.01" width="7.76" height="4.07" fill="#ffffff"/>
<rect x="487.87" y="256.01" width="7.76" height="4.07" fill="#ffffff"/>
<rect x="497.22" y="256.01" width="7.76" height="4.07" fill="#ffffff"/>
<rect x="506.58" y="256.01" width="7.76" height="4.07" fill="#ffffff"/>
<rect x="515.93" y="256.01" width="7.76" height="4.07" fill="#ffffff"/>
<rect x="525.29" y="256.01" width="7.76" height="4.07" fill="#4f403c"/>
<rect x="534.64" y="256.01" width="7.76" height="4.07" fill="#4f403c"/>
<rect x="459.80" y="261.69" width="7.76" height="4.07" fill="#ffffff"/>
<rect x="469.16" y="261.69" width="7.76" height="4.07" fill="#ffffff"/>
<rect x="478.51" y="261.69" width="7.76" height="4.07" fill="#ffffff"/>
<rect x="487.87" y="261.69" width="7.76" height="4.07" fill="#ffffff"/>
<rect x="497.22" y="261.69" width="7.76" height="4.07" fill="#ffffff"/>
<rect x="506.58" y="261.69" width="7.76" height="4.07" fill="#ffffff"/>
<rect x="515.93" y="261.69" width="7.76" height="4.07" fill="#ffffff"/>
<rect x="525.29" y="261.69" width="7.76" height="4.07" fill="#4f403c"/>
<rect x="534.64" y="261.69" width="7.76" height="4.07" fill="#4f403c"/>
<rect x="459.80" y="267.36" width="7.76" height="4.07" fill="#ffffff"/>
<rect x="469.16" y="267.36" width="7.76" height="4.07" fill="#ffffff"/>
<rect x="478.51" y="267.36" width="7.76" height="4.07" fill="#ffffff"/>
<rect x="487.87" y="267.36" width="7.76" height="4.07" fill="#ffffff"/>
<rect x="497.22" y="267.36" width="7.76" height="4.07" fill="#ffffff"/>
<rect x="506.58" y="267.36" width="7.76" height="4.07" fill="#ffffff"/>
<rect x="515.93" y="267.36" width="7.76" height="4.07" fill="#ffffff"/>
<rect x="525.29" y="267.36" width="7.76" height="4.07" fill="#4f403c"/>
<rect x="534.64" y="267.36" width="7.76" height="4.07" fill="#4f403c"/>
<rect x="459.80" y="273.03" width="7.76" height="4.07" fill="#ffffff"/>
<rect x="469.16" y="273.03" width="7.76" height="4.07" fill="#ffffff"/>
<rect x="478.51" y="273.03" width="7.76" height="4.07" fill="#ffffff"/>
<rect x="487.87" y="273.03" width="7.76" height="4.07" fill="#ffffff"/>
<rect x="497.22" y="273.03" width="7.76" height="4.07" fill="#ffffff"/>
<rect x="506.58" y="273.03" width="7.76" height="4.07" fill="#ffffff"/>
<rect x="515.93" y="273.03" width="7.76" height="4.07" fill="#ffffff"/>
<rect x="525.29" y="273.03" width="7.76" height="4.07" fill="#4f403c"/>
<rect x="534.64" y="273.03" width="7.76" height="4.07" fill="#4f403c"/>
<rect x="459.80" y="278.71" width="7.76" height="4.07" fill="#ffffff"/>
<rect x="469.16" y="278.71" width="7.76" height="4.07" fill="#ffffff"/>
<rect x="478.51" y="278.71" width="7.76" height="4.07" fill="#ffffff"/>
<rect x="487.87" y="278.71" width="7.76" height="4.07" fill="#ffffff"/>
<rect x="497.22" y="278.71" width="7.76" height="4.07" fill="#ffffff"/>
<rect x="506.58" y="278.71" width="7.76" height="4.07" fill="#ffffff"/>
<rect x="515.93" y="278.71" width="7.76" height="4.07" fill="#ffffff"/>
<rect x="525.29" y="278.71" width="7.76" height="4.07" fill="#4f403c"/>
<rect x="534.64" y="278.71" width="7.76" height="4.07" fill="#4f403c"/>
<rect x="459.80" y="284.38" width="7.76" height="4.07" fill="#ffffff"/>
<rect x="469.16" y="284.38" width="7.76" height="4.07" fill="#ffffff"/>
<rect x="478.51" y="284.38" width="7.76" height="4.07" fill="#ffffff"/>
<rect x="487.87" y="284.38" width="7.76" height="4.07" fill="#ffffff"/>
<rect x="497.22" y="284.38" width="7.76" height="4.07" fill="#ffffff"/>
<rect x="506.58" y="284.38" width="7.76" height="4.07" fill="#ffffff"/>
<rect x="515.93" y="284.38" width="7.76" height="4.07" fill="#ffffff"/>
<rect x="525.29" y="284.38" width="7.76" height="4.07" fill="#4f403c"/>
<rect x="534.64" y="284.38" width="7.76" height="4.07" fill="#4f403c"/>
<rect x="459.80" y="290.05" width="7.76" height="4.07" fill="#ffffff"/>
<rect x="469.16" y="290.05" width="7.76" height="4.07" fill="#ffffff"/>
<rect x="478.51" y="290.05" width="7.76" height="4.07" fill="#ffffff"/>
<rect x="487.87" y="290.05" width="7.76" height="4.07" fill="#ffffff"/>
<rect x="497.22" y="290.05" width="7.76" height="4.07" fill="#ffffff"/>
<rect x="506.58" y="290.05" width="7.76" height="4.07" fill="#ffffff"/>
<rect x="515.93" y="290.05" width="7.76" height="4.07" fill="#ffffff"/>
<rect x="525.29" y="290.05" width="7.76" height="4.07" fill="#4f403c"/>
<rect x="534.64" y="290.05" width="7.76" height="4.07" fill="#4f403c"/>
<rect x="459.80" y="295.73" width="7.76" height="4.07" fill="#ffffff"/>
<rect x="469.16" y="295.73" width="7.76" height="4.07" fill="#ffffff"/>
<rect x="478.51" y="295.73" width="7.76" height="4.07" fill="#ffffff"/>
<rect x="487.87" y="295.73" width="7.76" height="4.07" fill="#ffffff"/>
<rect x="497.22" y="295.73" width="7.76" height="4.07" fill="#ffffff"/>
<rect x="506.58" y="295.73" width="7.76" height="4.07" fill="#ffffff"/>
<rect x="515.93" y="295.73" width="7.76" height="4.07" fill="#ffffff"/>
<rect x="525.29" y="295.73" width="7.76" height="4.07" fill="#4f403c"/>
<rect x="534.64" y="295.73" width="7.76" height="4.07" fill="#4f403c"/>
<rect x="459.80" y="301.40" width="7.76" height="4.07" fill="#ffffff"/>
<rect x="469.16" y="301.40" width="7.76" height="4.07" fill="#ffffff"/>
<rect x="478.51" y="301.40" width="7.76" height="4.07" fill="#ffffff"/>
<rect x="487.87" y="301.40" width="7.76" height="4.07" fill="#ffffff"/>
<rect x="497.22" y="301.40" width="7.76" height="4.07" fill="#ffffff"/>
<rect x="506.58" y="301.40" width="7.76" height="4.07" fill="#ffffff"/>
<rect x="515.93" y="301.40" width="7.76" height="4.07" fill="#ffffff"/>
<rect x="525.29" y="301.40" width="7.76" height="4.07" fill="#4f403c"/>
<rect x="534.64" y="301.40" width="7.76" height="4.07" fill="#4f403c"/>
<rect x="459.80" y="307.08" width="7.76" height="4.07" fill="#ffffff"/>
<rect x="469.16" y="307.08" width="7.76" height="4.07" fill="#ffffff"/>
<rect x="478.51" y="307.08" width="7.76" height="4.07" fill="#ffffff"/>
<rect x="487.87" y="307.08" width="7.76" height="4.07" fill="#ffffff"/>
<rect x="497.22" y="307.08" width="7.76" height="4.07" fill="#ffffff"/>
<rect x="506.58" y="307.08" width="7.76" height="4.07" fill="#ffffff"/>
<rect x="515.93" y="307.08" width="7.76" height="4.07" fill="#ffffff"/>
<rect x="525.29" y="307.08" width="7.76" height="4.07" fill="#4f403c"/>
<rect x="534.64" y="307.08" width="7.76" height="4.07" fill="#4f403c"/>
<rect x="459.80" y="312.75" width="7.76" height="4.07" fill="#ffffff"/>
<rect x="469.16" y="312.75" width="7.76" height="4.07" fill="#ffffff"/>
<rect x="478.51" y="312.75" width="7.76" height="4.07" fill="#ffffff"/>
<rect x="487.87" y="312.75" width="7.76" height="4.07" fill="#ffffff"/>
<rect x="497.22" y="312.75" width="7.76" height="4.07" fill="#ffffff"/>
<rect x="506.58" y="312.75" width="7.76" height="4.07" fill="#ffffff"/>
<rect x="515.93" y="312.75" width="7.76" height="4.07" fill="#ffffff"/>
<rect x="525.29" y="312.75" width="7.76" height="4.07" fill="#4f403c"/>
<rect x="534.64" y="312.75" width="7.76" height="4.07" fill="#4f403c"/>
<rect x="459.80" y="318.42" width="7.76" height="4.07" fill="#ffffff"/>
<rect x="469.16" y="318.42" width="7.76" height="4.07" fill="#ffffff"/>
<rect x="478.51" y="318.42" width="7.76" height="4.07" fill="#ffffff"/>
<rect x="487.87" y="318.42" width="7.76" height="4.07" fill="#ffffff"/>
<rect x="497.22" y="318.42" width="7.76" height="4.07" fill="#ffffff"/>
<rect x="506.58" y="318.42" width="7.76" height="4.07" fill="#ffffff"/>
<rect x="515.93" y="318.42" width="7.76" height="4.07" fill="#ffffff"/>
<rect x="525.29" y="318.42" width="7.76" height="4.07" fill="#4f403c"/>
<rect x="534.64" y="318.42" width="7.76" height="4.07" fill="#4f403c"/>
<rect x="459.80" y="324.10" width="7.76" height="4.07" fill="#ffffff"/>
<rect x="469.16" y="324.10" width="7.76" height="4.07" fill="#ffffff"/>
<rect x="478.51" y="324.10" width="7.76" height="4.07" fill="#ffffff"/>
<rect x="487.87" y="324.10" width="7.76" height="4.07" fill="#ffffff"/>
<rect x="497.22" y="324.10" width="7.76" height="4.07" fill="#ffffff"/>
<rect x="506.58" y="324.10" width="7.76" height="4.07" fill="#ffffff"/>
<rect x="515.93" y="324.10" width="7.76" height="4.07" fill="#4f403c"/>
<rect x="525.29" y="324.10" width="7.76" height="4.07" fill="#4f403c"/>
<rect x="534.64" y="324.10" width="7.76" height="4.07" fill="#ffffff"/>
<rect x="459.80" y="329.77" width="7.76" height="4.07" fill="#ffffff"/>
<rect x="469.16" y="329.77" width="7.76" height="4.07" fill="#ffffff"/>
<rect x="478.51" y="329.77" width="7.76" height="4.07" fill="#ffffff"/>
<rect x="487.87" y="329.77" width="7.76" height="4.07" fill="#ffffff"/>
<rect x="497.22" y="329.77" width="7.76" height="4.07" fill="#ffffff"/>
<rect x="506.58" y="329.77" width="7.76" height="4.07" fill="#ffffff"/>
<rect x="515.93" y="329.77" width="7.76" height="4.07" fill="#4f403c"/>
<rect x="525.29" y="329.77" width="7.76" height="4.07" fill="#4f403c"/>
<rect x="534.64" y="329.77" width="7.76" height="4.07" fill="#ffffff"/>
<rect x="459.80" y="335.45" width="7.76" height="4.07" fill="#ffffff"/>
<rect x="469.16" y="335.45" width="7.76" height="4.07" fill="#ffffff"/>
<rect x="478.51" y="335.45" width="7.76" height="4.07" fill="#ffffff"/>
<rect x="487.87" y="335.45" width="7.76" height="4.07" fill="#ffffff"/>
<rect x="497.22" y="335.45" width="7.76" height="4.07" fill="#ffffff"/>
<rect x="506.58" y="335.45" width="7.76" height="4.07" fill="#ffffff"/>
<rect x="515.93" y="335.45" width="7.76" height="4.07" fill="#4f403c"/>
<rect x="525.29" y="335.45" width="7.76" height="4.07" fill="#4f403c"/>
<rect x="534.64" y="335.45" width="7.76" height="4.07" fill="#4f403c"/>
<rect x="459.80" y="341.12" width="7.76" height="4.07" fill="#ffffff"/>
<rect x="469.16" y="341.12" width="7.76" height="4.07" fill="#ffffff"/>
<rect x="478.51" y="341.12" width="7.76" height="4.07" fill="#ffffff"/>
<rect x="487.87" y="341.12" width="7.76" height="4.07" fill="#ffffff"/>
<rect x="497.22" y="341.12" width="7.76" height="4.07" fill="#ffffff"/>
<rect x="506.58" y="341.12" width="7.76" height="4.07" fill="#ffffff"/>
<rect x="515.93" y="341.12" width="7.76" height="4.07" fill="#4f403c"/>
<rect x="525.29" y="341.12" width="7.76" height="4.07" fill="#4f403c"/>
<rect x="534.64" y="341.12" width="7.76" height="4.07" fill="#4f403c"/>
<rect x="459.80" y="346.79" width="7.76" height="4.07" fill="#ffffff"/>
<rect x="469.16" y="346.79" width="7.76" height="4.07" fill="#ffffff"/>
<rect x="478.51" y="346.79" width="7.76" height="4.07" fill="#ffffff"/>
<rect x="487.87" y="346.79" width="7.76" height="4.07" fill="#ffffff"/>
<rect x="497.22" y="346.79" width="7.76" height="4.07" fill="#ffffff"/>
<rect x="506.58" y="346.79" width="7.76" height="4.07" fill="#ffffff"/>
<rect x="515.93" y="346.79" width="7.76" height="4.07" fill="#4f403c"/>
<rect x="525.29" y="346.79" width="7.76" height="4.07" fill="#4f403c"/>
<rect x="534.64" y="346.79" width="7.76" height="4.07" fill="#4f403c"/>
<rect x="459.80" y="352.47" width="7.76" height="4.07" fill="#ffffff"/>
<rect x="469.16" y="352.47" width="7.76" height="4.07" fill="#ffffff"/>
<rect x="478.51" y="352.47" width="7.76" height="4.07" fill="#ffffff"/>
<rect x="487.87" y="352.47" width="7.76" height="4.07" fill="#ffffff"/>
<rect x="497.22" y="352.47" width="7.76" height="4.07" fill="#ffffff"/>
<rect x="506.58" y="352.47" width="7.76" height="4.07" fill="#ffffff"/>
<rect x="515.93" y="352.47" width="7.76" height="4.07" fill="#4f403c"/>
<rect x="525.29" y="352.47" width="7.76" height="4.07" fill="#4f403c"/>
<rect x="534.64" y="352.47" width="7.76" height="4.07" fill="#4f403c"/>
<rect x="459.80" y="358.14" width="7.76" height="4.07" fill="#ffffff"/>
<rect x="469.16" y="358.14" width="7.76" height="4.07" fill="#ffffff"/>
<rect x="478.51" y="358.14" width="7.76" height="4.07" fill="#ffffff"/>
<rect x="487.87" y="358.14" width="7.76" height="4.07" fill="#ffffff"/>
<rect x="497.22" y="358.14" width="7.76" height="4.07" fill="#ffffff"/>
<rect x="506.58" y="358.14" width="7.76" height="4.07" fill="#ffffff"/>
<rect x="515.93" y="358.14" width="7.76" height="4.07" fill="#4f403c"/>
<rect x="525.29" y="358.14" width="7.76" height="4.07" fill="#4f403c"/>
<rect x="534.64" y="358.14" width="7.76" height="4.07" fill="#4f403c"/>
<rect x="459.80" y="363.81" width="7.76" height="4.07" fill="#ffffff"/>
<rect x="469.16" y="363.81" width="7.76" height="4.07" fill="#ffffff"/>
<rect x="478.51" y="363.81" width="7.76" height="4.07" fill="#ffffff"/>
<rect x="487.87" y="363.81" width="7.76" height="4.07" fill="#ffffff"/>
<rect x="497.22" y="363.81" width="7.76" height="4.07" fill="#ffffff"/>
<rect x="506.58" y="363.81" width="7.76" height="4.07" fill="#ffffff"/>
<rect x="515.93" y="363.81" width="7.76" height="4.07" fill="#4f403c"/>
<rect x="525.29" y="363.81" width="7.76" height="4.07" fill="#4f403c"/>
<rect x="534.64" y="363.81" width="7.76" height="4.07" fill="#4f403c"/>
<rect x="459.80" y="369.49" width="7.76" height="4.07" fill="#ffffff"/>
<rect x="469.16" y="369.49" width="7.76" height="4.07" fill="#ffffff"/>
<rect x="478.51" y="369.49" width="7.76" height="4.07" fill="#ffffff"/>
<rect x="487.87" y="369.49" width="7.76" height="4.07" fill="#ffffff"/>
<rect x="497.22" y="369.49" width="7.76" height="4.07" fill="#ffffff"/>
<rect x="506.58" y="369.49" width="7.76" height="4.07" fill="#ffffff"/>
<rect x="515.93" y="369.49" width="7.76" height="4.07" fill="#4f403c"/>
<rect x="525.29" y="369.49" width="7.76" height="4.07" fill="#4f403c"/>
<rect x="534.64" y="369.49" width="7.76" height="4.07" fill="#4f403c"/>
<rect x="459.80" y="375.16" width="7.76" height="4.07" fill="#ffffff"/>
<rect x="469.16" y="375.16" width="7.76" height="4.07" fill="#ffffff"/>
<rect x="478.51" y="375.16" width="7.76" height="4.07" fill="#ffffff"/>
<rect x="487.87" y="375.16" width="7.76" height="4.07" fill="#ffffff"/>
<rect x="497.22" y="375.16" width="7.76" height="4.07" fill="#ffffff"/>
<rect x="506.58" y="375.16" width="7.76" height="4.07" fill="#ffffff"/>
<rect x="515.93" y="375.16" width="7.76" height="4.07" fill="#4f403c"/>
<rect x="525.29" y="375.16" width="7.76" height="4.07" fill="#4f403c"/>
<rect x="534.64" y="375.16" width="7.76" height="4.07" fill="#4f403c"/>
<rect x="459.80" y="380.84" width="7.76" height="4.07" fill="#ffffff"/>
<rect x="469.16" y="380.84" width="7.76" height="4.07" fill="#ffffff"/>
<rect x="478.51" y="380.84" width="7.76" height="4.07" fill="#ffffff"/>
<rect x="487.87" y="380.84" width="7.76" height="4.07" fill="#ffffff"/>
<rect x="497.22" y="380.84" width="7.76" height="4.07" fill="#ffffff"/>
<rect x="506.58" y="380.84" width="7.76" height="4.07" fill="#ffffff"/>
<rect x="515.93" y="380.84" width="7.76" height="4.07" fill="#4f403c"/>
<rect x="525.29" y="380.84" width="7.76" height="4.07" fill="#4f403c"/>
<rect x="534.64" y="380.84" width="7.76" height="4.07" fill="#4f403c"/>
<rect x="459.80" y="386.51" width="7.76" height="4.07" fill="#ffffff"/>
<rect x="469.16" y="386.51" width="7.76" height="4.07" fill="#ffffff"/>
<rect x="478.51" y="386.51" width="7.76" height="4.07" fill="#ffffff"/>
<rect x="487.87" y="386.51" width="7.76" height="4.07" fill="#ffffff"/>
<rect x="497.22" y="386.51" width="7.76" height="4.07" fill="#ffffff"/>
<rect x="506.58" y="386.51" width="7.76" height="4.07" fill="#ffffff"/>
<rect x="515.93" y="386.51" width="7.76" height="4.07" fill="#4f403c"/>
<rect x="525.29" y="386.51" width="7.76" height="4.07" fill="#4f403c"/>
<rect x="534.64" y="386.51" width="7.76" height="4.07" fill="#4f403c"/>
<rect x="459.80" y="392.18" width="7.76" height="4.07" fill="#ffffff"/>
<rect x="469.16" y="392.18" width="7.76" height="4.07" fill="#ffffff"/>
<rect x="478.51" y="392.18" width="7.76" height="4.07" fill="#ffffff"/>
<rect x="487.87" y="392.18" width="7.76" height="4.07" fill="#ffffff"/>
<rect x="497.22" y="392.18" width="7.76" height="4.07" fill="#ffffff"/>
<rect x="506.58" y="392.18" width="7.76" height="4.07" fill="#ffffff"/>
<rect x="515.93" y="392.18" width="7.76" height="4.07" fill="#4f403c"/>
<rect x="525.29" y="392.18" width="7.76" height="4.07" fill="#4f403c"/>
<rect x="534.64" y="392.18" width="7.76" height="4.07" fill="#4f403c"/>
<rect x="459.80" y="397.86" width="7.76" height="4.07" fill="#ffffff"/>
<rect x="469.16" y="397.86" width="7.76" height="4.07" fill="#ffffff"/>
<rect x="478.51" y="397.86" width="7.76" height="4.07" fill="#ffffff"/>
<rect x="487.87" y="397.86" width="7.76" height="4.07" fill="#ffffff"/>
<rect x="497.22" y="397.86" width="7.76" height="4.07" fill="#ffffff"/>
<rect x="506.58" y="397.86" width="7.76" height="4.07" fill="#ffffff"/>
<rect x="515.93" y="397.86" width="7.76" height="4.07" fill="#4f403c"/>
<rect x="525.29" y="397.86" width="7.76" height="4.07" fill="#4f403c"/>
<rect x="534.64" y="397.86" width="7.76" height="4.07" fill="#4f403c"/>
<rect x="459.80" y="403.53" width="7.76" height="4.07" fill="#ffffff"/>
<rect x="469.16" y="403.53" width="7.76" height="4.07" fill="#ffffff"/>
<rect x="478.51" y="403.53" width="7.76" height="4.07" fill="#ffffff"/>
<rect x="487.87" y="403.53" width="7.76" height="4.07" fill="#ffffff"/>
<rect x="497.22" y="403.53" width="7.76" height="4.07" fill="#ffffff"/>
<rect x="506.58" y="403.53" width="7.76" height="4.07" fill="#ffffff"/>
<rect x="515.93" y="403.53" width="7.76" height="4.07" fill="#4f403c"/>
<rect x="525.29" y="403.53" width="7.76" height="4.07" fill="#4f403c"/>
<rect x="534.64" y="403.53" width="7.76" height="4.07" fill="#4f403c"/>
<rect x="459.80" y="409.21" width="7.76" height="4.07" fill="#ffffff"/>
<rect x="469.16" y="409.21" width="7.76" height="4.07" fill="#ffffff"/>
<rect x="478.51" y="409.21" width="7.76" height="4.07" fill="#ffffff"/>
<rect x="487.87" y="409.21" width="7.76" height="4.07" fill="#ffffff"/>
<rect x="497.22" y="409.21" width="7.76" height="4.07" fill="#ffffff"/>
<rect x="506.58" y="409.21" width="7.76" height="4.07" fill="#ffffff"/>
<rect x="515.93" y="409.21" width="7.76" height="4.07" fill="#4f403c"/>
<rect x="525.29" y="409.21" width="7.76" height="4.07" fill="#4f403c"/>
<rect x="534.64" y="409.21" width="7.76" height="4.07" fill="#4f403c"/>
<rect x="459.80" y="414.88" width="7.76" height="4.07" fill="#ffffff"/>
<rect x="469.16" y="414.88" width="7.76" height="4.07" fill="#ffffff"/>
<rect x="478.51" y="414.88" width="7.76" height="4.07" fill="#ffffff"/>
<rect x="487.87" y="414.88" width="7.76" height="4.07" fill="#ffffff"/>
<rect x="497.22" y="414.88" width="7.76" height="4.07" fill="#ffffff"/>
<rect x="506.58" y="414.88" width="7.76" height="4.07" fill="#4f403c"/>
<rect x="515.93" y="414.88" width="7.76" height="4.07" fill="#4f403c"/>
<rect x="525.29" y="414.88" width="7.76" height="4.07" fill="#4f403c"/>
<rect x="534.64" y="414.88" width="7.76" height="4.07" fill="#4f403c"/>
<rect x="459.80" y="420.55" width="7.76" height="4.07" fill="#ffffff"/>
<rect x="469.16" y="420.55" width="7.76" height="4.07" fill="#ffffff"/>
<rect x="478.51" y="420.55" width="7.76" height="4.07" fill="#ffffff"/>
<rect x="487.87" y="420.55" width="7.76" height="4.07" fill="#ffffff"/>
<rect x="497.22" y="420.55" width="7.76" height="4.07" fill="#ffffff"/>
<rect x="506.58" y="420.55" width="7.76" height="4.07" fill="#4f403c"/>
<rect x="515.93" y="420.55" width="7.76" height="4.07" fill="#4f403c"/>
<rect x="525.29" y="420.55" width="7.76" height="4.07" fill="#4f403c"/>
<rect x="534.64" y="420.55" width="7.76" height="4.07" fill="#4f403c"/>
<rect x="459.80" y="426.23" width="7.76" height="4.07" fill="#ffffff"/>
<rect x="469.16" y="426.23" width="7.76" height="4.07" fill="#ffffff"/>
<rect x="478.51" y="426.23" width="7.76" height="4.07" fill="#ffffff"/>
<rect x="487.87" y="426.23" width="7.76" height="4.07" fill="#ffffff"/>
<rect x="497.22" y="426.23" width="7.76" height="4.07" fill="#ffffff"/>
<rect x="506.58" y="426.23" width="7.76" height="4.07" fill="#4f403c"/>
<rect x="515.93" y="426.23" width="7.76" height="4.07" fill="#4f403c"/>
<rect x="525.29" y="426.23" width="7.76" height="4.07" fill="#4f403c"/>
<rect x="534.64" y="426.23" width="7.76" height="4.07" fill="#4f403c"/>
<rect x="459.80" y="431.90" width="7.76" height="4.07" fill="#ffffff"/>
<rect x="469.16" y="431.90" width="7.76" height="4.07" fill="#ffffff"/>
<rect x="478.51" y="431.90" width="7.76" height="4.07" fill="#ffffff"/>
<rect x="487.87" y="431.90" width="7.76" height="4.07" fill="#ffffff"/>
<rect x="497.22" y="431.90" width="7.76" height="4.07" fill="#ffffff"/>
<rect x="506.58" y="431.90" width="7.76" height="4.07" fill="#4f403c"/>
<rect x="515.93" y="431.90" width="7.76" height="4.07" fill="#4f403c"/>
<rect x="525.29" y="431.90" width="7.76" height="4.07" fill="#4f403c"/>
<rect x="534.64" y="431.90" width="7.76" height="4.07" fill="#4f403c"/>
<rect x="459.80" y="437.57" width="7.76" height="4.07" fill="#ffffff"/>
<rect x="469.16" y="437.57" width="7.76" height="4.07" fill="#ffffff"/>
<rect x="478.51" y="437.57" width="7.76" height="4.07" fill="#ffffff"/>
<rect x="487.87" y="437.57" width="7.76" height="4.07" fill="#ffffff"/>
<rect x="497.22" y="437.57" width="7.76" height="4.07" fill="#ffffff"/>
<rect x="506.58" y="437.57" width="7.76" height="4.07" fill="#4f403c"/>
<rect x="515.93" y="437.57" width="7.76" height="4.07" fill="#4f403c"/>
<rect x="525.29" y="437.57" width="7.76" height="4.07" fill="#4f403c"/>
<rect x="534.64" y="437.57" width="7.76" height="4.07" fill="#4f403c"/>
<rect x="459.80" y="443.25" width="7.76" height="4.07" fill="#ffffff"/>
<rect x="469.16" y="443.25" width="7.76" height="4.07" fill="#ffffff"/>
<rect x="478.51" y="443.25" width="7.76" height="4.07" fill="#ffffff"/>
<rect x="487.87" y="443.25" width="7.76" height="4.07" fill="#ffffff"/>
<rect x="497.22" y="443.25" width="7.76" height="4.07" fill="#ffffff"/>
<rect x="506.58" y="443.25" width="7.76" height="4.07" fill="#4f403c"/>
<rect x="515.93" y="443.25" width="7.76" height="4.07" fill="#4f403c"/>
<rect x="525.29" y="443.25" width="7.76" height="4.07" fill="#4f403c"/>
<rect x="534.64" y="443.25" width="7.76" height="4.07" fill="#4f403c"/>
<rect x="459.80" y="448.92" width="7.76" height="4.07" fill="#ffffff"/>
<rect x="469.16" y="448.92" width="7.76" height="4.07" fill="#ffffff"/>
<rect x="478.51" y="448.92" width="7.76" height="4.07" fill="#ffffff"/>
<rect x="487.87" y="448.92" width="7.76" height="4.07" fill="#ffffff"/>
<rect x="497.22" y="448.92" width="7.76" height="4.07" fill="#ffffff"/>
<rect x="506.58" y="448.92" width="7.76" height="4.07" fill="#4f403c"/>
<rect x="515.93" y="448.92" width="7.76" height="4.07" fill="#4f403c"/>
<rect x="525.29" y="448.92" width="7.76" height="4.07" fill="#4f403c"/>
<rect x="534.64" y="448.92" width="7.76" height="4.07" fill="#4f403c"/>
<rect x="459.80" y="454.60" width="7.76" height="4.07" fill="#ffffff"/>
<rect x="469.16" y="454.60" width="7.76" height="4.07" fill="#ffffff"/>
<rect x="478.51" y="454.60" width="7.76" height="4.07" fill="#ffffff"/>
<rect x="487.87" y="454.60" width="7.76" height="4.07" fill="#ffffff"/>
<rect x="497.22" y="454.60" width="7.76" height="4.07" fill="#ffffff"/>
<rect x="506.58" y="454.60" width="7.76" height="4.07" fill="#4f403c"/>
<rect x="515.93" y="454.60" width="7.76" height="4.07" fill="#4f403c"/>
<rect x="525.29" y="454.60" width="7.76" height="4.07" fill="#4f403c"/>
<rect x="534.64" y="454.60" width="7.76" height="4.07" fill="#4f403c"/>
<rect x="459.80" y="460.27" width="7.76" height="4.07" fill="#ffffff"/>
<rect x="469.16" y="460.27" width="7.76" height="4.07" fill="#ffffff"/>
<rect x="478.51" y="460.27" width="7.76" height="4.07" fill="#ffffff"/>
<rect x="487.87" y="460.27" width="7.76" height="4.07" fill="#ffffff"/>
<rect x="497.22" y="460.27" width="7.76" height="4.07" fill="#ffffff"/>
<rect x="506.58" y="460.27" width="7.76" height="4.07" fill="#4f403c"/>
<rect x="515.93" y="460.27" width="7.76" height="4.07" fill="#4f403c"/>
<rect x="525.29" y="460.27" width="7.76" height="4.07" fill="#4f403c"/>
<rect x="534.64" y="460.27" width="7.76" height="4.07" fill="#4f403c"/>
<rect x="459.80" y="465.94" width="7.76" height="4.07" fill="#ffffff"/>
<rect x="469.16" y="465.94" width="7.76" height="4.07" fill="#ffffff"/>
<rect x="478.51" y="465.94" width="7.76" height="4.07" fill="#ffffff"/>
<rect x="487.87" y="465.94" width="7.76" height="4.07" fill="#ffffff"/>
<rect x="497.22" y="465.94" width="7.76" height="4.07" fill="#ffffff"/>
<rect x="506.58" y="465.94" width="7.76" height="4.07" fill="#4f403c"/>
<rect x="515.93" y="465.94" width="7.76" height="4.07" fill="#4f403c"/>
<rect x="525.29" y="465.94" width="7.76" height="4.07" fill="#4f403c"/>
<rect x="534.64" y="465.94" width="7.76" height="4.07" fill="#ffffff"/>
<rect x="459.80" y="471.62" width="7.76" height="4.07" fill="#ffffff"/>
<rect x="469.16" y="471.62" width="7.76" height="4.07" fill="#ffffff"/>
<rect x="478.51" y="471.62" width="7.76" height="4.07" fill="#ffffff"/>
<rect x="487.87" y="471.62" width="7.76" height="4.07" fill="#ffffff"/>
<rect x="497.22" y="471.62" width="7.76" height="4.07" fill="#ffffff"/>
<rect x="506.58" y="471.62" width="7.76" height="4.07" fill="#4f403c"/>
<rect x="515.93" y="471.62" width="7.76" height="4.07" fill="#4f403c"/>
<rect x="525.29" y="471.62" width="7.76" height="4.07" fill="#4f403c"/>
<rect x="534.64" y="471.62" width="7.76" height="4.07" fill="#4f403c"/>
<rect x="459.80" y="477.29" width="7.76" height="4.07" fill="#ffffff"/>
<rect x="469.16" y="477.29" width="7.76" height="4.07" fill="#ffffff"/>
<rect x="478.51" y="477.29" width="7.76" height="4.07" fill="#ffffff"/>
<rect x="487.87" y="477.29" width="7.76" height="4.07" fill="#ffffff"/>
<rect x="497.22" y="477.29" width="7.76" height="4.07" fill="#ffffff"/>
<rect x="506.58" y="477.29" width="7.76" height="4.07" fill="#4f403c"/>
<rect x="515.93" y="477.29" width="7.76" height="4.07" fill="#4f403c"/>
<rect x="525.29" y="477.29" width="7.76" height="4.07" fill="#4f403c"/>
<rect x="534.64" y="477.29" width="7.76" height="4.07" fill="#4f403c"/>
<rect x="459.80" y="482.97" width="7.76" height="4.07" fill="#ffffff"/>
<rect x="469.16" y="482.97" width="7.76" height="4.07" fill="#ffffff"/>
<rect x="478.51" y="482.97" width="7.76" height="4.07" fill="#ffffff"/>
<rect x="487.87" y="482.97" width="7.76" height="4.07" fill="#ffffff"/>
<rect x="497.22" y="482.97" width="7.76" height="4.07" fill="#ffffff"/>
<rect x="506.58" y="482.97" width="7.76" height="4.07" fill="#4f403c"/>
<rect x="515.93" y="482.97" width="7.76" height="4.07" fill="#4f403c"/>
<rect x="525.29" y="482.97" width="7.76" height="4.07" fill="#4f403c"/>
<rect x="534.64" y="482.97" width="7.76" height="4.07" fill="#4f403c"/>
<rect x="459.80" y="488.64" width="7.76" height="4.07" fill="#ffffff"/>
<rect x="469.16" y="488.64" width="7.76" height="4.07" fill="#ffffff"/>
<rect x="478.51" y="488.64" width="7.76" height="4.07" fill="#ffffff"/>
<rect x="487.87" y="488.64" width="7.76" height="4.07" fill="#ffffff"/>
<rect x="497.22" y="488.64" width="7.76" height="4.07" fill="#ffffff"/>
<rect x="506.58" y="488.64" width="7.76" height="4.07" fill="#4f403c"/>
<rect x="515.93" y="488.64" width="7.76" height="4.07" fill="#4f403c"/>
<rect x="525.29" y="488.64" width="7.76" height="4.07" fill="#4f403c"/>
<rect x="534.64" y="488.64" width="7.76" height="4.07" fill="#4f403c"/>
<rect x="459.80" y="494.31" width="7.76" height="4.07" fill="#ffffff"/>
<rect x="469.16" y="494.31" width="7.76" height="4.07" fill="#ffffff"/>
<rect x="478.51" y="494.31" width="7.76" height="4.07" fill="#ffffff"/>
<rect x="487.87" y="494.31" width="7.76" height="4.07" fill="#ffffff"/>
<rect x="497.22" y="494.31" width="7.76" height="4.07" fill="#4f403c"/>
<rect x="506.58" y="494.31" width="7.76" height="4.07" fill="#4f403c"/>
<rect x="515.93" y="494.31" width="7.76" height="4.07" fill="#4f403c"/>
<rect x="525.29" y="494.31" width="7.76" height="4.07" fill="#4f403c"/>
<rect x="534.64" y="494.31" width="7.76" height="4.07" fill="#4f403c"/>
<rect x="459.80" y="499.99" width="7.76" height="4.07" fill="#ffffff"/>
<rect x="469.16" y="499.99" width="7.76" height="4.07" fill="#ffffff"/>
<rect x="478.51" y="499.99" width="7.76" height="4.07" fill="#ffffff"/>
<rect x="487.87" y="499.99" width="7.76" height="4.07" fill="#ffffff"/>
<rect x="497.22" y="499.99" width="7.76" height="4.07" fill="#4f403c"/>
<rect x="506.58" y="499.99" width="7.76" height="4.07" fill="#4f403c"/>
<rect x="515.93" y="499.99" width="7.76" height="4.07" fill="#4f403c"/>
<rect x="525.29" y="499.99" width="7.76" height="4.07" fill="#4f403c"/>
<rect x="534.64" y="499.99" width="7.76" height="4.07" fill="#4f403c"/>
<rect x="459.80" y="505.66" width="7.76" height="4.07" fill="#ffffff"/>
<rect x="469.16" y="505.66" width="7.76" height="4.07" fill="#ffffff"/>
<rect x="478.51" y="505.66" width="7.76" height="4.07" fill="#ffffff"/>
<rect x="487.87" y="505.66" width="7.76" height="4.07" fill="#ffffff"/>
<rect x="497.22" y="505.66" width="7.76" height="4.07" fill="#4f403c"/>
<rect x="506.58" y="505.66" width="7.76" height="4.07" fill="#4f403c"/>
<rect x="515.93" y="505.66" width="7.76" height="4.07" fill="#4f403c"/>
<rect x="525.29" y="505.66" width="7.76" height="4.07" fill="#4f403c"/>
<rect x="534.64" y="505.66" width="7.76" height="4.07" fill="#4f403c"/>
<rect x="459.80" y="511.34" width="7.76" height="4.07" fill="#ffffff"/>
<rect x="469.16" y="511.34" width="7.76" height="4.07" fill="#ffffff"/>
<rect x="478.51" y="511.34" width="7.76" height="4.07" fill="#ffffff"/>
<rect x="487.87" y="511.34" width="7.76" height="4.07" fill="#ffffff"/>
<rect x="497.22" y="511.34" width="7.76" height="4.07" fill="#4f403c"/>
<rect x="506.58" y="511.34" width="7.76" height="4.07" fill="#4f403c"/>
<rect x="515.93" y="511.34" width="7.76" height="4.07" fill="#4f403c"/>
<rect x="525.29" y="511.34" width="7.76" height="4.07" fill="#4f403c"/>
<rect x="534.64" y="511.34" width="7.76" height="4.07" fill="#4f403c"/>
<rect x="459.80" y="517.01" width="7.76" height="4.07" fill="#ffffff"/>
<rect x="469.16" y="517.01" width="7.76" height="4.07" fill="#ffffff"/>
<rect x="478.51" y="517.01" width="7.76" height="4.07" fill="#ffffff"/>
<rect x="487.87" y="517.01" width="7.76" height="4.07" fill="#ffffff"/>
<rect x="497.22" y="517.01" width="7.76" height="4.07" fill="#4f403c"/>
<rect x="506.58" y="517.01" width="7.76" height="4.07" fill="#4f403c"/>
<rect x="515.93" y="517.01" width="7.76" height="4.07" fill="#4f403c"/>
<rect x="525.29" y="517.01" width="7.76" height="4.07" fill="#4f403c"/>
<rect x="534.64" y="517.01" width="7.76" height="4.07" fill="#4f403c"/>
<rect x="459.80" y="522.68" width="7.76" height="4.07" fill="#ffffff"/>
<rect x="469.16" y="522.68" width="7.76" height="4.07" fill="#ffffff"/>
<rect x="478.51" y="522.68" width="7.76" height="4.07" fill="#ffffff"/>
<rect x="487.87" y="522.68" width="7.76" height="4.07" fill="#ffffff"/>
<rect x="497.22" y="522.68" width="7.76" height="4.07" fill="#4f403c"/>
<rect x="506.58" y="522.68" width="7.76" height="4.07" fill="#4f403c"/>
<rect x="515.93" y="522.68" width="7.76" height="4.07" fill="#4f403c"/>
<rect x="525.29" y="522.68" width="7.76" height="4.07" fill="#4f403c"/>
<rect x="534.64" y="522.68" width="7.76" height="4.07" fill="#4f403c"/>
<rect x="459.80" y="528.36" width="7.76" height="4.07" fill="#ffffff"/>
<rect x="469.16" y="528.36" width="7.76" height="4.07" fill="#ffffff"/>
<rect x="478.51" y="528.36" width="7.76" height="4.07" fill="#ffffff"/>
<rect x="487.87" y="528.36" width="7.76" height="4.07" fill="#ffffff"/>
<rect x="497.22" y="528.36" width="7.76" height="4.07" fill="#4f403c"/>
<rect x="506.58" y="528.36" width="7.76" height="4.07" fill="#4f403c"/>
<rect x="515.93" y="528.36" width="7.76" height="4.07" fill="#4f403c"/>
<rect x="525.29" y="528.36" width="7.76" height="4.07" fill="#4f403c"/>
<rect x="534.64" y="528.36" width="7.76" height="4.07" fill="#4f403c"/>
<rect x="459.80" y="534.03" width="7.76" height="4.07" fill="#ffffff"/>
<rect x="469.16" y="534.03" width="7.76" height="4.07" fill="#ffffff"/>
<rect x="478.51" y="534.03" width="7.76" height="4.07" fill="#ffffff"/>
<rect x="487.87" y="534.03" width="7.76" height="4.07" fill="#ffffff"/>
<rect x="497.22" y="534.03" width="7.76" height="4.07" fill="#4f403c"/>
<rect x="506.58" y="534.03" width="7.76" height="4.07" fill="#4f403c"/>
<rect x="515.93" y="534.03" width="7.76" height="4.07" fill="#4f403c"/>
<rect x="525.29" y="534.03" width="7.76" height="4.07" fill="#4f403c"/>
<rect x="534.64" y="534.03" width="7.76" height="4.07" fill="#4f403c"/>
<rect x="459.80" y="539.70" width="7.76" height="4.07" fill="#ffffff"/>
<rect x="469.16" y="539.70" width="7.76" height="4.07" fill="#ffffff"/>
<rect x="478.51" y="539.70" width="7.76" height="4.07" fill="#ffffff"/>
<rect x="487.87" y="539.70" width="7.76" height="4.07" fill="#ffffff"/>
<rect x="497.22" y="539.70" width="7.76" height="4.07" fill="#4f403c"/>
<rect x="506.58" y="539.70" width="7.76" height="4.07" fill="#4f403c"/>
<rect x="515.93" y="539.70" width="7.76" height="4.07" fill="#4f403c"/>
<rect x="525.29" y="539.70" width="7.76" height="4.07" fill="#4f403c"/>
<rect x="534.64" y="539.70" width="7.76" height="4.07" fill="#4f403c"/>
<rect x="459.80" y="545.38" width="7.76" height="4.07" fill="#ffffff"/>
<rect x="469.16" y="545.38" width="7.76" height="4.07" fill="#ffffff"/>
<rect x="478.51" y="545.38" width="7.76" height="4.07" fill="#ffffff"/>
<rect x="487.87" y="545.38" width="7.76" height="4.07" fill="#4f403c"/>
<rect x="497.22" y="545.38" width="7.76" height="4.07" fill="#4f403c"/>
<rect x="506.58" y="545.38" width="7.76" height="4.07" fill="#4f403c"/>
<rect x="515.93" y="545.38" width="7.76" height="4.07" fill="#4f403c"/>
<rect x="525.29" y="545.38" width="7.76" height="4.07" fill="#4f403c"/>
<rect x="534.64" y="545.38" width="7.76" height="4.07" fill="#4f403c"/>
<rect x="459.80" y="551.05" width="7.76" height="4.07" fill="#ffffff"/>
<rect x="469.16" y="551.05" width="7.76" height="4.07" fill="#ffffff"/>
<rect x="478.51" y="551.05" width="7.76" height="4.07" fill="#ffffff"/>
<rect x="487.87" y="551.05" width="7.76" height="4.07" fill="#4f403c"/>
<rect x="497.22" y="551.05" width="7.76" height="4.07" fill="#4f403c"/>
<rect x="506.58" y="551.05" width="7.76" height="4.07" fill="#4f403c"/>
<rect x="515.93" y="551.05" width="7.76" height="4.07" fill="#4f403c"/>
<rect x="525.29" y="551.05" width="7.76" height="4.07" fill="#4f403c"/>
<rect x="534.64" y="551.05" width="7.76" height="4.07" fill="#4f403c"/>
<rect x="459.80" y="556.73" width="7.76" height="4.07" fill="#ffffff"/>
<rect x="469.16" y="556.73" width="7.76" height="4.07" fill="#4f403c"/>
<rect x="478.51" y="556.73" width="7.76" height="4.07" fill="#4f403c"/>
<rect x="487.87" y="556.73" width="7.76" height="4.07" fill="#4f403c"/>
<rect x="497.22" y="556.73" width="7.76" height="4.07" fill="#4f403c"/>
<rect x="506.58" y="556.73" width="7.76" height="4.07" fill="#4f403c"/>
<rect x="515.93" y="556.73" width="7.76" height="4.07" fill="#4f403c"/>
<rect x="525.29" y="556.73" width="7.76" height="4.07" fill="#4f403c"/>
<rect x="534.64" y="556.73" width="7.76" height="4.07" fill="#4f403c"/>
<rect x="601.30" y="61.50" width="29.20" height="500.90" fill="#878583"/>
<rect x="602.90" y="63.10" width="7.60" height="4.07" fill="#ffffff"/>
<rect x="612.10" y="63.10" width="7.60" height="4.07" fill="#ffffff"/>
<rect x="621.30" y="63.10" width="7.60" height="4.07" fill="#ffffff"/>
<rect x="602.90" y="68.77" width="7.60" height="4.07" fill="#ffffff"/>
<rect x="612.10" y="68.77" width="7.60" height="4.07" fill="#ffffff"/>
<rect x="621.30" y="68.77" width="7.60" height="4.07" fill="#ffffff"/>
<rect x="602.90" y="74.45" width="7.60" height="4.07" fill="#ffffff"/>
<rect x="612.10" y="74.45" width="7.60" height="4.07" fill="#ffffff"/>
<rect x="621.30" y="74.45" width="7.60" height="4.07" fill="#ffffff"/>
<rect x="602.90" y="80.12" width="7.60" height="4.07" fill="#ffffff"/>
<rect x="612.10" y="80.12" width="7.60" height="4.07" fill="#ffffff"/>
<rect x="621.30" y="80.12" width="7.60" height="4.07" fill="#ffffff"/>
<rect x="602.90" y="85.80" width="7.60" height="4.07" fill="#ffffff"/>
<rect x="612.10" y="85.80" width="7.60" height="4.07" fill="#ffffff"/>
<rect x="621.30" y="85.80" width="7.60" height="4.07" fill="#ffffff"/>
<rect x="602.90" y="91.47" width="7.60" height="4.07" fill="#ffffff"/>
<rect x="612.10" y="91.47" width="7.60" height="4.07" fill="#ffffff"/>
<rect x="621.30" y="91.47" width="7.60" height="4.07" fill="#ffffff"/>
<rect x="602.90" y="97.14" width="7.60" height="4.07" fill="#ffffff"/>
<rect x="612.10" y="97.14" width="7.60" height="4.07" fill="#f29423"/>
<rect x="621.30" y="97.14" width="7.60" height="4.07" fill="#f29423"/>
<rect x="602.90" y="102.82" width="7.60" height="4.07" fill="#ffffff"/>
<rect x="612.10" y="102.82" width="7.60" height="4.07" fill="#ffffff"/>
<rect x="621.30" y="102.82" width="7.60" height="4.07" fill="#ffffff"/>
<rect x="602.90" y="108.49" width="7.60" height="4.07" fill="#ffffff"/>
<rect x="612.10" y="108.49" width="7.60" height="4.07" fill="#ffffff"/>
<rect x="621.30" y="108.49" width="7.60" height="4.07" fill="#ffffff"/>
<rect x="602.90" y="114.16" width="7.60" height="4.07" fill="#ffffff"/>
<rect x="612.10" y="114.16" width="7.60" height="4.07" fill="#ffffff"/>
<rect x="621.30" y="114.16" width="7.60" height="4.07" fill="#ffffff"/>
<rect x="602.90" y="119.84" width="7.60" height="4.07" fill="#ffffff"/>
<rect x="612.10" y="119.84" width="7.60" height="4.07" fill="#ffffff"/>
<rect x="621.30" y="119.84" width="7.60" height="4.07" fill="#ffffff"/>
<rect x="602.90" y="125.51" width="7.60" height="4.07" fill="#ffffff"/>
<rect x="612.10" y="125.51" width="7.60" height="4.07" fill="#ffffff"/>
<rect x="621.30" y="125.51" width="7.60" height="4.07" fill="#ffffff"/>
<rect x="602.90" y="131.19" width="7.60" height="4.07" fill="#ffffff"/>
<rect x="612.10" y="131.19" width="7.60" height="4.07" fill="#ffffff"/>
<rect x="621.30" y="131.19" width="7.60" height="4.07" fill="#ffffff"/>
<rect x="602.90" y="136.86" width="7.60" height="4.07" fill="#ffffff"/>
<rect x="612.10" y="136.86" width="7.60" height="4.07" fill="#f29423"/>
<rect x="621.30" y="136.86" width="7.60" height="4.07" fill="#f29423"/>
<rect x="602.90" y="142.53" width="7.60" height="4.07" fill="#ffffff"/>
<rect x="612.10" y="142.53" width="7.60" height="4.07" fill="#f29423"/>
<rect x="621.30" y="142.53" width="7.60" height="4.07" fill="#f29423"/>
<rect x="602.90" y="148.21" width="7.60" height="4.07" fill="#ffffff"/>
<rect x="612.10" y="148.21" width="7.60" height="4.07" fill="#f29423"/>
<rect x="621.30" y="148.21" width="7.60" height="4.07" fill="#ffffff"/>
<rect x="602.90" y="153.88" width="7.60" height="4.07" fill="#ffffff"/>
<rect x="612.10" y="153.88" width="7.60" height="4.07" fill="#f29423"/>
<rect x="621.30" y="153.88" width="7.60" height="4.07" fill="#ffffff"/>
<rect x="602.90" y="159.56" width="7.60" height="4.07" fill="#ffffff"/>
<rect x="612.10" y="159.56" width="7.60" height="4.07" fill="#f29423"/>
<rect x="621.30" y="159.56" width="7.60" height="4.07" fill="#ffffff"/>
<rect x="602.90" y="165.23" width="7.60" height="4.07" fill="#ffffff"/>
<rect x="612.10" y="165.23" width="7.60" height="4.07" fill="#ffffff"/>
<rect x="621.30" y="165.23" width="7.60" height="4.07" fill="#f29423"/>
<rect x="602.90" y="170.90" width="7.60" height="4.07" fill="#ffffff"/>
<rect x="612.10" y="170.90" width="7.60" height="4.07" fill="#ffffff"/>
<rect x="621.30" y="170.90" width="7.60" height="4.07" fill="#f29423"/>
<rect x="602.90" y="176.58" width="7.60" height="4.07" fill="#ffffff"/>
<rect x="612.10" y="176.58" width="7.60" height="4.07" fill="#ffffff"/>
<rect x="621.30" y="176.58" width="7.60" height="4.07" fill="#ffffff"/>
<rect x="602.90" y="182.25" width="7.60" height="4.07" fill="#ffffff"/>
<rect x="612.10" y="182.25" width="7.60" height="4.07" fill="#ffffff"/>
<rect x="621.30" y="182.25" width="7.60" height="4.07" fill="#ffffff"/>
<rect x="602.90" y="187.92" width="7.60" height="4.07" fill="#ffffff"/>
<rect x="612.10" y="187.92" width="7.60" height="4.07" fill="#ffffff"/>
<rect x="621.30" y="187.92" width="7.60" height="4.07" fill="#ffffff"/>
<rect x="602.90" y="193.60" width="7.60" height="4.07" fill="#ffffff"/>
<rect x="612.10" y="193.60" width="7.60" height="4.07" fill="#ffffff"/>
<rect x="621.30" y="193.60" width="7.60" height="4.07" fill="#ffffff"/>
<rect x="602.90" y="199.27" width="7.60" height="4.07" fill="#ffffff"/>
<rect x="612.10" y="199.27" width="7.60" height="4.07" fill="#ffffff"/>
<rect x="621.30" y="199.27" width="7.60" height="4.07" fill="#ffffff"/>
<rect x="602.90" y="204.95" width="7.60" height="4.07" fill="#ffffff"/>
<rect x="612.10" y="204.95" width="7.60" height="4.07" fill="#ffffff"/>
<rect x="621.30" y="204.95" width="7.60" height="4.07" fill="#ffffff"/>
<rect x="602.90" y="210.62" width="7.60" height="4.07" fill="#ffffff"/>
<rect x="612.10" y="210.62" width="7.60" height="4.07" fill="#ffffff"/>
<rect x="621.30" y="210.62" width="7.60" height="4.07" fill="#ffffff"/>
<rect x="602.90" y="216.29" width="7.60" height="4.07" fill="#ffffff"/>
<rect x="612.10" y="216.29" width="7.60" height="4.07" fill="#ffffff"/>
<rect x="621.30" y="216.29" width="7.60" height="4.07" fill="#ffffff"/>
<rect x="602.90" y="221.97" width="7.60" height="4.07" fill="#ffffff"/>
<rect x="612.10" y="221.97" width="7.60" height="4.07" fill="#ffffff"/>
<rect x="621.30" y="221.97" width="7.60" height="4.07" fill="#ffffff"/>
<rect x="602.90" y="227.64" width="7.60" height="4.07" fill="#ffffff"/>
<rect x="612.10" y="227.64" width="7.60" height="4.07" fill="#ffffff"/>
<rect x="621.30" y="227.64" width="7.60" height="4.07" fill="#ffffff"/>
<rect x="602.90" y="233.32" width="7.60" height="4.07" fill="#ffffff"/>
<rect x="612.10" y="233.32" width="7.60" height="4.07" fill="#f29423"/>
<rect x="621.30" y="233.32" width="7.60" height="4.07" fill="#f29423"/>
<rect x="602.90" y="238.99" width="7.60" height="4.07" fill="#ffffff"/>
<rect x="612.10" y="238.99" width="7.60" height="4.07" fill="#f29423"/>
<rect x="621.30" y="238.99" width="7.60" height="4.07" fill="#f29423"/>
<rect x="602.90" y="244.66" width="7.60" height="4.07" fill="#ffffff"/>
<rect x="612.10" y="244.66" width="7.60" height="4.07" fill="#ffffff"/>
<rect x="621.30" y="244.66" width="7.60" height="4.07" fill="#ffffff"/>
<rect x="602.90" y="250.34" width="7.60" height="4.07" fill="#ffffff"/>
<rect x="612.10" y="250.34" width="7.60" height="4.07" fill="#ffffff"/>
<rect x="621.30" y="250.34" width="7.60" height="4.07" fill="#f29423"/>
<rect x="602.90" y="256.01" width="7.60" height="4.07" fill="#ffffff"/>
<rect x="612.10" y="256.01" width="7.60" height="4.07" fill="#ffffff"/>
<rect x="621.30" y="256.01" width="7.60" height="4.07" fill="#ffffff"/>
<rect x="602.90" y="261.69" width="7.60" height="4.07" fill="#ffffff"/>
<rect x="612.10" y="261.69" width="7.60" height="4.07" fill="#ffffff"/>
<rect x="621.30" y="261.69" width="7.60" height="4.07" fill="#ffffff"/>
<rect x="602.90" y="267.36" width="7.60" height="4.07" fill="#ffffff"/>
<rect x="612.10" y="267.36" width="7.60" height="4.07" fill="#ffffff"/>
<rect x="621.30" y="267.36" width="7.60" height="4.07" fill="#ffffff"/>
<rect x="602.90" y="273.03" width="7.60" height="4.07" fill="#ffffff"/>
<rect x="612.10" y="273.03" width="7.60" height="4.07" fill="#ffffff"/>
<rect x="621.30" y="273.03" width="7.60" height="4.07" fill="#ffffff"/>
<rect x="602.90" y="278.71" width="7.60" height="4.07" fill="#ffffff"/>
<rect x="612.10" y="278.71" width="7.60" height="4.07" fill="#ffffff"/>
<rect x="621.30" y="278.71" width="7.60" height="4.07" fill="#ffffff"/>
<rect x="602.90" y="284.38" width="7.60" height="4.07" fill="#ffffff"/>
<rect x="612.10" y="284.38" width="7.60" height="4.07" fill="#ffffff"/>
<rect x="621.30" y="284.38" width="7.60" height="4.07" fill="#ffffff"/>
<rect x="602.90" y="290.05" width="7.60" height="4.07" fill="#ffffff"/>
<rect x="612.10" y="290.05" width="7.60" height="4.07" fill="#ffffff"/>
<rect x="621.30" y="290.05" width="7.60" height="4.07" fill="#ffffff"/>
<rect x="602.90" y="295.73" width="7.60" height="4.07" fill="#ffffff"/>
<rect x="612.10" y="295.73" width="7.60" height="4.07" fill="#ffffff"/>
<rect x="621.30" y="295.73" width="7.60" height="4.07" fill="#ffffff"/>
<rect x="602.90" y="301.40" width="7.60" height="4.07" fill="#ffffff"/>
<rect x="612.10" y="301.40" width="7.60" height="4.07" fill="#f29423"/>
<rect x="621.30" y="301.40" width="7.60" height="4.07" fill="#f29423"/>
<rect x="602.90" y="307.08" width="7.60" height="4.07" fill="#ffffff"/>
<rect x="612.10" y="307.08" width="7.60" height="4.07" fill="#ffffff"/>
<rect x="621.30" y="307.08" width="7.60" height="4.07" fill="#ffffff"/>
<rect x="602.90" y="312.75" width="7.60" height="4.07" fill="#ffffff"/>
<rect x="612.10" y="312.75" width="7.60" height="4.07" fill="#ffffff"/>
<rect x="621.30" y="312.75" width="7.60" height="4.07" fill="#ffffff"/>
<rect x="602.90" y="318.42" width="7.60" height="4.07" fill="#ffffff"/>
<rect x="612.10" y="318.42" width="7.60" height="4.07" fill="#ffffff"/>
<rect x="621.30" y="318.42" width="7.60" height="4.07" fill="#ffffff"/>
<rect x="602.90" y="324.10" width="7.60" height="4.07" fill="#ffffff"/>
<rect x="612.10" y="324.10" width="7.60" height="4.07" fill="#ffffff"/>
<rect x="621.30" y="324.10" width="7.60" height="4.07" fill="#ffffff"/>
<rect x="602.90" y="329.77" width="7.60" height="4.07" fill="#ffffff"/>
<rect x="612.10" y="329.77" width="7.60" height="4.07" fill="#ffffff"/>
<rect x="621.30" y="329.77" width="7.60" height="4.07" fill="#ffffff"/>
<rect x="602.90" y="335.45" width="7.60" height="4.07" fill="#ffffff"/>
<rect x="612.10" y="335.45" width="7.60" height="4.07" fill="#ffffff"/>
<rect x="621.30" y="335.45" width="7.60" height="4.07" fill="#ffffff"/>
<rect x="602.90" y="341.12" width="7.60" height="4.07" fill="#ffffff"/>
<rect x="612.10" y="341.12" width="7.60" height="4.07" fill="#ffffff"/>
<rect x="621.30" y="341.12" width="7.60" height="4.07" fill="#ffffff"/>
<rect x="602.90" y="346.79" width="7.60" height="4.07" fill="#ffffff"/>
<rect x="612.10" y="346.79" width="7.60" height="4.07" fill="#ffffff"/>
<rect x="621.30" y="346.79" width="7.60" height="4.07" fill="#ffffff"/>
<rect x="602.90" y="352.47" width="7.60" height="4.07" fill="#ffffff"/>
<rect x="612.10" y="352.47" width="7.60" height="4.07" fill="#ffffff"/>
<rect x="621.30" y="352.47" width="7.60" height="4.07" fill="#ffffff"/>
<rect x="602.90" y="358.14" width="7.60" height="4.07" fill="#ffffff"/>
<rect x="612.10" y="358.14" width="7.60" height="4.07" fill="#ffffff"/>
<rect x="621.30" y="358.14" width="7.60" height="4.07" fill="#f29423"/>
<rect x="602.90" y="363.81" width="7.60" height="4.07" fill="#ffffff"/>
<rect x="612.10" y="363.81" width="7.60" height="4.07" fill="#f29423"/>
<rect x="621.30" y="363.81" width="7.60" height="4.07" fill="#f29423"/>
<rect x="602.90" y="369.49" width="7.60" height="4.07" fill="#ffffff"/>
<rect x="612.10" y="369.49" width="7.60" height="4.07" fill="#f29423"/>
<rect x="621.30" y="369.49" width="7.60" height="4.07" fill="#f29423"/>
<rect x="602.90" y="375.16" width="7.60" height="4.07" fill="#ffffff"/>
<rect x="612.10" y="375.16" width="7.60" height="4.07" fill="#f29423"/>
<rect x="621.30" y="375.16" width="7.60" height="4.07" fill="#f29423"/>
<rect x="602.90" y="380.84" width="7.60" height="4.07" fill="#ffffff"/>
<rect x="612.10" y="380.84" width="7.60" height="4.07" fill="#ffffff"/>
<rect x="621.30" y="380.84" width="7.60" height="4.07" fill="#f29423"/>
<rect x="602.90" y="386.51" width="7.60" height="4.07" fill="#ffffff"/>
<rect x="612.10" y="386.51" width="7.60" height="4.07" fill="#ffffff"/>
<rect x="621.30" y="386.51" width="7.60" height="4.07" fill="#ffffff"/>
<rect x="602.90" y="392.18" width="7.60" height="4.07" fill="#ffffff"/>
<rect x="612.10" y="392.18" width="7.60" height="4.07" fill="#ffffff"/>
<rect x="621.30" y="392.18" width="7.60" height="4.07" fill="#ffffff"/>
<rect x="602.90" y="397.86" width="7.60" height="4.07" fill="#ffffff"/>
<rect x="612.10" y="397.86" width="7.60" height="4.07" fill="#ffffff"/>
<rect x="621.30" y="397.86" width="7.60" height="4.07" fill="#ffffff"/>
<rect x="602.90" y="403.53" width="7.60" height="4.07" fill="#ffffff"/>
<rect x="612.10" y="403.53" width="7.60" height="4.07" fill="#ffffff"/>
<rect x="621.30" y="403.53" width="7.60" height="4.07" fill="#ffffff"/>
<rect x="602.90" y="409.21" width="7.60" height="4.07" fill="#ffffff"/>
<rect x="612.10" y="409.21" width="7.60" height="4.07" fill="#f29423"/>
<rect x="621.30" y="409.21" width="7.60" height="4.07" fill="#f29423"/>
<rect x="602.90" y="414.88" width="7.60" height="4.07" fill="#ffffff"/>
<rect x="612.10" y="414.88" width="7.60" height="4.07" fill="#f29423"/>
<rect x="621.30" y="414.88" width="7.60" height="4.07" fill="#f29423"/>
<rect x="602.90" y="420.55" width="7.60" height="4.07" fill="#ffffff"/>
<rect x="612.10" y="420.55" width="7.60" height="4.07" fill="#f29423"/>
<rect x="621.30" y="420.55" width="7.60" height="4.07" fill="#f29423"/>
<rect x="602.90" y="426.23" width="7.60" height="4.07" fill="#ffffff"/>
<rect x="612.10" y="426.23" width="7.60" height="4.07" fill="#f29423"/>
<rect x="621.30" y="426.23" width="7.60" height="4.07" fill="#f29423"/>
<rect x="602.90" y="431.90" width="7.60" height="4.07" fill="#ffffff"/>
<rect x="612.10" y="431.90" width="7.60" height="4.07" fill="#f29423"/>
<rect x="621.30" y="431.90" width="7.60" height="4.07" fill="#ffffff"/>
<rect x="602.90" y="437.57" width="7.60" height="4.07" fill="#ffffff"/>
<rect x="612.10" y="437.57" width="7.60" height="4.07" fill="#f29423"/>
<rect x="621.30" y="437.57" width="7.60" height="4.07" fill="#f29423"/>
<rect x="602.90" y="443.25" width="7.60" height="4.07" fill="#ffffff"/>
<rect x="612.10" y="443.25" width="7.60" height="4.07" fill="#f29423"/>
<rect x="621.30" y="443.25" width="7.60" height="4.07" fill="#ffffff"/>
<rect x="602.90" y="448.92" width="7.60" height="4.07" fill="#ffffff"/>
<rect x="612.10" y="448.92" width="7.60" height="4.07" fill="#ffffff"/>
<rect x="621.30" y="448.92" width="7.60" height="4.07" fill="#f29423"/>
<rect x="602.90" y="454.60" width="7.60" height="4.07" fill="#ffffff"/>
<rect x="612.10" y="454.60" width="7.60" height="4.07" fill="#ffffff"/>
<rect x="621.30" y="454.60" width="7.60" height="4.07" fill="#ffffff"/>
<rect x="602.90" y="460.27" width="7.60" height="4.07" fill="#ffffff"/>
<rect x="612.10" y="460.27" width="7.60" height="4.07" fill="#ffffff"/>
<rect x="621.30" y="460.27" width="7.60" height="4.07" fill="#ffffff"/>
<rect x="602.90" y="465.94" width="7.60" height="4.07" fill="#ffffff"/>
<rect x="612.10" y="465.94" width="7.60" height="4.07" fill="#ffffff"/>
<rect x="621.30" y="465.94" width="7.60" height="4.07" fill="#ffffff"/>
<rect x="602.90" y="471.62" width="7.60" height="4.07" fill="#ffffff"/>
<rect x="612.10" y="471.62" width="7.60" height="4.07" fill="#ffffff"/>
<rect x="621.30" y="471.62" width="7.60" height="4.07" fill="#f29423"/>
<rect x="602.90" y="477.29" width="7.60" height="4.07" fill="#ffffff"/>
<rect x="612.10" y="477.29" width="7.60" height="4.07" fill="#ffffff"/>
<rect x="621.30" y="477.29" width="7.60" height="4.07" fill="#ffffff"/>
<rect x="602.90" y="482.97" width="7.60" height="4.07" fill="#ffffff"/>
<rect x="612.10" y="482.97" width="7.60" height="4.07" fill="#ffffff"/>
<rect x="621.30" y="482.97" width="7.60" height="4.07" fill="#ffffff"/>
<rect x="602.90" y="488.64" width="7.60" height="4.07" fill="#ffffff"/>
<rect x="612.10" y="488.64" width="7.60" height="4.07" fill="#ffffff"/>
<rect x="621.30" y="488.64" width="7.60" height="4.07" fill="#ffffff"/>
<rect x="602.90" y="494.31" width="7.60" height="4.07" fill="#ffffff"/>
<rect x="612.10" y="494.31" width="7.60" height="4.07" fill="#ffffff"/>
<rect x="621.30" y="494.31" width="7.60" height="4.07" fill="#ffffff"/>
<rect x="602.90" y="499.99" width="7.60" height="4.07" fill="#ffffff"/>
<rect x="612.10" y="499.99" width="7.60" height="4.07" fill="#f29423"/>
<rect x="621.30" y="499.99" width="7.60" height="4.07" fill="#ffffff"/>
<rect x="602.90" y="505.66" width="7.60" height="4.07" fill="#ffffff"/>
<rect x="612.10" y="505.66" width="7.60" height="4.07" fill="#ffffff"/>
<rect x="621.30" y="505.66" width="7.60" height="4.07" fill="#ffffff"/>
<rect x="602.90" y="511.34" width="7.60" height="4.07" fill="#ffffff"/>
<rect x="612.10" y="511.34" width="7.60" height="4.07" fill="#f29423"/>
<rect x="621.30" y="511.34" width="7.60" height="4.07" fill="#ffffff"/>
<rect x="602.90" y="517.01" width="7.60" height="4.07" fill="#ffffff"/>
<rect x="612.10" y="517.01" width="7.60" height="4.07" fill="#ffffff"/>
<rect x="621.30" y="517.01" width="7.60" height="4.07" fill="#ffffff"/>
<rect x="602.90" y="522.68" width="7.60" height="4.07" fill="#ffffff"/>
<rect x="612.10" y="522.68" width="7.60" height="4.07" fill="#ffffff"/>
<rect x="621.30" y="522.68" width="7.60" height="4.07" fill="#ffffff"/>
<rect x="602.90" y="528.36" width="7.60" height="4.07" fill="#ffffff"/>
<rect x="612.10" y="528.36" width="7.60" height="4.07" fill="#ffffff"/>
<rect x="621.30" y="528.36" width="7.60" height="4.07" fill="#ffffff"/>
<rect x="602.90" y="534.03" width="7.60" height="4.07" fill="#ffffff"/>
<rect x="612.10" y="534.03" width="7.60" height="4.07" fill="#f29423"/>
<rect x="621.30" y="534.03" width="7.60" height="4.07" fill="#f29423"/>
<rect x="602.90" y="539.70" width="7.60" height="4.07" fill="#ffffff"/>
<rect x="612.10" y="539.70" width="7.60" height="4.07" fill="#ffffff"/>
<rect x="621.30" y="539.70" width="7.60" height="4.07" fill="#ffffff"/>
<rect x="602.90" y="545.38" width="7.60" height="4.07" fill="#ffffff"/>
<rect x="612.10" y="545.38" width="7.60" height="4.07" fill="#ffffff"/>
<rect x="621.30" y="545.38" width="7.60" height="4.07" fill="#ffffff"/>
<rect x="602.90" y="551.05" width="7.60" height="4.07" fill="#ffffff"/>
<rect x="612.10" y="551.05" width="7.60" height="4.07" fill="#ffffff"/>
<rect x="621.30" y="551.05" width="7.60" height="4.07" fill="#ffffff"/>
<rect x="602.90" y="556.73" width="7.60" height="4.07" fill="#ffffff"/>
<rect x="612.10" y="556.73" width="7.60" height="4.07" fill="#ffffff"/>
<rect x="621.30" y="556.73" width="7.60" height="4.07" fill="#ffffff"/>
<g font-size="5.2" fill="#111" stroke="#111" stroke-width="0.2">
<text transform="translate(555.30,66.50) rotate(0.05)">Rv3814c</text>
<text transform="translate(555.30,72.19) rotate(0.05)">Rv1117</text>
<text transform="translate(555.30,77.87) rotate(0.05)">Rv1793</text>
<text transform="translate(555.30,83.56) rotate(0.05)">Rv1595</text>
<text transform="translate(555.30,89.25) rotate(0.05)">Rv1156</text>
<text transform="translate(555.30,94.94) rotate(0.05)">Rv3197</text>
<text transform="translate(555.30,100.62) rotate(0.05)">Rv1893</text>
<text transform="translate(555.30,106.31) rotate(0.05)">Rv3842c</text>
<text transform="translate(555.30,112.00) rotate(0.05)">Rv1860</text>
<text transform="translate(555.30,117.68) rotate(0.05)">Rv1523</text>
<text transform="translate(555.30,123.37) rotate(0.05)">Rv3554</text>
<text transform="translate(555.30,129.06) rotate(0.05)">Rv2058c</text>
<text transform="translate(555.30,134.74) rotate(0.05)">Rv2455c</text>
<text transform="translate(555.30,140.43) rotate(0.05)">Rv2949c</text>
<text transform="translate(555.30,146.12) rotate(0.05)">Rv3804c</text>
<text transform="translate(555.30,151.81) rotate(0.05)">Rv3614c</text>
<text transform="translate(555.30,157.49) rotate(0.05)">Rv3460c</text>
<text transform="translate(555.30,163.18) rotate(0.05)">Rv2150c</text>
<text transform="translate(555.30,168.87) rotate(0.05)">Rv3150</text>
<text transform="translate(555.30,174.55) rotate(0.05)">Rv0979A</text>
<text transform="translate(555.30,180.24) rotate(0.05)">Rv1880c</text>
<text transform="translate(555.30,185.93) rotate(0.05)">Rv3859c</text>
<text transform="translate(555.30,191.61) rotate(0.05)">Rv2454c</text>
<text transform="translate(555.30,197.30) rotate(0.05)">Rv2524c</text>
<text transform="translate(555.30,202.99) rotate(0.05)">Rv3048c</text>
<text transform="translate(555.30,208.68) rotate(0.05)">Rv2271</text>
<text transform="translate(555.30,214.36) rotate(0.05)">Rv2931</text>
<text transform="translate(555.30,220.05) rotate(0.05)">Rv3161c</text>
<text transform="translate(555.30,225.74) rotate(0.05)">Rv1162</text>
<text transform="translate(555.30,231.42) rotate(0.05)">Rv0046c</text>
<text transform="translate(555.30,237.11) rotate(0.05)">Rv2442c</text>
<text transform="translate(555.30,242.80) rotate(0.05)">Rv0337c</text>
<text transform="translate(555.30,248.48) rotate(0.05)">Rv0423c</text>
<text transform="translate(555.30,254.17) rotate(0.05)">Rv1475c</text>
<text transform="translate(555.30,259.86) rotate(0.05)">Rv2714</text>
<text transform="translate(555.30,265.55) rotate(0.05)">Rv2247</text>
<text transform="translate(555.30,271.23) rotate(0.05)">Rv2457c</text>
<text transform="translate(555.30,276.92) rotate(0.05)">Rv2927c</text>
<text transform="translate(555.30,282.61) rotate(0.05)">Rv3825c</text>
<text transform="translate(555.30,288.29) rotate(0.05)">Rv1110</text>
<text transform="translate(555.30,293.98) rotate(0.05)">Rv0252</text>
<text transform="translate(555.30,299.67) rotate(0.05)">Rv1192</text>
<text transform="translate(555.30,305.35) rotate(0.05)">Rv2412</text>
<text transform="translate(555.30,311.04) rotate(0.05)">Rv3858c</text>
<text transform="translate(555.30,316.73) rotate(0.05)">Rv2703</text>
<text transform="translate(555.30,322.42) rotate(0.05)">Rv2868c</text>
<text transform="translate(555.30,328.10) rotate(0.05)">Rv1489</text>
<text transform="translate(555.30,333.79) rotate(0.05)">Rv3049c</text>
<text transform="translate(555.30,339.48) rotate(0.05)">Rv0129c</text>
<text transform="translate(555.30,345.16) rotate(0.05)">Rv3587c</text>
<text transform="translate(555.30,350.85) rotate(0.05)">Rv2428</text>
<text transform="translate(555.30,356.54) rotate(0.05)">Rv3890c</text>
<text transform="translate(555.30,362.22) rotate(0.05)">Rv3891c</text>
<text transform="translate(555.30,367.91) rotate(0.05)">Rv2950c</text>
<text transform="translate(555.30,373.60) rotate(0.05)">Rv0715</text>
<text transform="translate(555.30,379.29) rotate(0.05)">Rv2909c</text>
<text transform="translate(555.30,384.97) rotate(0.05)">Rv3153</text>
<text transform="translate(555.30,390.66) rotate(0.05)">Rv3213c</text>
<text transform="translate(555.30,396.35) rotate(0.05)">Rv0511</text>
<text transform="translate(555.30,402.03) rotate(0.05)">Rv0810c</text>
<text transform="translate(555.30,407.72) rotate(0.05)">Rv0103c</text>
<text transform="translate(555.30,413.41) rotate(0.05)">Rv0174</text>
<text transform="translate(555.30,419.09) rotate(0.05)">Rv0166</text>
<text transform="translate(555.30,424.78) rotate(0.05)">Rv2441c</text>
<text transform="translate(555.30,430.47) rotate(0.05)">Rv0705</text>
<text transform="translate(555.30,436.16) rotate(0.05)">Rv3824c</text>
<text transform="translate(555.30,441.84) rotate(0.05)">Rv3198A</text>
<text transform="translate(555.30,447.53) rotate(0.05)">Rv2988c</text>
<text transform="translate(555.30,453.22) rotate(0.05)">Rv3151</text>
<text transform="translate(555.30,458.90) rotate(0.05)">Rv3818</text>
<text transform="translate(555.30,464.59) rotate(0.05)">Rv2124c</text>
<text transform="translate(555.30,470.28) rotate(0.05)">Rv2007c</text>
<text transform="translate(555.30,475.96) rotate(0.05)">Rv0108c</text>
<text transform="translate(555.30,481.65) rotate(0.05)">Rv3407</text>
<text transform="translate(555.30,487.34) rotate(0.05)">Rv3038c</text>
<text transform="translate(555.30,493.03) rotate(0.05)">Rv2346c</text>
<text transform="translate(555.30,498.71) rotate(0.05)">Rv2392</text>
<text transform="translate(555.30,504.40) rotate(0.05)">Rv1182</text>
<text transform="translate(555.30,510.09) rotate(0.05)">Rv3615c</text>
<text transform="translate(555.30,515.77) rotate(0.05)">Rv0502</text>
<text transform="translate(555.30,521.46) rotate(0.05)">Rv0073</text>
<text transform="translate(555.30,527.15) rotate(0.05)">Rv3616c</text>
<text transform="translate(555.30,532.83) rotate(0.05)">Rv3080c</text>
<text transform="translate(555.30,538.52) rotate(0.05)">Rv1175c</text>
<text transform="translate(555.30,544.21) rotate(0.05)">Rv1594</text>
<text transform="translate(555.30,549.89) rotate(0.05)">Rv1177</text>
<text transform="translate(555.30,555.58) rotate(0.05)">Rv1013</text>
<text transform="translate(555.30,561.27) rotate(0.05)">Rv1825</text>
</g>
<g font-size="5.2" fill="#111" stroke="#111" stroke-width="0.2">
<text transform="translate(641.70,66.50) rotate(0.05)">Rv3814c</text>
<text transform="translate(641.70,72.19) rotate(0.05)">Rv1117</text>
<text transform="translate(641.70,77.87) rotate(0.05)">Rv1793</text>
<text transform="translate(641.70,83.56) rotate(0.05)">Rv1595</text>
<text transform="translate(641.70,89.25) rotate(0.05)">Rv1156</text>
<text transform="translate(641.70,94.94) rotate(0.05)">Rv3197</text>
<text transform="translate(641.70,100.62) rotate(0.05)">Rv1893</text>
<text transform="translate(641.70,106.31) rotate(0.05)">Rv3842c</text>
<text transform="translate(641.70,112.00) rotate(0.05)">Rv1860</text>
<text transform="translate(641.70,117.68) rotate(0.05)">Rv1523</text>
<text transform="translate(641.70,123.37) rotate(0.05)">Rv3554</text>
<text transform="translate(641.70,129.06) rotate(0.05)">Rv2058c</text>
<text transform="translate(641.70,134.74) rotate(0.05)">Rv2455c</text>
<text transform="translate(641.70,140.43) rotate(0.05)">Rv2949c</text>
<text transform="translate(641.70,146.12) rotate(0.05)">Rv3804c</text>
<text transform="translate(641.70,151.81) rotate(0.05)">Rv3614c</text>
<text transform="translate(641.70,157.49) rotate(0.05)">Rv3460c</text>
<text transform="translate(641.70,163.18) rotate(0.05)">Rv2150c</text>
<text transform="translate(641.70,168.87) rotate(0.05)">Rv3150</text>
<text transform="translate(641.70,174.55) rotate(0.05)">Rv0979A</text>
<text transform="translate(641.70,180.24) rotate(0.05)">Rv1880c</text>
<text transform="translate(641.70,185.93) rotate(0.05)">Rv3859c</text>
<text transform="translate(641.70,191.61) rotate(0.05)">Rv2454c</text>
<text transform="translate(641.70,197.30) rotate(0.05)">Rv2524c</text>
<text transform="translate(641.70,202.99) rotate(0.05)">Rv3048c</text>
<text transform="translate(641.70,208.68) rotate(0.05)">Rv2271</text>
<text transform="translate(641.70,214.36) rotate(0.05)">Rv2931</text>
<text transform="translate(641.70,220.05) rotate(0.05)">Rv3161c</text>
<text transform="translate(641.70,225.74) rotate(0.05)">Rv1162</text>
<text transform="translate(641.70,231.42) rotate(0.05)">Rv0046c</text>
<text transform="translate(641.70,237.11) rotate(0.05)">Rv2442c</text>
<text transform="translate(641.70,242.80) rotate(0.05)">Rv0337c</text>
<text transform="translate(641.70,248.48) rotate(0.05)">Rv0423c</text>
<text transform="translate(641.70,254.17) rotate(0.05)">Rv1475c</text>
<text transform="translate(641.70,259.86) rotate(0.05)">Rv2714</text>
<text transform="translate(641.70,265.55) rotate(0.05)">Rv2247</text>
<text transform="translate(641.70,271.23) rotate(0.05)">Rv2457c</text>
<text transform="translate(641.70,276.92) rotate(0.05)">Rv2927c</text>
<text transform="translate(641.70,282.61) rotate(0.05)">Rv3825c</text>
<text transform="translate(641.70,288.29) rotate(0.05)">Rv1110</text>
<text transform="translate(641.70,293.98) rotate(0.05)">Rv0252</text>
<text transform="translate(641.70,299.67) rotate(0.05)">Rv1192</text>
<text transform="translate(641.70,305.35) rotate(0.05)">Rv2412</text>
<text transform="translate(641.70,311.04) rotate(0.05)">Rv3858c</text>
<text transform="translate(641.70,316.73) rotate(0.05)">Rv2703</text>
<text transform="translate(641.70,322.42) rotate(0.05)">Rv2868c</text>
<text transform="translate(641.70,328.10) rotate(0.05)">Rv1489</text>
<text transform="translate(641.70,333.79) rotate(0.05)">Rv3049c</text>
<text transform="translate(641.70,339.48) rotate(0.05)">Rv0129c</text>
<text transform="translate(641.70,345.16) rotate(0.05)">Rv3587c</text>
<text transform="translate(641.70,350.85) rotate(0.05)">Rv2428</text>
<text transform="translate(641.70,356.54) rotate(0.05)">Rv3890c</text>
<text transform="translate(641.70,362.22) rotate(0.05)">Rv3891c</text>
<text transform="translate(641.70,367.91) rotate(0.05)">Rv2950c</text>
<text transform="translate(641.70,373.60) rotate(0.05)">Rv0715</text>
<text transform="translate(641.70,379.29) rotate(0.05)">Rv2909c</text>
<text transform="translate(641.70,384.97) rotate(0.05)">Rv3153</text>
<text transform="translate(641.70,390.66) rotate(0.05)">Rv3213c</text>
<text transform="translate(641.70,396.35) rotate(0.05)">Rv0511</text>
<text transform="translate(641.70,402.03) rotate(0.05)">Rv0810c</text>
<text transform="translate(641.70,407.72) rotate(0.05)">Rv0103c</text>
<text transform="translate(641.70,413.41) rotate(0.05)">Rv0174</text>
<text transform="translate(641.70,419.09) rotate(0.05)">Rv0166</text>
<text transform="translate(641.70,424.78) rotate(0.05)">Rv2441c</text>
<text transform="translate(641.70,430.47) rotate(0.05)">Rv0705</text>
<text transform="translate(641.70,436.16) rotate(0.05)">Rv3824c</text>
<text transform="translate(641.70,441.84) rotate(0.05)">Rv3198A</text>
<text transform="translate(641.70,447.53) rotate(0.05)">Rv2988c</text>
<text transform="translate(641.70,453.22) rotate(0.05)">Rv3151</text>
<text transform="translate(641.70,458.90) rotate(0.05)">Rv3818</text>
<text transform="translate(641.70,464.59) rotate(0.05)">Rv2124c</text>
<text transform="translate(641.70,470.28) rotate(0.05)">Rv2007c</text>
<text transform="translate(641.70,475.96) rotate(0.05)">Rv0108c</text>
<text transform="translate(641.70,481.65) rotate(0.05)">Rv3407</text>
<text transform="translate(641.70,487.34) rotate(0.05)">Rv3038c</text>
<text transform="translate(641.70,493.03) rotate(0.05)">Rv2346c</text>
<text transform="translate(641.70,498.71) rotate(0.05)">Rv2392</text>
<text transform="translate(641.70,504.40) rotate(0.05)">Rv1182</text>
<text transform="translate(641.70,510.09) rotate(0.05)">Rv3615c</text>
<text transform="translate(641.70,515.77) rotate(0.05)">Rv0502</text>
<text transform="translate(641.70,521.46) rotate(0.05)">Rv0073</text>
<text transform="translate(641.70,527.15) rotate(0.05)">Rv3616c</text>
<text transform="translate(641.70,532.83) rotate(0.05)">Rv3080c</text>
<text transform="translate(641.70,538.52) rotate(0.05)">Rv1175c</text>
<text transform="translate(641.70,544.21) rotate(0.05)">Rv1594</text>
<text transform="translate(641.70,549.89) rotate(0.05)">Rv1177</text>
<text transform="translate(641.70,555.58) rotate(0.05)">Rv1013</text>
<text transform="translate(641.70,561.27) rotate(0.05)">Rv1825</text>
</g>
<text x="298.0" y="441.4" font-size="10" text-anchor="middle" fill="#111" stroke="#111" stroke-width="0.08">Protein</text>
<text x="395.7" y="441.4" font-size="10" text-anchor="middle" fill="#eba75c">Transcript</text>
<rect x="252.10" y="445.20" width="85.90" height="6.30" fill="#878583"/>
<rect x="253.45" y="446.55" width="8.04" height="3.60" fill="#ffffff"/>
<rect x="262.84" y="446.55" width="8.04" height="3.60" fill="#ffffff"/>
<rect x="272.24" y="446.55" width="8.04" height="3.60" fill="#ffffff"/>
<rect x="281.63" y="446.55" width="8.04" height="3.60" fill="#ffffff"/>
<rect x="291.03" y="446.55" width="8.04" height="3.60" fill="#ffffff"/>
<rect x="300.42" y="446.55" width="8.04" height="3.60" fill="#ffffff"/>
<rect x="309.82" y="446.55" width="8.04" height="3.60" fill="#ffffff"/>
<rect x="319.21" y="446.55" width="8.04" height="3.60" fill="#ffffff"/>
<rect x="328.61" y="446.55" width="8.04" height="3.60" fill="#ffffff"/>
<rect x="375.60" y="445.20" width="29.00" height="6.30" fill="#878583"/>
<rect x="376.95" y="446.55" width="7.87" height="3.60" fill="#ffffff"/>
<rect x="386.17" y="446.55" width="7.87" height="3.60" fill="#ffffff"/>
<rect x="395.38" y="446.55" width="7.87" height="3.60" fill="#ffffff"/>
<g font-size="8.4" fill="#1a1a1a" stroke="#1a1a1a" stroke-width="0.1" text-anchor="end">
<text transform="translate(258.87,455.00) rotate(-45)">20 min</text>
<text transform="translate(268.42,455.00) rotate(-45)">40 min</text>
<text transform="translate(277.96,455.00) rotate(-45)">1 h</text>
<text transform="translate(287.51,455.00) rotate(-45)">2 h</text>
<text transform="translate(297.05,455.00) rotate(-45)">4 h</text>
<text transform="translate(306.59,455.00) rotate(-45)">8 h</text>
<text transform="translate(316.14,455.00) rotate(-45)">12 h</text>
<text transform="translate(325.68,455.00) rotate(-45)">24 h</text>
<text transform="translate(335.23,455.00) rotate(-45)">48 h</text>
</g>
<g font-size="8.4" fill="#1a1a1a" stroke="#1a1a1a" stroke-width="0.1" text-anchor="end">
<text transform="translate(382.43,455.00) rotate(-45)">20 min</text>
<text transform="translate(392.10,455.00) rotate(-45)">2 h</text>
<text transform="translate(401.77,455.00) rotate(-45)">24 h</text>
</g>
</svg>
</body></html>
